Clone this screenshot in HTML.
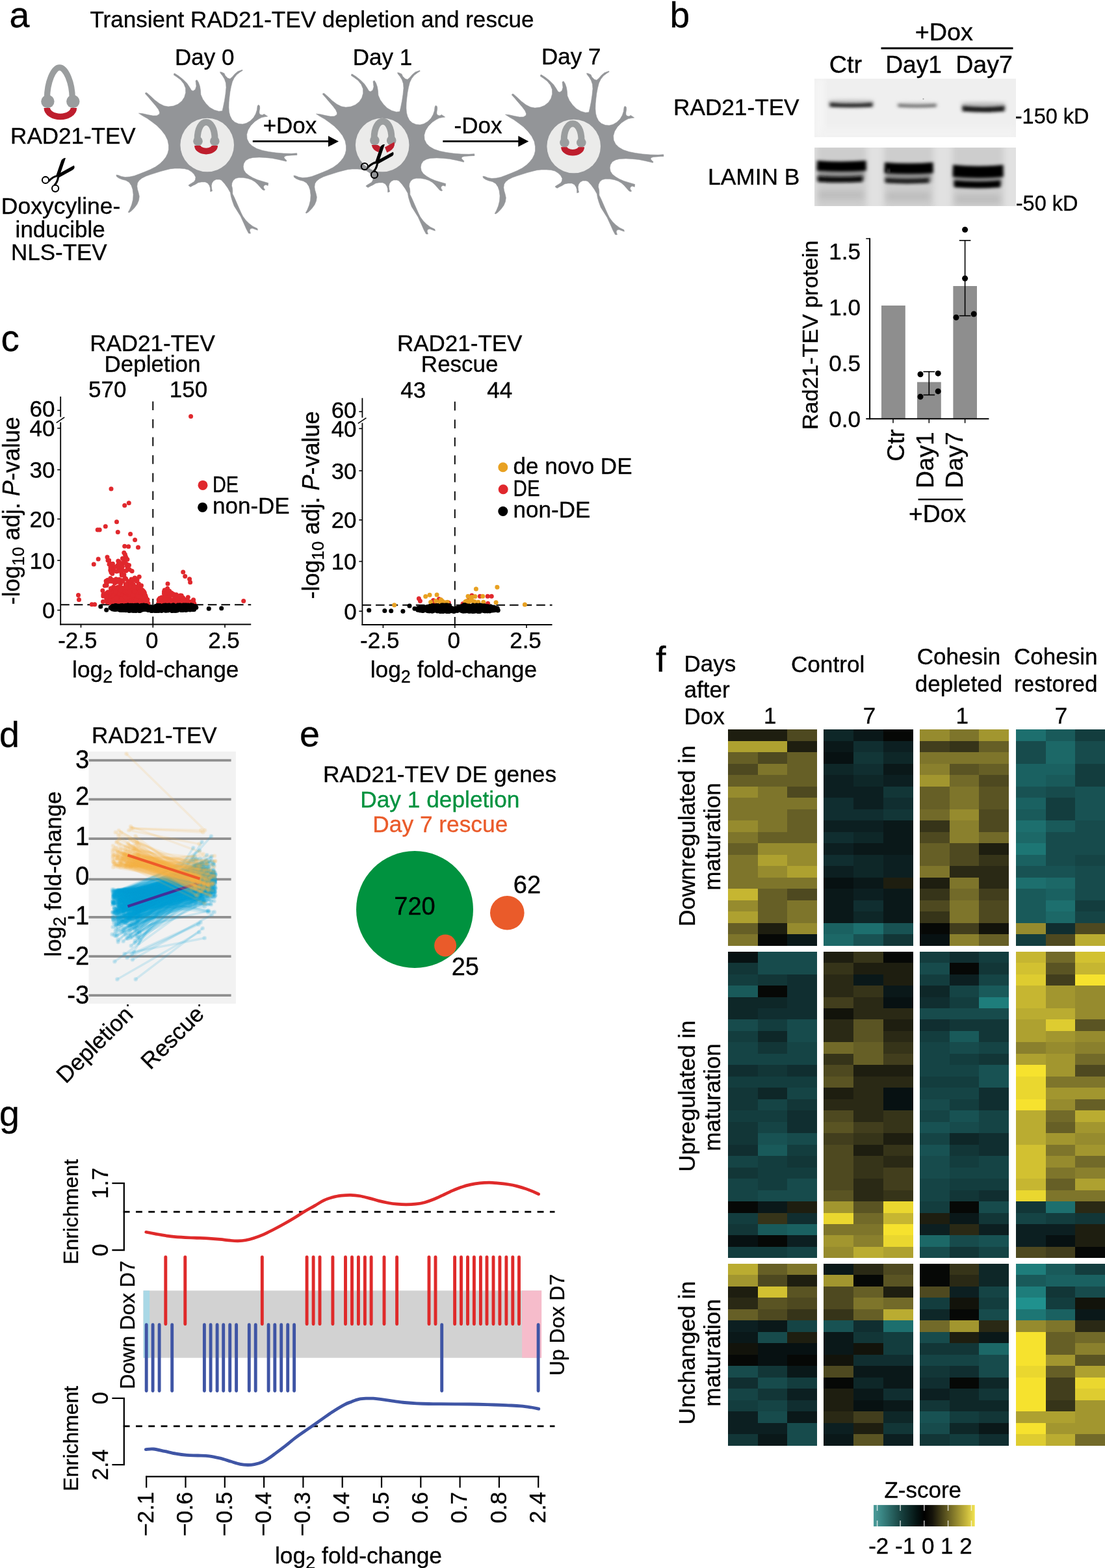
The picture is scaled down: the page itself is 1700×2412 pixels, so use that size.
<!DOCTYPE html>
<html lang="en"><head><meta charset="utf-8"><title>Transient RAD21-TEV depletion and rescue</title>
<style>
html,body{margin:0;padding:0;background:#fff}
body{width:1700px;height:2412px;overflow:hidden}
svg{display:block;font-family:"Liberation Sans", sans-serif}
text{stroke:#000;stroke-width:0.35px}
</style></head><body>
<svg width="1700" height="2412" viewBox="0 0 1700 2412">
<rect width="1700" height="2412" fill="#fff"/>
<g id="panel_a">
<text x="14.5" y="42.0" font-size="55.5">a</text>
<text x="138.4" y="42.0" font-size="35.1">Transient RAD21-TEV depletion and rescue</text>
<text x="314.7" y="99.5" font-size="35" text-anchor="middle">Day 0</text>
<text x="588.4" y="99.5" font-size="35" text-anchor="middle">Day 1</text>
<text x="878.7" y="98.8" font-size="35" text-anchor="middle">Day 7</text>
<g transform="translate(0,0)"><path d="M72.4,152 C72.4,127 82,103.9 91.6,103.9 C101.2,103.9 111.3,127 111.3,152" fill="none" stroke="#9a9d9e" stroke-width="9.3"/><circle cx="73.4" cy="156.1" r="10.2" fill="#9a9d9e"/><circle cx="112.3" cy="156.1" r="10.2" fill="#9a9d9e"/><path d="M72.3,166 A20.5,13.4 0 0 0 113.4,166" fill="none" stroke="#be1e2d" stroke-width="9.6"/></g>
<text x="112.4" y="220.6" font-size="35" text-anchor="middle">RAD21-TEV</text>
<g transform="translate(50.00,230.00) scale(0.04944)" fill="#000"><path d="M1032,262 C960,262 905,300 885,372 L738,800 L838,862 L872,735 Z"/><path d="M1288,498 C1330,560 1300,610 1240,642 L800,885 L760,800 L872,725 Z"/><path d="M780,820 C660,835 590,890 505,985" fill="none" stroke="#000" stroke-width="62"/><path d="M800,850 C790,960 740,1050 680,1115" fill="none" stroke="#000" stroke-width="62"/><circle cx="405" cy="950" r="103" fill="none" stroke="#000" stroke-width="42"/><circle cx="710" cy="1210" r="103" fill="none" stroke="#000" stroke-width="42"/></g>
<text x="93.6" y="329.0" font-size="35.5" text-anchor="middle">Doxycyline-</text>
<text x="92.7" y="365.2" font-size="35" text-anchor="middle">inducible</text>
<text x="90.8" y="399.6" font-size="35" text-anchor="middle">NLS-TEV</text>
<path d="M213.5,174.2 219.4,174.7 227.4,176.6 235.3,178.1 241.2,177.9 245.2,175.6 245.6,172.7 243.7,168.2 239.2,162.3 233.3,155.4 227.4,148.5 223.4,144.0 223.9,142.7 225.9,142.7 231.3,147.5 238.2,153.9 245.2,159.3 252.1,162.8 259.0,164.1 266.9,163.1 273.8,160.3 279.8,155.4 283.7,149.4 285.7,142.5 285.5,135.6 282.7,128.7 277.8,122.7 271.9,118.3 267.4,115.3 267.9,112.9 268.9,113.1 274.8,116.8 281.7,122.2 287.7,128.2 291.6,134.1 294.6,139.1 297.1,140.0 300.5,137.6 302.0,132.6 301.5,127.7 301.0,124.2 303.0,122.9 305.4,126.7 307.4,132.6 308.4,138.6 308.9,145.5 311.9,152.4 316.8,159.3 322.7,165.3 329.7,169.2 336.6,171.2 342.0,170.7 343.5,164.3 345.5,154.4 347.0,144.5 348.0,134.6 347.5,127.7 345.5,121.8 342.5,116.8 339.1,112.4 338.6,110.7 341.0,111.1 345.0,112.9 346.5,116.3 350.4,120.3 353.9,121.3 357.4,118.3 361.3,113.8 365.8,109.9 372.7,107.4 373.2,108.4 369.2,110.9 364.3,114.8 360.3,119.8 357.4,125.7 355.4,133.6 353.9,141.5 352.9,149.4 352.1,157.4 351.9,165.3 352.4,172.2 353.9,178.1 356.9,184.1 361.3,188.0 367.2,190.5 373.2,191.0 379.1,189.5 385.0,186.0 390.0,181.1 393.4,175.2 395.4,169.2 396.1,163.3 397.4,161.3 399.4,162.8 399.7,166.3 398.9,171.2 398.9,174.2 400.9,176.6 403.8,176.9 406.3,175.4 411.7,179.1 407.8,179.6 402.8,180.6 397.9,183.1 392.0,187.0 386.0,193.0 381.6,199.9 379.6,206.8 380.1,213.7 383.1,219.7 388.0,224.6 394.9,228.6 403.8,231.5 413.7,233.5 424.6,235.0 436.5,236.0 448.3,236.3 456.7,235.7 457.0,238.4 448.3,238.9 441.4,239.4 437.9,240.4 437.0,242.4 438.4,244.4 440.9,246.8 440.4,248.3 436.5,247.3 428.6,245.4 418.7,243.4 408.8,242.4 398.9,241.9 389.0,242.4 383.1,243.9 378.1,246.8 375.2,251.3 374.2,256.2 375.2,261.6 378.1,266.1 383.1,270.0 389.0,273.5 395.9,276.5 403.8,278.9 412.7,281.6 412.2,285.4 408.8,284.2 406.3,285.4 405.3,287.8 406.3,290.3 407.8,291.8 406.3,292.8 403.8,291.8 399.9,287.4 395.9,282.9 392.0,279.4 387.0,276.5 381.1,274.5 374.2,273.3 367.2,273.2 362.3,274.5 358.8,277.5 356.9,281.4 356.4,285.4 357.4,289.3 357.8,293.3 357.8,298.2 360.3,303.2 363.3,310.1 367.2,319.0 371.2,327.9 373.7,332.8 378.1,338.8 383.1,343.7 389.0,348.2 395.9,351.6 396.4,354.1 392.0,352.6 388.0,351.1 385.0,352.1 384.1,354.6 385.0,357.6 385.5,359.0 382.6,359.0 379.1,352.6 375.2,343.7 370.2,332.8 365.3,324.9 360.3,317.0 357.4,309.1 355.4,302.2 354.4,296.3 350.4,289.3 345.5,282.4 340.5,277.0 337.6,276.0 332.6,276.0 328.7,278.0 326.2,281.4 325.2,285.4 325.7,290.3 326.5,293.8 323.7,294.8 323.5,289.3 322.2,285.4 319.8,281.9 315.8,279.9 309.9,279.9 304.9,280.9 300.0,283.9 297.6,284.9 293.1,287.4 290.1,285.4 290.6,284.4 294.6,281.9 298.6,279.4 300.5,276.5 301.0,272.5 298.6,268.1 294.6,264.1 289.7,261.1 283.7,259.5 276.8,259.0 268.9,259.0 262.0,259.7 255.0,261.4 247.1,263.6 239.2,266.1 231.3,268.6 224.4,271.0 218.5,274.0 214.0,277.5 211.5,281.4 210.8,286.4 211.5,291.3 213.0,296.3 214.3,302.2 213.5,308.1 211.0,314.1 206.6,320.0 201.6,324.9 198.7,326.9 197.2,326.4 199.7,322.0 202.6,315.0 204.6,307.1 205.1,299.2 204.1,291.3 202.1,285.4 198.7,280.4 193.7,277.5 187.8,276.0 182.9,274.0 179.4,271.5 178.9,269.1 181.9,269.6 186.8,271.5 192.7,272.5 199.7,272.0 206.6,270.5 214.5,267.6 223.4,264.1 231.3,260.7 239.2,256.7 246.1,251.8 251.1,246.8 255.0,241.9 258.0,235.9 259.5,230.0 259.5,223.6 258.0,215.7 254.1,207.8 248.1,199.9 241.2,193.0 233.3,187.0 226.4,182.1 219.4,178.1Z" fill="#939598" stroke="#939598" stroke-width="0.6" stroke-linejoin="round"/>
<circle cx="318.7" cy="223.0" r="41.3" fill="#ebebea"/>
<path d="M486.5,175.2 492.4,175.7 500.4,177.6 508.3,179.1 514.2,178.9 518.2,176.6 518.6,173.7 516.7,169.2 512.2,163.3 506.3,156.4 500.4,149.5 496.4,145.0 496.9,143.7 498.9,143.7 504.3,148.5 511.2,154.9 518.2,160.3 525.1,163.8 532.0,165.1 539.9,164.1 546.8,161.3 552.8,156.4 556.7,150.4 558.7,143.5 558.5,136.6 555.7,129.7 550.8,123.7 544.9,119.3 540.4,116.3 540.9,113.9 541.9,114.1 547.8,117.8 554.7,123.2 560.7,129.2 564.6,135.1 567.6,140.1 570.1,141.0 573.5,138.6 575.0,133.6 574.5,128.7 574.0,125.2 576.0,123.9 578.4,127.7 580.4,133.6 581.4,139.6 581.9,146.5 584.9,153.4 589.8,160.3 595.7,166.3 602.7,170.2 609.6,172.2 615.0,171.7 616.5,165.3 618.5,155.4 620.0,145.5 621.0,135.6 620.5,128.7 618.5,122.8 615.5,117.8 612.1,113.4 611.6,111.7 614.0,112.1 618.0,113.9 619.5,117.3 623.4,121.3 626.9,122.3 630.4,119.3 634.3,114.8 638.8,110.9 645.7,108.4 646.2,109.4 642.2,111.9 637.3,115.8 633.3,120.8 630.4,126.7 628.4,134.6 626.9,142.5 625.9,150.4 625.1,158.4 624.9,166.3 625.4,173.2 626.9,179.1 629.9,185.1 634.3,189.0 640.2,191.5 646.2,192.0 652.1,190.5 658.0,187.0 663.0,182.1 666.4,176.2 668.4,170.2 669.1,164.3 670.4,162.3 672.4,163.8 672.7,167.3 671.9,172.2 671.9,175.2 673.9,177.6 676.8,177.9 679.3,176.4 684.7,180.1 680.8,180.6 675.8,181.6 670.9,184.1 665.0,188.0 659.0,194.0 654.6,200.9 652.6,207.8 653.1,214.7 656.1,220.7 661.0,225.6 667.9,229.6 676.8,232.5 686.7,234.5 697.6,236.0 709.5,237.0 721.3,237.3 729.7,236.7 730.0,239.4 721.3,239.9 714.4,240.4 710.9,241.4 710.0,243.4 711.4,245.4 713.9,247.8 713.4,249.3 709.5,248.3 701.6,246.4 691.7,244.4 681.8,243.4 671.9,242.9 662.0,243.4 656.1,244.9 651.1,247.8 648.2,252.3 647.2,257.2 648.2,262.6 651.1,267.1 656.1,271.0 662.0,274.5 668.9,277.5 676.8,279.9 685.7,282.6 685.2,286.4 681.8,285.2 679.3,286.4 678.3,288.8 679.3,291.3 680.8,292.8 679.3,293.8 676.8,292.8 672.9,288.4 668.9,283.9 665.0,280.4 660.0,277.5 654.1,275.5 647.2,274.3 640.2,274.2 635.3,275.5 631.8,278.5 629.9,282.4 629.4,286.4 630.4,290.3 630.8,294.3 630.8,299.2 633.3,304.2 636.3,311.1 640.2,320.0 644.2,328.9 646.7,333.8 651.1,339.8 656.1,344.7 662.0,349.2 668.9,352.6 669.4,355.1 665.0,353.6 661.0,352.1 658.0,353.1 657.1,355.6 658.0,358.6 658.5,360.0 655.6,360.0 652.1,353.6 648.2,344.7 643.2,333.8 638.3,325.9 633.3,318.0 630.4,310.1 628.4,303.2 627.4,297.3 623.4,290.3 618.5,283.4 613.5,278.0 610.6,277.0 605.6,277.0 601.7,279.0 599.2,282.4 598.2,286.4 598.7,291.3 599.5,294.8 596.7,295.8 596.5,290.3 595.2,286.4 592.8,282.9 588.8,280.9 582.9,280.9 577.9,281.9 573.0,284.9 570.6,285.9 566.1,288.4 563.1,286.4 563.6,285.4 567.6,282.9 571.6,280.4 573.5,277.5 574.0,273.5 571.6,269.1 567.6,265.1 562.7,262.1 556.7,260.5 549.8,260.0 541.9,260.0 535.0,260.7 528.0,262.4 520.1,264.6 512.2,267.1 504.3,269.6 497.4,272.0 491.5,275.0 487.0,278.5 484.5,282.4 483.8,287.4 484.5,292.3 486.0,297.3 487.3,303.2 486.5,309.1 484.0,315.1 479.6,321.0 474.6,325.9 471.7,327.9 470.2,327.4 472.7,323.0 475.6,316.0 477.6,308.1 478.1,300.2 477.1,292.3 475.1,286.4 471.7,281.4 466.7,278.5 460.8,277.0 455.9,275.0 452.4,272.5 451.9,270.1 454.9,270.6 459.8,272.5 465.7,273.5 472.7,273.0 479.6,271.5 487.5,268.6 496.4,265.1 504.3,261.7 512.2,257.7 519.1,252.8 524.1,247.8 528.0,242.9 531.0,236.9 532.5,231.0 532.5,224.6 531.0,216.7 527.1,208.8 521.1,200.9 514.2,194.0 506.3,188.0 499.4,183.1 492.4,179.1Z" fill="#939598" stroke="#939598" stroke-width="0.6" stroke-linejoin="round"/>
<circle cx="588.2" cy="223.0" r="41.3" fill="#ebebea"/>
<path d="M777.5,176.2 783.4,176.7 791.4,178.6 799.3,180.1 805.2,179.9 809.2,177.6 809.6,174.7 807.7,170.2 803.2,164.3 797.3,157.4 791.4,150.5 787.4,146.0 787.9,144.7 789.9,144.7 795.3,149.5 802.2,155.9 809.2,161.3 816.1,164.8 823.0,166.1 830.9,165.1 837.8,162.3 843.8,157.4 847.7,151.4 849.7,144.5 849.5,137.6 846.7,130.7 841.8,124.7 835.9,120.3 831.4,117.3 831.9,114.9 832.9,115.1 838.8,118.8 845.7,124.2 851.7,130.2 855.6,136.1 858.6,141.1 861.1,142.0 864.5,139.6 866.0,134.6 865.5,129.7 865.0,126.2 867.0,124.9 869.4,128.7 871.4,134.6 872.4,140.6 872.9,147.5 875.9,154.4 880.8,161.3 886.7,167.3 893.7,171.2 900.6,173.2 906.0,172.7 907.5,166.3 909.5,156.4 911.0,146.5 912.0,136.6 911.5,129.7 909.5,123.8 906.5,118.8 903.1,114.4 902.6,112.7 905.0,113.1 909.0,114.9 910.5,118.3 914.4,122.3 917.9,123.3 921.4,120.3 925.3,115.8 929.8,111.9 936.7,109.4 937.2,110.4 933.2,112.9 928.3,116.8 924.3,121.8 921.4,127.7 919.4,135.6 917.9,143.5 916.9,151.4 916.1,159.4 915.9,167.3 916.4,174.2 917.9,180.1 920.9,186.1 925.3,190.0 931.2,192.5 937.2,193.0 943.1,191.5 949.0,188.0 954.0,183.1 957.4,177.2 959.4,171.2 960.1,165.3 961.4,163.3 963.4,164.8 963.7,168.3 962.9,173.2 962.9,176.2 964.9,178.6 967.8,178.9 970.3,177.4 975.7,181.1 971.8,181.6 966.8,182.6 961.9,185.1 956.0,189.0 950.0,195.0 945.6,201.9 943.6,208.8 944.1,215.7 947.1,221.7 952.0,226.6 958.9,230.6 967.8,233.5 977.7,235.5 988.6,237.0 1000.5,238.0 1012.3,238.3 1020.7,237.7 1021.0,240.4 1012.3,240.9 1005.4,241.4 1001.9,242.4 1001.0,244.4 1002.4,246.4 1004.9,248.8 1004.4,250.3 1000.5,249.3 992.6,247.4 982.7,245.4 972.8,244.4 962.9,243.9 953.0,244.4 947.1,245.9 942.1,248.8 939.2,253.3 938.2,258.2 939.2,263.6 942.1,268.1 947.1,272.0 953.0,275.5 959.9,278.5 967.8,280.9 976.7,283.6 976.2,287.4 972.8,286.2 970.3,287.4 969.3,289.8 970.3,292.3 971.8,293.8 970.3,294.8 967.8,293.8 963.9,289.4 959.9,284.9 956.0,281.4 951.0,278.5 945.1,276.5 938.2,275.3 931.2,275.2 926.3,276.5 922.8,279.5 920.9,283.4 920.4,287.4 921.4,291.3 921.8,295.3 921.8,300.2 924.3,305.2 927.3,312.1 931.2,321.0 935.2,329.9 937.7,334.8 942.1,340.8 947.1,345.7 953.0,350.2 959.9,353.6 960.4,356.1 956.0,354.6 952.0,353.1 949.0,354.1 948.1,356.6 949.0,359.6 949.5,361.0 946.6,361.0 943.1,354.6 939.2,345.7 934.2,334.8 929.3,326.9 924.3,319.0 921.4,311.1 919.4,304.2 918.4,298.3 914.4,291.3 909.5,284.4 904.5,279.0 901.6,278.0 896.6,278.0 892.7,280.0 890.2,283.4 889.2,287.4 889.7,292.3 890.5,295.8 887.7,296.8 887.5,291.3 886.2,287.4 883.8,283.9 879.8,281.9 873.9,281.9 868.9,282.9 864.0,285.9 861.6,286.9 857.1,289.4 854.1,287.4 854.6,286.4 858.6,283.9 862.6,281.4 864.5,278.5 865.0,274.5 862.6,270.1 858.6,266.1 853.7,263.1 847.7,261.5 840.8,261.0 832.9,261.0 826.0,261.7 819.0,263.4 811.1,265.6 803.2,268.1 795.3,270.6 788.4,273.0 782.5,276.0 778.0,279.5 775.5,283.4 774.8,288.4 775.5,293.3 777.0,298.3 778.3,304.2 777.5,310.1 775.0,316.1 770.6,322.0 765.6,326.9 762.7,328.9 761.2,328.4 763.7,324.0 766.6,317.0 768.6,309.1 769.1,301.2 768.1,293.3 766.1,287.4 762.7,282.4 757.7,279.5 751.8,278.0 746.9,276.0 743.4,273.5 742.9,271.1 745.9,271.6 750.8,273.5 756.7,274.5 763.7,274.0 770.6,272.5 778.5,269.6 787.4,266.1 795.3,262.7 803.2,258.7 810.1,253.8 815.1,248.8 819.0,243.9 822.0,237.9 823.5,232.0 823.5,225.6 822.0,217.7 818.1,209.8 812.1,201.9 805.2,195.0 797.3,189.0 790.4,184.1 783.4,180.1Z" fill="#939598" stroke="#939598" stroke-width="0.6" stroke-linejoin="round"/>
<circle cx="882.7" cy="225.0" r="41.3" fill="#ebebea"/>
<g transform="translate(317.1,183.0)"><path d="M-13.4,31 C-13.4,14 -7,5 0,5 C7,5 13.4,14 13.4,31" fill="none" stroke="#9a9d9e" stroke-width="10"/><circle cx="-12.6" cy="34.2" r="7.3" fill="#9a9d9e"/><circle cx="13.2" cy="34.2" r="7.3" fill="#9a9d9e"/><path d="M-13.2,41 A13.2,8.6 0 0 0 13.2,41" fill="none" stroke="#be1e2d" stroke-width="9.6"/></g>
<g transform="translate(589.0,181.8)"><path d="M-13.4,31 C-13.4,14 -7,5 0,5 C7,5 13.4,14 13.4,31" fill="none" stroke="#9a9d9e" stroke-width="10"/><circle cx="-12.6" cy="34.2" r="7.3" fill="#9a9d9e"/><circle cx="13.2" cy="34.2" r="7.3" fill="#9a9d9e"/><path d="M-17.3,41.2 L-7.8,41.2 L-3.5,44.3 L-6.8,52.4 Q-15.6,49.5 -17.3,41.2Z" fill="#be1e2d"/><path d="M17.6,36.7 L3,44.6 L6.3,53 Q16.5,48.7 18,41.2Z" fill="#be1e2d"/></g>
<g transform="translate(881.1,185.2)"><path d="M-13.4,31 C-13.4,14 -7,5 0,5 C7,5 13.4,14 13.4,31" fill="none" stroke="#9a9d9e" stroke-width="10"/><circle cx="-12.6" cy="34.2" r="7.3" fill="#9a9d9e"/><circle cx="13.2" cy="34.2" r="7.3" fill="#9a9d9e"/><path d="M-13.2,41 A13.2,8.6 0 0 0 13.2,41" fill="none" stroke="#be1e2d" stroke-width="9.6"/></g>
<g transform="translate(540.90,209.10) scale(0.04944)" fill="#000"><path d="M1032,262 C960,262 905,300 885,372 L738,800 L838,862 L872,735 Z"/><path d="M1288,498 C1330,560 1300,610 1240,642 L800,885 L760,800 L872,725 Z"/><path d="M780,820 C660,835 590,890 505,985" fill="none" stroke="#000" stroke-width="62"/><path d="M800,850 C790,960 740,1050 680,1115" fill="none" stroke="#000" stroke-width="62"/><circle cx="405" cy="950" r="103" fill="none" stroke="#000" stroke-width="42"/><circle cx="710" cy="1210" r="103" fill="none" stroke="#000" stroke-width="42"/></g>
<line x1="388.8" y1="217.4" x2="507.0" y2="217.4" stroke="#000" stroke-width="2.6"/><path d="M521.0,217.4 L505.0,209.1 L505.0,225.7Z"/>
<line x1="681.3" y1="217.4" x2="799.3" y2="217.4" stroke="#000" stroke-width="2.6"/><path d="M813.3,217.4 L797.3,209.1 L797.3,225.7Z"/>
<text x="446.0" y="204.9" font-size="35" text-anchor="middle">+Dox</text>
<text x="735.5" y="204.9" font-size="35" text-anchor="middle">-Dox</text>
</g>
<g id="panel_b">
<defs><filter id="b1" x="-20%" y="-100%" width="140%" height="300%"><feGaussianBlur stdDeviation="2.4 1.9"/></filter><filter id="b2" x="-20%" y="-100%" width="140%" height="300%"><feGaussianBlur stdDeviation="3 2.6"/></filter><filter id="b3" x="-20%" y="-100%" width="140%" height="300%"><feGaussianBlur stdDeviation="5 5"/></filter><clipPath id="cb1"><rect x="1253" y="120.9" width="310" height="90"/></clipPath><clipPath id="cb2"><rect x="1253" y="227" width="310" height="90"/></clipPath></defs>
<text x="1030.5" y="41.5" font-size="55">b</text>
<text x="1452.3" y="62.4" font-size="37.8" text-anchor="middle">+Dox</text>
<line x1="1355.5" y1="74.2" x2="1558.5" y2="74.2" stroke="#000" stroke-width="3.0"/>
<text x="1300.9" y="112.4" font-size="37.8" text-anchor="middle">Ctr</text>
<text x="1405.6" y="112.4" font-size="37.2" text-anchor="middle">Day1</text>
<text x="1514.1" y="112.4" font-size="37.6" text-anchor="middle">Day7</text>
<text x="1229.6" y="176.9" font-size="35.2" text-anchor="end">RAD21-TEV</text>
<text x="1230.3" y="283.8" font-size="35.3" text-anchor="end">LAMIN B</text>
<text x="1561.8" y="190.4" font-size="32.5">-150 kD</text>
<text x="1562.8" y="324.2" font-size="32.5">-50 kD</text>
<g clip-path="url(#cb1)">
<rect x="1253.00" y="120.90" width="310.00" height="90.00" fill="#efefef"/>
<rect x="1253.00" y="120.90" width="16.00" height="90.00" fill="#f5f5f5" filter="url(#b3)"/>
<rect x="1262.00" y="196.00" width="300.00" height="20.00" fill="#f3f3f3" filter="url(#b3)"/>
<path d="M1276.0,153.5 Q1309.5,151.8 1343.0,153.5 L1343.0,162.2 Q1309.5,160.8 1276.0,162.2Z" fill="#c4c4c4" filter="url(#b2)" opacity="0.9"/>
<path d="M1381.0,157.4 Q1411.0,156.0 1441.0,157.4 L1441.0,163.2 Q1411.0,162.0 1381.0,163.2Z" fill="#d6d6d6" filter="url(#b2)" opacity="0.9"/>
<path d="M1480.0,157.5 Q1513.0,155.8 1546.0,157.5 L1546.0,168.2 Q1513.0,166.8 1480.0,168.2Z" fill="#bcbcbc" filter="url(#b2)" opacity="0.9"/>
<path d="M1276.5,157.7 Q1309.5,160.2 1342.5,157.7 L1342.5,164.4 Q1309.5,166.6 1276.5,164.4Z" fill="#2c2c2c" filter="url(#b1)" opacity="1"/>
<path d="M1381.5,159.7 Q1411.0,161.9 1440.5,159.7 L1440.5,164.6 Q1411.0,166.5 1381.5,164.6Z" fill="#6e6e6e" filter="url(#b1)" opacity="1"/>
<path d="M1480.5,162.8 Q1513.0,166.2 1545.5,162.8 L1545.5,171.3 Q1513.0,174.2 1480.5,171.3Z" fill="#1e1e1e" filter="url(#b1)" opacity="1"/>
<circle cx="1420.5" cy="152.3" r="1.0" fill="#999"/>
</g>
<g clip-path="url(#cb2)">
<rect x="1253.00" y="227.00" width="310.00" height="90.00" fill="#e1e1e1"/>
<rect x="1256.00" y="222.00" width="77.00" height="100.00" fill="#cdcdcd" filter="url(#b3)"/>
<rect x="1360.00" y="222.00" width="76.00" height="100.00" fill="#cdcdcd" filter="url(#b3)"/>
<rect x="1465.00" y="222.00" width="79.00" height="100.00" fill="#cdcdcd" filter="url(#b3)"/>
<rect x="1260.00" y="294.00" width="68.00" height="12.00" fill="#bcbcbc" filter="url(#b3)"/>
<rect x="1364.00" y="296.00" width="66.00" height="12.00" fill="#bcbcbc" filter="url(#b3)"/>
<rect x="1470.00" y="300.00" width="68.00" height="12.00" fill="#bcbcbc" filter="url(#b3)"/>
<path d="M1258.0,253.2 Q1294.0,256.0 1330.0,253.2 L1330.0,277.6 Q1294.0,280.0 1258.0,277.6Z" fill="#8a8a8a" filter="url(#b2)" opacity="0.9"/>
<path d="M1362.0,256.2 Q1397.5,259.0 1433.0,256.2 L1433.0,280.6 Q1397.5,283.0 1362.0,280.6Z" fill="#8a8a8a" filter="url(#b2)" opacity="0.9"/>
<path d="M1467.0,261.2 Q1504.0,264.0 1541.0,261.2 L1541.0,285.6 Q1504.0,288.0 1467.0,285.6Z" fill="#8a8a8a" filter="url(#b2)" opacity="0.9"/>
<path d="M1257.0,247.1 Q1294.8,249.9 1332.5,247.1 L1332.5,262.5 Q1294.8,264.9 1257.0,262.5Z" fill="#000" filter="url(#b1)" opacity="1"/>
<path d="M1361.0,249.7 Q1398.2,252.8 1435.5,249.7 L1435.5,266.2 Q1398.2,268.8 1361.0,266.2Z" fill="#000" filter="url(#b1)" opacity="1"/>
<path d="M1466.0,253.4 Q1504.8,257.6 1543.5,253.4 L1543.5,272.0 Q1504.8,275.6 1466.0,272.0Z" fill="#000" filter="url(#b1)" opacity="1"/>
<path d="M1258.0,270.8 Q1292.5,273.4 1327.0,270.8 L1327.0,279.7 Q1292.5,281.9 1258.0,279.7Z" fill="#0c0c0c" filter="url(#b1)" opacity="1"/>
<path d="M1362.0,273.8 Q1395.5,276.3 1429.0,273.8 L1429.0,281.1 Q1395.5,283.3 1362.0,281.1Z" fill="#1c1c1c" filter="url(#b1)" opacity="1"/>
<path d="M1468.0,277.6 Q1503.5,281.0 1539.0,277.6 L1539.0,288.1 Q1503.5,291.0 1468.0,288.1Z" fill="#050505" filter="url(#b1)" opacity="1"/>
<circle cx="1367.2" cy="262.5" r="1.6" fill="#ddd" filter="url(#b1)"/>
</g>
<rect x="1356.00" y="470.00" width="36.80" height="174.30" fill="#8e8e8e"/>
<rect x="1411.00" y="587.70" width="36.80" height="56.60" fill="#8e8e8e"/>
<rect x="1466.40" y="440.00" width="36.60" height="204.30" fill="#8e8e8e"/>
<line x1="1338.1" y1="366.3" x2="1338.1" y2="645.3" stroke="#000" stroke-width="2.0"/>
<line x1="1332.3" y1="644.3" x2="1521.4" y2="644.3" stroke="#000" stroke-width="2.0"/>
<line x1="1332.3" y1="367.1" x2="1338.1" y2="367.1" stroke="#000" stroke-width="1.5"/>
<line x1="1374.0" y1="644.3" x2="1374.0" y2="650.8" stroke="#000" stroke-width="1.5"/>
<line x1="1429.3" y1="644.3" x2="1429.3" y2="650.8" stroke="#000" stroke-width="1.5"/>
<line x1="1484.6" y1="644.3" x2="1484.6" y2="650.8" stroke="#000" stroke-width="1.5"/>
<text x="1324.0" y="398.8" font-size="35" text-anchor="end">1.5</text>
<text x="1324.0" y="484.7" font-size="35" text-anchor="end">1.0</text>
<text x="1324.0" y="570.5" font-size="35" text-anchor="end">0.5</text>
<text x="1324.0" y="656.8" font-size="35" text-anchor="end">0.0</text>
<line x1="1429.3" y1="571.7" x2="1429.3" y2="607.5" stroke="#000" stroke-width="1.6"/>
<line x1="1420.5" y1="571.7" x2="1438.1" y2="571.7" stroke="#000" stroke-width="1.6"/>
<line x1="1420.5" y1="607.5" x2="1438.1" y2="607.5" stroke="#000" stroke-width="1.6"/>
<line x1="1484.6" y1="369.9" x2="1484.6" y2="485.7" stroke="#000" stroke-width="1.6"/>
<line x1="1475.8" y1="369.9" x2="1493.4" y2="369.9" stroke="#000" stroke-width="1.6"/>
<line x1="1475.8" y1="485.7" x2="1493.4" y2="485.7" stroke="#000" stroke-width="1.6"/>
<circle cx="1416.0" cy="575.7" r="4.5" fill="#000"/>
<circle cx="1443.2" cy="574.4" r="4.5" fill="#000"/>
<circle cx="1443.2" cy="601.9" r="4.5" fill="#000"/>
<circle cx="1416.0" cy="610.3" r="4.5" fill="#000"/>
<circle cx="1484.6" cy="353.2" r="4.5" fill="#000"/>
<circle cx="1484.6" cy="428.3" r="4.5" fill="#000"/>
<circle cx="1471.0" cy="488.2" r="4.5" fill="#000"/>
<circle cx="1498.2" cy="483.0" r="4.5" fill="#000"/>
<text x="1258.5" y="515.4" font-size="34" text-anchor="middle" transform="rotate(-90 1258.5 515.4)">Rad21-TEV protein</text>
<text x="1391.0" y="660.5" font-size="37" text-anchor="end" transform="rotate(-90 1391.0 660.5)">Ctr</text>
<text x="1436.0" y="664.5" font-size="37" text-anchor="end" transform="rotate(-90 1436.0 664.5)">Day1</text>
<text x="1480.5" y="664.5" font-size="37" text-anchor="end" transform="rotate(-90 1480.5 664.5)">Day7</text>
<line x1="1412.6" y1="768.3" x2="1481.3" y2="768.3" stroke="#000" stroke-width="2.6"/>
<text x="1442.0" y="802.8" font-size="37.3" text-anchor="middle">+Dox</text>
</g>
<g id="panel_c">
<text x="1.5" y="539.5" font-size="56.5">c</text>
<text x="234.5" y="539.6" font-size="35" text-anchor="middle">RAD21-TEV</text>
<text x="234.5" y="571.5" font-size="35" text-anchor="middle">Depletion</text>
<text x="165.3" y="610.6" font-size="35" text-anchor="middle">570</text>
<text x="290.0" y="610.6" font-size="35" text-anchor="middle">150</text>
<line x1="93.2" y1="610.0" x2="93.2" y2="641.5" stroke="#000" stroke-width="1.8"/>
<line x1="93.2" y1="649.5" x2="93.2" y2="961.4" stroke="#000" stroke-width="1.8"/>
<line x1="86.7" y1="650.3" x2="99.2" y2="641.9" stroke="#000" stroke-width="1.6"/>
<line x1="92.3" y1="960.5" x2="386.2" y2="960.5" stroke="#000" stroke-width="1.8"/>
<line x1="88.2" y1="631.3" x2="93.2" y2="631.3" stroke="#000" stroke-width="1.6"/>
<text x="84.5" y="640.8" font-size="35" text-anchor="end">60</text>
<line x1="88.2" y1="658.7" x2="93.2" y2="658.7" stroke="#000" stroke-width="1.6"/>
<text x="84.5" y="671.2" font-size="35" text-anchor="end">40</text>
<line x1="88.2" y1="722.6" x2="93.2" y2="722.6" stroke="#000" stroke-width="1.6"/>
<text x="84.5" y="735.1" font-size="35" text-anchor="end">30</text>
<line x1="88.2" y1="798.4" x2="93.2" y2="798.4" stroke="#000" stroke-width="1.6"/>
<text x="84.5" y="810.9" font-size="35" text-anchor="end">20</text>
<line x1="88.2" y1="862.1" x2="93.2" y2="862.1" stroke="#000" stroke-width="1.6"/>
<text x="84.5" y="874.6" font-size="35" text-anchor="end">10</text>
<line x1="88.2" y1="938.6" x2="93.2" y2="938.6" stroke="#000" stroke-width="1.6"/>
<text x="84.5" y="951.1" font-size="35" text-anchor="end">0</text>
<line x1="124.5" y1="960.5" x2="124.5" y2="965.5" stroke="#000" stroke-width="1.6"/>
<text x="119.3" y="996.6" font-size="35" text-anchor="middle">-2.5</text>
<line x1="235.3" y1="960.5" x2="235.3" y2="965.5" stroke="#000" stroke-width="1.6"/>
<text x="233.8" y="996.6" font-size="35" text-anchor="middle">0</text>
<line x1="346.0" y1="960.5" x2="346.0" y2="965.5" stroke="#000" stroke-width="1.6"/>
<text x="344.5" y="996.6" font-size="35" text-anchor="middle">2.5</text>
<line x1="235.3" y1="617.4" x2="235.3" y2="960.5" stroke="#000" stroke-width="1.9" stroke-dasharray="13.6 14"/>
<line x1="93.2" y1="930.3" x2="386.2" y2="930.3" stroke="#000" stroke-width="1.9" stroke-dasharray="13.6 7"/>
<g fill="#e0282d"><circle cx="202.4" cy="904.5" r="3.5"/><circle cx="187.2" cy="882.6" r="3.5"/><circle cx="187.6" cy="876.6" r="3.5"/><circle cx="189.1" cy="894.0" r="3.5"/><circle cx="192.3" cy="910.1" r="3.5"/><circle cx="190.0" cy="914.5" r="3.5"/><circle cx="191.1" cy="920.2" r="3.5"/><circle cx="165.8" cy="894.7" r="3.5"/><circle cx="163.1" cy="893.8" r="3.5"/><circle cx="193.8" cy="925.5" r="3.5"/><circle cx="203.0" cy="922.2" r="3.5"/><circle cx="193.9" cy="924.4" r="3.5"/><circle cx="193.3" cy="898.8" r="3.5"/><circle cx="192.4" cy="853.0" r="3.5"/><circle cx="223.6" cy="915.7" r="3.5"/><circle cx="161.2" cy="901.0" r="3.5"/><circle cx="211.8" cy="916.2" r="3.5"/><circle cx="216.2" cy="917.4" r="3.5"/><circle cx="193.2" cy="855.9" r="3.5"/><circle cx="171.6" cy="907.9" r="3.5"/><circle cx="193.5" cy="903.5" r="3.5"/><circle cx="159.0" cy="914.3" r="3.5"/><circle cx="168.7" cy="866.6" r="3.5"/><circle cx="203.0" cy="900.3" r="3.5"/><circle cx="202.6" cy="897.5" r="3.5"/><circle cx="214.9" cy="907.8" r="3.5"/><circle cx="182.8" cy="868.2" r="3.5"/><circle cx="188.8" cy="914.7" r="3.5"/><circle cx="210.9" cy="924.9" r="3.5"/><circle cx="216.5" cy="908.7" r="3.5"/><circle cx="199.3" cy="876.2" r="3.5"/><circle cx="158.8" cy="916.9" r="3.5"/><circle cx="201.5" cy="894.5" r="3.5"/><circle cx="194.0" cy="857.9" r="3.5"/><circle cx="166.0" cy="910.7" r="3.5"/><circle cx="204.3" cy="927.0" r="3.5"/><circle cx="164.1" cy="900.5" r="3.5"/><circle cx="172.8" cy="882.5" r="3.5"/><circle cx="199.6" cy="912.6" r="3.5"/><circle cx="202.1" cy="891.1" r="3.5"/><circle cx="174.2" cy="916.9" r="3.5"/><circle cx="185.8" cy="907.8" r="3.5"/><circle cx="197.6" cy="901.0" r="3.5"/><circle cx="203.7" cy="893.6" r="3.5"/><circle cx="186.1" cy="909.9" r="3.5"/><circle cx="171.0" cy="880.6" r="3.5"/><circle cx="193.5" cy="878.0" r="3.5"/><circle cx="216.0" cy="914.9" r="3.5"/><circle cx="179.0" cy="905.0" r="3.5"/><circle cx="211.0" cy="891.9" r="3.5"/><circle cx="210.8" cy="892.9" r="3.5"/><circle cx="172.9" cy="920.4" r="3.5"/><circle cx="173.4" cy="925.6" r="3.5"/><circle cx="181.0" cy="869.4" r="3.5"/><circle cx="208.6" cy="907.7" r="3.5"/><circle cx="197.0" cy="894.2" r="3.5"/><circle cx="214.2" cy="887.3" r="3.5"/><circle cx="175.8" cy="877.9" r="3.5"/><circle cx="220.9" cy="927.5" r="3.5"/><circle cx="175.5" cy="910.0" r="3.5"/><circle cx="211.1" cy="902.9" r="3.5"/><circle cx="190.8" cy="862.3" r="3.5"/><circle cx="188.4" cy="871.4" r="3.5"/><circle cx="198.2" cy="904.4" r="3.5"/><circle cx="171.9" cy="879.5" r="3.5"/><circle cx="167.0" cy="926.6" r="3.5"/><circle cx="181.7" cy="917.5" r="3.5"/><circle cx="158.5" cy="925.4" r="3.5"/><circle cx="183.0" cy="864.0" r="3.5"/><circle cx="164.2" cy="912.4" r="3.5"/><circle cx="164.6" cy="926.0" r="3.5"/><circle cx="202.7" cy="906.0" r="3.5"/><circle cx="163.7" cy="921.0" r="3.5"/><circle cx="211.9" cy="912.5" r="3.5"/><circle cx="179.8" cy="895.2" r="3.5"/><circle cx="157.9" cy="908.4" r="3.5"/><circle cx="177.1" cy="872.1" r="3.5"/><circle cx="183.3" cy="903.3" r="3.5"/><circle cx="188.4" cy="867.6" r="3.5"/><circle cx="181.8" cy="873.0" r="3.5"/><circle cx="195.8" cy="911.6" r="3.5"/><circle cx="219.6" cy="921.5" r="3.5"/><circle cx="216.5" cy="915.2" r="3.5"/><circle cx="192.4" cy="865.7" r="3.5"/><circle cx="169.9" cy="889.6" r="3.5"/><circle cx="181.8" cy="862.9" r="3.5"/><circle cx="177.2" cy="911.7" r="3.5"/><circle cx="207.7" cy="889.3" r="3.5"/><circle cx="202.4" cy="900.6" r="3.5"/><circle cx="185.8" cy="897.5" r="3.5"/><circle cx="221.7" cy="921.9" r="3.5"/><circle cx="221.5" cy="926.7" r="3.5"/><circle cx="171.5" cy="907.9" r="3.5"/><circle cx="173.5" cy="892.3" r="3.5"/><circle cx="195.3" cy="869.0" r="3.5"/><circle cx="181.9" cy="902.9" r="3.5"/><circle cx="167.7" cy="862.0" r="3.5"/><circle cx="168.8" cy="894.0" r="3.5"/><circle cx="165.6" cy="892.2" r="3.5"/><circle cx="221.3" cy="909.9" r="3.5"/><circle cx="170.4" cy="904.9" r="3.5"/><circle cx="167.7" cy="916.4" r="3.5"/><circle cx="174.5" cy="902.9" r="3.5"/><circle cx="194.7" cy="916.0" r="3.5"/><circle cx="180.4" cy="913.7" r="3.5"/><circle cx="163.8" cy="898.3" r="3.5"/><circle cx="210.2" cy="894.3" r="3.5"/><circle cx="170.7" cy="878.2" r="3.5"/><circle cx="164.2" cy="912.4" r="3.5"/><circle cx="184.8" cy="926.0" r="3.5"/><circle cx="185.6" cy="866.1" r="3.5"/><circle cx="207.2" cy="889.1" r="3.5"/><circle cx="202.7" cy="892.1" r="3.5"/><circle cx="186.0" cy="870.1" r="3.5"/><circle cx="198.5" cy="869.5" r="3.5"/><circle cx="187.2" cy="910.6" r="3.5"/><circle cx="203.4" cy="892.8" r="3.5"/><circle cx="179.3" cy="879.0" r="3.5"/><circle cx="163.5" cy="895.5" r="3.5"/><circle cx="202.5" cy="908.9" r="3.5"/><circle cx="187.4" cy="892.7" r="3.5"/><circle cx="202.0" cy="896.3" r="3.5"/><circle cx="169.8" cy="876.9" r="3.5"/><circle cx="213.4" cy="898.0" r="3.5"/><circle cx="196.0" cy="872.0" r="3.5"/><circle cx="193.9" cy="878.1" r="3.5"/><circle cx="171.8" cy="874.6" r="3.5"/><circle cx="185.1" cy="868.4" r="3.5"/><circle cx="182.4" cy="924.2" r="3.5"/><circle cx="176.5" cy="897.1" r="3.5"/><circle cx="187.2" cy="873.5" r="3.5"/><circle cx="182.2" cy="907.7" r="3.5"/><circle cx="172.8" cy="870.1" r="3.5"/><circle cx="185.1" cy="911.9" r="3.5"/><circle cx="190.8" cy="884.3" r="3.5"/><circle cx="182.3" cy="878.2" r="3.5"/><circle cx="190.7" cy="905.4" r="3.5"/><circle cx="196.6" cy="918.8" r="3.5"/><circle cx="217.5" cy="900.7" r="3.5"/><circle cx="218.8" cy="907.6" r="3.5"/><circle cx="183.9" cy="908.7" r="3.5"/><circle cx="187.6" cy="914.0" r="3.5"/><circle cx="177.0" cy="909.3" r="3.5"/><circle cx="178.5" cy="890.8" r="3.5"/><circle cx="187.8" cy="878.3" r="3.5"/><circle cx="204.7" cy="900.0" r="3.5"/><circle cx="202.8" cy="927.5" r="3.5"/><circle cx="204.5" cy="908.9" r="3.5"/><circle cx="163.8" cy="917.4" r="3.5"/><circle cx="173.5" cy="867.3" r="3.5"/><circle cx="181.8" cy="916.6" r="3.5"/><circle cx="170.8" cy="873.9" r="3.5"/><circle cx="195.3" cy="870.0" r="3.5"/><circle cx="188.5" cy="858.9" r="3.5"/><circle cx="197.1" cy="907.8" r="3.5"/><circle cx="173.5" cy="917.7" r="3.5"/><circle cx="192.5" cy="924.1" r="3.5"/><circle cx="190.6" cy="917.3" r="3.5"/><circle cx="192.4" cy="889.3" r="3.5"/><circle cx="195.9" cy="860.5" r="3.5"/><circle cx="190.7" cy="884.2" r="3.5"/><circle cx="183.9" cy="895.6" r="3.5"/><circle cx="226.8" cy="922.8" r="3.5"/><circle cx="203.1" cy="878.4" r="3.5"/><circle cx="193.8" cy="890.4" r="3.5"/><circle cx="222.2" cy="926.0" r="3.5"/><circle cx="183.2" cy="891.2" r="3.5"/><circle cx="194.9" cy="867.8" r="3.5"/><circle cx="171.8" cy="894.3" r="3.5"/><circle cx="187.3" cy="884.9" r="3.5"/><circle cx="218.9" cy="919.3" r="3.5"/><circle cx="218.9" cy="915.8" r="3.5"/><circle cx="199.4" cy="920.0" r="3.5"/><circle cx="199.6" cy="897.5" r="3.5"/><circle cx="208.5" cy="903.3" r="3.5"/><circle cx="189.0" cy="918.6" r="3.5"/><circle cx="187.1" cy="909.9" r="3.5"/><circle cx="207.3" cy="903.6" r="3.5"/><circle cx="172.0" cy="919.1" r="3.5"/><circle cx="169.4" cy="922.6" r="3.5"/><circle cx="208.7" cy="903.4" r="3.5"/><circle cx="206.2" cy="908.6" r="3.5"/><circle cx="211.0" cy="909.6" r="3.5"/><circle cx="210.1" cy="921.9" r="3.5"/><circle cx="209.2" cy="914.0" r="3.5"/><circle cx="215.0" cy="925.5" r="3.5"/><circle cx="179.9" cy="927.5" r="3.5"/><circle cx="208.6" cy="916.9" r="3.5"/><circle cx="202.9" cy="920.5" r="3.5"/><circle cx="187.2" cy="915.2" r="3.5"/><circle cx="188.2" cy="914.9" r="3.5"/><circle cx="172.3" cy="910.5" r="3.5"/><circle cx="171.4" cy="924.9" r="3.5"/><circle cx="217.9" cy="910.3" r="3.5"/><circle cx="169.9" cy="916.3" r="3.5"/><circle cx="204.7" cy="898.7" r="3.5"/><circle cx="193.9" cy="925.4" r="3.5"/><circle cx="207.9" cy="921.9" r="3.5"/><circle cx="178.2" cy="928.2" r="3.5"/><circle cx="176.8" cy="928.1" r="3.5"/><circle cx="212.4" cy="921.0" r="3.5"/><circle cx="213.3" cy="922.7" r="3.5"/><circle cx="213.0" cy="926.0" r="3.5"/><circle cx="206.9" cy="906.0" r="3.5"/><circle cx="196.8" cy="898.8" r="3.5"/><circle cx="212.3" cy="928.4" r="3.5"/><circle cx="218.3" cy="926.2" r="3.5"/><circle cx="187.8" cy="905.3" r="3.5"/><circle cx="198.3" cy="926.8" r="3.5"/><circle cx="191.2" cy="910.3" r="3.5"/><circle cx="195.5" cy="907.0" r="3.5"/><circle cx="190.9" cy="908.1" r="3.5"/><circle cx="207.0" cy="915.3" r="3.5"/><circle cx="192.3" cy="903.5" r="3.5"/><circle cx="203.2" cy="919.3" r="3.5"/><circle cx="211.4" cy="902.2" r="3.5"/><circle cx="189.0" cy="909.3" r="3.5"/><circle cx="205.3" cy="918.8" r="3.5"/><circle cx="194.9" cy="900.3" r="3.5"/><circle cx="191.7" cy="906.8" r="3.5"/><circle cx="205.3" cy="900.0" r="3.5"/><circle cx="217.7" cy="919.6" r="3.5"/><circle cx="194.5" cy="909.9" r="3.5"/><circle cx="203.5" cy="919.9" r="3.5"/><circle cx="189.9" cy="926.0" r="3.5"/><circle cx="202.4" cy="903.2" r="3.5"/><circle cx="181.1" cy="904.7" r="3.5"/><circle cx="225.2" cy="921.2" r="3.5"/><circle cx="205.6" cy="907.0" r="3.5"/><circle cx="197.1" cy="922.1" r="3.5"/><circle cx="184.4" cy="904.7" r="3.5"/><circle cx="216.8" cy="914.0" r="3.5"/><circle cx="215.6" cy="921.3" r="3.5"/><circle cx="204.0" cy="900.0" r="3.5"/><circle cx="222.4" cy="912.0" r="3.5"/><circle cx="197.8" cy="909.8" r="3.5"/><circle cx="180.4" cy="922.6" r="3.5"/><circle cx="179.9" cy="906.3" r="3.5"/><circle cx="190.9" cy="910.6" r="3.5"/><circle cx="193.3" cy="912.1" r="3.5"/><circle cx="178.0" cy="927.3" r="3.5"/><circle cx="175.4" cy="908.4" r="3.5"/><circle cx="216.5" cy="923.7" r="3.5"/><circle cx="205.0" cy="917.7" r="3.5"/><circle cx="200.3" cy="928.1" r="3.5"/><circle cx="221.2" cy="913.1" r="3.5"/><circle cx="203.2" cy="920.3" r="3.5"/><circle cx="216.0" cy="915.1" r="3.5"/><circle cx="184.3" cy="927.5" r="3.5"/><circle cx="181.1" cy="922.9" r="3.5"/><circle cx="174.0" cy="927.1" r="3.5"/><circle cx="202.6" cy="900.8" r="3.5"/><circle cx="196.6" cy="898.4" r="3.5"/><circle cx="223.9" cy="926.7" r="3.5"/><circle cx="205.1" cy="916.0" r="3.5"/><circle cx="184.5" cy="910.6" r="3.5"/><circle cx="209.4" cy="916.1" r="3.5"/><circle cx="196.0" cy="923.6" r="3.5"/><circle cx="182.4" cy="927.5" r="3.5"/><circle cx="184.4" cy="917.4" r="3.5"/><circle cx="219.5" cy="927.2" r="3.5"/><circle cx="216.4" cy="906.0" r="3.5"/><circle cx="172.4" cy="924.1" r="3.5"/><circle cx="209.8" cy="919.1" r="3.5"/><circle cx="204.7" cy="904.4" r="3.5"/><circle cx="175.4" cy="918.3" r="3.5"/><circle cx="184.5" cy="924.7" r="3.5"/><circle cx="198.0" cy="923.3" r="3.5"/><circle cx="183.4" cy="924.1" r="3.5"/><circle cx="209.9" cy="928.3" r="3.5"/><circle cx="212.3" cy="922.5" r="3.5"/><circle cx="177.4" cy="914.4" r="3.5"/><circle cx="219.8" cy="908.6" r="3.5"/><circle cx="196.3" cy="917.8" r="3.5"/><circle cx="218.7" cy="913.4" r="3.5"/><circle cx="206.9" cy="924.1" r="3.5"/><circle cx="182.4" cy="926.9" r="3.5"/><circle cx="212.1" cy="911.0" r="3.5"/><circle cx="185.1" cy="915.5" r="3.5"/><circle cx="178.4" cy="920.0" r="3.5"/><circle cx="219.6" cy="918.0" r="3.5"/><circle cx="179.1" cy="913.0" r="3.5"/><circle cx="209.3" cy="922.0" r="3.5"/><circle cx="197.8" cy="919.5" r="3.5"/><circle cx="184.6" cy="922.3" r="3.5"/><circle cx="174.9" cy="919.4" r="3.5"/><circle cx="223.1" cy="926.9" r="3.5"/><circle cx="212.8" cy="919.3" r="3.5"/><circle cx="228.0" cy="928.2" r="3.5"/><circle cx="217.7" cy="917.8" r="3.5"/><circle cx="177.5" cy="928.7" r="3.5"/><circle cx="219.2" cy="911.8" r="3.5"/><circle cx="180.2" cy="914.8" r="3.5"/><circle cx="224.0" cy="921.7" r="3.5"/><circle cx="203.5" cy="924.3" r="3.5"/><circle cx="179.9" cy="904.0" r="3.5"/><circle cx="211.9" cy="922.4" r="3.5"/><circle cx="173.8" cy="925.9" r="3.5"/><circle cx="205.7" cy="912.8" r="3.5"/><circle cx="185.5" cy="922.1" r="3.5"/><circle cx="205.9" cy="906.0" r="3.5"/><circle cx="218.0" cy="910.0" r="3.5"/><circle cx="181.2" cy="926.6" r="3.5"/><circle cx="213.2" cy="915.6" r="3.5"/><circle cx="212.5" cy="926.9" r="3.5"/><circle cx="217.9" cy="918.0" r="3.5"/><circle cx="198.7" cy="928.2" r="3.5"/><circle cx="221.6" cy="920.2" r="3.5"/><circle cx="191.1" cy="923.5" r="3.5"/><circle cx="191.4" cy="909.7" r="3.5"/><circle cx="195.9" cy="912.2" r="3.5"/><circle cx="176.3" cy="905.8" r="3.5"/><circle cx="188.4" cy="905.9" r="3.5"/><circle cx="192.0" cy="904.6" r="3.5"/><circle cx="200.0" cy="911.7" r="3.5"/><circle cx="201.4" cy="928.1" r="3.5"/><circle cx="180.0" cy="925.4" r="3.5"/><circle cx="184.1" cy="902.5" r="3.5"/><circle cx="170.8" cy="925.6" r="3.5"/><circle cx="211.2" cy="922.5" r="3.5"/><circle cx="170.1" cy="909.5" r="3.5"/><circle cx="203.8" cy="912.0" r="3.5"/><circle cx="211.4" cy="925.4" r="3.5"/><circle cx="171.7" cy="924.8" r="3.5"/><circle cx="198.8" cy="912.7" r="3.5"/><circle cx="185.9" cy="924.8" r="3.5"/><circle cx="193.5" cy="924.3" r="3.5"/><circle cx="204.7" cy="901.1" r="3.5"/><circle cx="177.9" cy="910.4" r="3.5"/><circle cx="214.0" cy="923.5" r="3.5"/><circle cx="192.5" cy="915.2" r="3.5"/><circle cx="219.7" cy="911.9" r="3.5"/><circle cx="215.9" cy="917.9" r="3.5"/><circle cx="183.5" cy="918.0" r="3.5"/><circle cx="172.2" cy="912.1" r="3.5"/><circle cx="184.0" cy="915.2" r="3.5"/><circle cx="207.2" cy="917.0" r="3.5"/><circle cx="201.0" cy="926.5" r="3.5"/><circle cx="195.1" cy="912.5" r="3.5"/><circle cx="170.3" cy="924.3" r="3.5"/><circle cx="222.4" cy="927.6" r="3.5"/><circle cx="207.7" cy="920.2" r="3.5"/><circle cx="209.9" cy="920.0" r="3.5"/><circle cx="201.7" cy="899.1" r="3.5"/><circle cx="206.5" cy="920.7" r="3.5"/><circle cx="200.4" cy="914.8" r="3.5"/><circle cx="187.4" cy="908.0" r="3.5"/><circle cx="176.3" cy="909.7" r="3.5"/><circle cx="185.2" cy="913.8" r="3.5"/><circle cx="201.2" cy="924.0" r="3.5"/><circle cx="176.5" cy="924.5" r="3.5"/><circle cx="186.7" cy="915.7" r="3.5"/><circle cx="186.4" cy="920.9" r="3.5"/><circle cx="174.3" cy="911.2" r="3.5"/><circle cx="219.7" cy="909.2" r="3.5"/><circle cx="203.4" cy="907.9" r="3.5"/><circle cx="181.1" cy="906.0" r="3.5"/><circle cx="196.8" cy="911.2" r="3.5"/><circle cx="206.0" cy="913.7" r="3.5"/><circle cx="187.7" cy="921.0" r="3.5"/><circle cx="182.4" cy="912.3" r="3.5"/><circle cx="192.1" cy="910.0" r="3.5"/><circle cx="169.7" cy="917.4" r="3.5"/><circle cx="221.0" cy="921.1" r="3.5"/><circle cx="202.6" cy="913.0" r="3.5"/><circle cx="186.8" cy="904.0" r="3.5"/><circle cx="178.6" cy="926.6" r="3.5"/><circle cx="221.6" cy="914.6" r="3.5"/><circle cx="172.7" cy="916.3" r="3.5"/><circle cx="195.5" cy="905.2" r="3.5"/><circle cx="175.6" cy="921.5" r="3.5"/><circle cx="178.3" cy="917.9" r="3.5"/><circle cx="190.3" cy="907.1" r="3.5"/><circle cx="206.2" cy="901.5" r="3.5"/><circle cx="218.5" cy="912.1" r="3.5"/><circle cx="213.6" cy="904.9" r="3.5"/><circle cx="214.8" cy="913.5" r="3.5"/><circle cx="216.4" cy="906.0" r="3.5"/><circle cx="224.2" cy="924.6" r="3.5"/><circle cx="221.5" cy="928.6" r="3.5"/><circle cx="215.2" cy="909.9" r="3.5"/><circle cx="199.0" cy="897.9" r="3.5"/><circle cx="203.5" cy="915.3" r="3.5"/><circle cx="205.6" cy="916.6" r="3.5"/><circle cx="196.3" cy="914.0" r="3.5"/><circle cx="212.6" cy="919.3" r="3.5"/><circle cx="192.6" cy="910.9" r="3.5"/><circle cx="192.2" cy="918.4" r="3.5"/><circle cx="199.1" cy="914.5" r="3.5"/><circle cx="180.1" cy="919.0" r="3.5"/><circle cx="177.7" cy="910.3" r="3.5"/><circle cx="204.1" cy="925.9" r="3.5"/><circle cx="224.5" cy="918.3" r="3.5"/><circle cx="226.8" cy="922.2" r="3.5"/><circle cx="194.7" cy="899.5" r="3.5"/><circle cx="169.6" cy="927.2" r="3.5"/><circle cx="203.1" cy="912.8" r="3.5"/><circle cx="200.2" cy="912.1" r="3.5"/><circle cx="210.3" cy="916.2" r="3.5"/><circle cx="190.6" cy="909.7" r="3.5"/><circle cx="209.8" cy="911.9" r="3.5"/><circle cx="175.0" cy="916.7" r="3.5"/><circle cx="193.2" cy="910.7" r="3.5"/><circle cx="203.6" cy="900.5" r="3.5"/><circle cx="195.6" cy="908.7" r="3.5"/><circle cx="201.0" cy="902.6" r="3.5"/><circle cx="179.3" cy="918.5" r="3.5"/><circle cx="199.9" cy="925.2" r="3.5"/><circle cx="222.6" cy="915.2" r="3.5"/><circle cx="178.4" cy="919.4" r="3.5"/><circle cx="199.9" cy="912.5" r="3.5"/><circle cx="180.4" cy="922.9" r="3.5"/><circle cx="207.0" cy="909.4" r="3.5"/><circle cx="207.4" cy="927.4" r="3.5"/><circle cx="193.8" cy="903.5" r="3.5"/><circle cx="187.5" cy="906.6" r="3.5"/><circle cx="219.8" cy="909.9" r="3.5"/><circle cx="209.3" cy="922.4" r="3.5"/><circle cx="199.0" cy="911.0" r="3.5"/><circle cx="185.1" cy="908.0" r="3.5"/><circle cx="203.7" cy="915.5" r="3.5"/><circle cx="176.3" cy="923.7" r="3.5"/><circle cx="214.8" cy="925.3" r="3.5"/><circle cx="175.0" cy="923.3" r="3.5"/><circle cx="200.5" cy="902.3" r="3.5"/><circle cx="206.0" cy="902.9" r="3.5"/><circle cx="172.8" cy="928.3" r="3.5"/><circle cx="215.5" cy="918.4" r="3.5"/><circle cx="212.2" cy="917.4" r="3.5"/><circle cx="179.2" cy="920.2" r="3.5"/><circle cx="276.5" cy="919.7" r="3.5"/><circle cx="268.5" cy="918.5" r="3.5"/><circle cx="256.3" cy="928.0" r="3.5"/><circle cx="255.9" cy="918.4" r="3.5"/><circle cx="284.8" cy="923.5" r="3.5"/><circle cx="256.0" cy="924.8" r="3.5"/><circle cx="263.0" cy="924.4" r="3.5"/><circle cx="275.3" cy="926.3" r="3.5"/><circle cx="273.6" cy="918.5" r="3.5"/><circle cx="265.7" cy="927.5" r="3.5"/><circle cx="262.5" cy="922.8" r="3.5"/><circle cx="252.8" cy="921.7" r="3.5"/><circle cx="255.6" cy="928.1" r="3.5"/><circle cx="281.5" cy="919.9" r="3.5"/><circle cx="246.8" cy="922.1" r="3.5"/><circle cx="291.9" cy="926.0" r="3.5"/><circle cx="290.1" cy="925.2" r="3.5"/><circle cx="271.8" cy="923.3" r="3.5"/><circle cx="268.7" cy="925.9" r="3.5"/><circle cx="284.1" cy="922.3" r="3.5"/><circle cx="263.5" cy="922.8" r="3.5"/><circle cx="278.1" cy="923.7" r="3.5"/><circle cx="294.2" cy="926.1" r="3.5"/><circle cx="257.6" cy="905.2" r="3.5"/><circle cx="275.7" cy="920.8" r="3.5"/><circle cx="264.9" cy="927.0" r="3.5"/><circle cx="260.7" cy="909.2" r="3.5"/><circle cx="263.1" cy="914.8" r="3.5"/><circle cx="259.2" cy="927.5" r="3.5"/><circle cx="260.1" cy="923.3" r="3.5"/><circle cx="258.3" cy="917.9" r="3.5"/><circle cx="249.2" cy="921.9" r="3.5"/><circle cx="281.5" cy="919.6" r="3.5"/><circle cx="283.7" cy="922.7" r="3.5"/><circle cx="279.4" cy="924.6" r="3.5"/><circle cx="243.7" cy="928.0" r="3.5"/><circle cx="251.0" cy="924.1" r="3.5"/><circle cx="259.6" cy="918.7" r="3.5"/><circle cx="280.0" cy="924.6" r="3.5"/><circle cx="284.7" cy="922.5" r="3.5"/><circle cx="262.4" cy="928.7" r="3.5"/><circle cx="258.6" cy="928.0" r="3.5"/><circle cx="244.1" cy="922.8" r="3.5"/><circle cx="286.7" cy="927.0" r="3.5"/><circle cx="258.3" cy="926.9" r="3.5"/><circle cx="279.3" cy="916.3" r="3.5"/><circle cx="267.2" cy="914.4" r="3.5"/><circle cx="297.6" cy="926.0" r="3.5"/><circle cx="287.5" cy="928.0" r="3.5"/><circle cx="257.1" cy="913.2" r="3.5"/><circle cx="274.2" cy="922.7" r="3.5"/><circle cx="266.2" cy="924.0" r="3.5"/><circle cx="260.1" cy="925.8" r="3.5"/><circle cx="255.6" cy="922.9" r="3.5"/><circle cx="272.5" cy="916.6" r="3.5"/><circle cx="277.5" cy="916.1" r="3.5"/><circle cx="248.1" cy="921.5" r="3.5"/><circle cx="263.1" cy="923.9" r="3.5"/><circle cx="244.9" cy="921.7" r="3.5"/><circle cx="253.2" cy="907.8" r="3.5"/><circle cx="268.4" cy="926.4" r="3.5"/><circle cx="260.9" cy="915.8" r="3.5"/><circle cx="263.2" cy="924.9" r="3.5"/><circle cx="245.6" cy="928.6" r="3.5"/><circle cx="267.6" cy="924.4" r="3.5"/><circle cx="274.2" cy="928.6" r="3.5"/><circle cx="280.8" cy="922.6" r="3.5"/><circle cx="256.1" cy="925.7" r="3.5"/><circle cx="252.5" cy="910.0" r="3.5"/><circle cx="261.0" cy="924.5" r="3.5"/><circle cx="263.6" cy="913.0" r="3.5"/><circle cx="255.7" cy="928.0" r="3.5"/><circle cx="271.2" cy="914.8" r="3.5"/><circle cx="250.8" cy="921.2" r="3.5"/><circle cx="276.5" cy="927.2" r="3.5"/><circle cx="283.0" cy="925.1" r="3.5"/><circle cx="246.6" cy="928.0" r="3.5"/><circle cx="267.9" cy="924.3" r="3.5"/><circle cx="285.1" cy="928.7" r="3.5"/><circle cx="258.4" cy="909.2" r="3.5"/><circle cx="272.4" cy="917.4" r="3.5"/><circle cx="261.8" cy="916.8" r="3.5"/><circle cx="296.1" cy="925.0" r="3.5"/><circle cx="259.2" cy="916.7" r="3.5"/><circle cx="275.4" cy="919.7" r="3.5"/><circle cx="253.1" cy="927.1" r="3.5"/><circle cx="260.8" cy="916.1" r="3.5"/><circle cx="290.4" cy="927.6" r="3.5"/><circle cx="259.2" cy="912.4" r="3.5"/><circle cx="280.5" cy="921.2" r="3.5"/><circle cx="263.8" cy="912.0" r="3.5"/><circle cx="266.5" cy="913.8" r="3.5"/><circle cx="275.5" cy="918.2" r="3.5"/><circle cx="248.1" cy="924.6" r="3.5"/><circle cx="256.6" cy="926.8" r="3.5"/><circle cx="273.4" cy="922.6" r="3.5"/><circle cx="255.0" cy="912.3" r="3.5"/><circle cx="276.9" cy="927.2" r="3.5"/><circle cx="266.0" cy="927.3" r="3.5"/><circle cx="287.2" cy="926.3" r="3.5"/><circle cx="265.0" cy="924.9" r="3.5"/><circle cx="288.3" cy="925.8" r="3.5"/><circle cx="288.3" cy="927.7" r="3.5"/><circle cx="255.6" cy="918.9" r="3.5"/><circle cx="254.1" cy="921.2" r="3.5"/><circle cx="248.6" cy="918.9" r="3.5"/><circle cx="285.0" cy="928.0" r="3.5"/><circle cx="277.9" cy="926.7" r="3.5"/><circle cx="282.2" cy="922.5" r="3.5"/><circle cx="252.9" cy="916.5" r="3.5"/><circle cx="248.1" cy="928.4" r="3.5"/><circle cx="252.4" cy="912.9" r="3.5"/><circle cx="258.8" cy="908.3" r="3.5"/><circle cx="264.3" cy="925.6" r="3.5"/><circle cx="298.8" cy="928.5" r="3.5"/><circle cx="262.0" cy="925.4" r="3.5"/><circle cx="289.8" cy="928.1" r="3.5"/><circle cx="270.1" cy="925.2" r="3.5"/><circle cx="245.8" cy="920.3" r="3.5"/><circle cx="277.0" cy="928.0" r="3.5"/><circle cx="293.6" cy="640.5" r="3.5"/><circle cx="171.0" cy="751.9" r="3.5"/><circle cx="198.3" cy="773.7" r="3.5"/><circle cx="191.7" cy="777.6" r="3.5"/><circle cx="179.5" cy="802.7" r="3.5"/><circle cx="162.3" cy="809.7" r="3.5"/><circle cx="150.2" cy="815.0" r="3.5"/><circle cx="153.2" cy="815.0" r="3.5"/><circle cx="181.3" cy="818.6" r="3.5"/><circle cx="200.6" cy="821.5" r="3.5"/><circle cx="207.6" cy="830.4" r="3.5"/><circle cx="191.7" cy="840.3" r="3.5"/><circle cx="197.7" cy="840.7" r="3.5"/><circle cx="212.5" cy="841.9" r="3.5"/><circle cx="190.8" cy="850.2" r="3.5"/><circle cx="165.0" cy="857.1" r="3.5"/><circle cx="151.2" cy="860.1" r="3.5"/><circle cx="144.3" cy="868.0" r="3.5"/><circle cx="281.7" cy="879.9" r="3.5"/><circle cx="284.7" cy="886.4" r="3.5"/><circle cx="291.6" cy="890.7" r="3.5"/><circle cx="292.6" cy="895.7" r="3.5"/><circle cx="258.0" cy="898.1" r="3.5"/><circle cx="120.5" cy="915.5" r="3.5"/><circle cx="121.5" cy="922.4" r="3.5"/><circle cx="141.3" cy="929.7" r="3.5"/><circle cx="145.7" cy="929.7" r="3.5"/><circle cx="374.7" cy="924.4" r="3.5"/><circle cx="289.3" cy="918.8" r="3.5"/><circle cx="297.6" cy="922.8" r="3.5"/><circle cx="166.0" cy="862.1" r="3.5"/><circle cx="168.0" cy="868.0" r="3.5"/><circle cx="170.0" cy="872.9" r="3.5"/></g>
<g fill="#000"><circle cx="211.4" cy="938.3" r="3.5"/><circle cx="255.2" cy="939.0" r="3.5"/><circle cx="239.8" cy="936.4" r="3.5"/><circle cx="175.8" cy="935.2" r="3.5"/><circle cx="173.0" cy="935.8" r="3.5"/><circle cx="224.9" cy="932.4" r="3.5"/><circle cx="184.6" cy="937.7" r="3.5"/><circle cx="252.0" cy="931.3" r="3.5"/><circle cx="245.3" cy="936.1" r="3.5"/><circle cx="283.0" cy="937.1" r="3.5"/><circle cx="187.3" cy="938.6" r="3.5"/><circle cx="209.3" cy="932.5" r="3.5"/><circle cx="192.2" cy="934.5" r="3.5"/><circle cx="253.6" cy="936.4" r="3.5"/><circle cx="241.4" cy="939.1" r="3.5"/><circle cx="259.1" cy="935.9" r="3.5"/><circle cx="210.1" cy="934.5" r="3.5"/><circle cx="228.7" cy="937.0" r="3.5"/><circle cx="274.4" cy="933.5" r="3.5"/><circle cx="200.7" cy="934.6" r="3.5"/><circle cx="265.7" cy="937.1" r="3.5"/><circle cx="224.0" cy="933.0" r="3.5"/><circle cx="188.4" cy="935.3" r="3.5"/><circle cx="173.3" cy="933.8" r="3.5"/><circle cx="270.4" cy="934.6" r="3.5"/><circle cx="285.2" cy="936.9" r="3.5"/><circle cx="261.1" cy="934.4" r="3.5"/><circle cx="245.7" cy="935.6" r="3.5"/><circle cx="280.5" cy="931.4" r="3.5"/><circle cx="231.5" cy="933.8" r="3.5"/><circle cx="176.1" cy="933.5" r="3.5"/><circle cx="254.7" cy="931.0" r="3.5"/><circle cx="278.1" cy="937.1" r="3.5"/><circle cx="219.7" cy="933.8" r="3.5"/><circle cx="171.0" cy="935.6" r="3.5"/><circle cx="190.5" cy="938.6" r="3.5"/><circle cx="175.9" cy="932.9" r="3.5"/><circle cx="185.3" cy="937.4" r="3.5"/><circle cx="220.4" cy="932.0" r="3.5"/><circle cx="178.8" cy="935.7" r="3.5"/><circle cx="241.6" cy="931.9" r="3.5"/><circle cx="277.7" cy="932.1" r="3.5"/><circle cx="205.3" cy="936.0" r="3.5"/><circle cx="216.1" cy="931.9" r="3.5"/><circle cx="191.6" cy="937.6" r="3.5"/><circle cx="199.3" cy="935.4" r="3.5"/><circle cx="246.9" cy="937.3" r="3.5"/><circle cx="217.5" cy="934.7" r="3.5"/><circle cx="295.6" cy="933.6" r="3.5"/><circle cx="258.6" cy="939.1" r="3.5"/><circle cx="288.5" cy="932.8" r="3.5"/><circle cx="285.1" cy="932.7" r="3.5"/><circle cx="220.6" cy="936.1" r="3.5"/><circle cx="181.9" cy="934.1" r="3.5"/><circle cx="196.0" cy="938.2" r="3.5"/><circle cx="213.5" cy="939.1" r="3.5"/><circle cx="181.6" cy="936.4" r="3.5"/><circle cx="250.2" cy="938.3" r="3.5"/><circle cx="201.8" cy="936.6" r="3.5"/><circle cx="216.8" cy="938.5" r="3.5"/><circle cx="281.7" cy="931.0" r="3.5"/><circle cx="230.4" cy="935.4" r="3.5"/><circle cx="213.9" cy="937.3" r="3.5"/><circle cx="279.0" cy="938.2" r="3.5"/><circle cx="238.7" cy="938.3" r="3.5"/><circle cx="240.7" cy="939.4" r="3.5"/><circle cx="283.6" cy="933.5" r="3.5"/><circle cx="203.0" cy="936.4" r="3.5"/><circle cx="190.4" cy="932.9" r="3.5"/><circle cx="239.3" cy="932.8" r="3.5"/><circle cx="212.2" cy="937.7" r="3.5"/><circle cx="276.7" cy="931.0" r="3.5"/><circle cx="282.2" cy="932.6" r="3.5"/><circle cx="277.6" cy="933.2" r="3.5"/><circle cx="198.4" cy="935.1" r="3.5"/><circle cx="215.6" cy="939.3" r="3.5"/><circle cx="202.7" cy="933.6" r="3.5"/><circle cx="296.1" cy="935.7" r="3.5"/><circle cx="293.5" cy="931.0" r="3.5"/><circle cx="295.9" cy="936.4" r="3.5"/><circle cx="197.5" cy="937.6" r="3.5"/><circle cx="194.4" cy="937.8" r="3.5"/><circle cx="251.6" cy="931.8" r="3.5"/><circle cx="280.5" cy="935.4" r="3.5"/><circle cx="255.4" cy="932.6" r="3.5"/><circle cx="179.4" cy="933.8" r="3.5"/><circle cx="289.8" cy="932.8" r="3.5"/><circle cx="268.5" cy="935.4" r="3.5"/><circle cx="191.9" cy="932.7" r="3.5"/><circle cx="212.5" cy="932.6" r="3.5"/><circle cx="298.1" cy="936.2" r="3.5"/><circle cx="221.8" cy="931.4" r="3.5"/><circle cx="265.1" cy="938.1" r="3.5"/><circle cx="185.0" cy="938.3" r="3.5"/><circle cx="289.2" cy="932.6" r="3.5"/><circle cx="187.6" cy="932.4" r="3.5"/><circle cx="299.3" cy="933.9" r="3.5"/><circle cx="214.9" cy="934.8" r="3.5"/><circle cx="298.0" cy="933.9" r="3.5"/><circle cx="226.1" cy="932.0" r="3.5"/><circle cx="278.6" cy="937.8" r="3.5"/><circle cx="201.7" cy="937.0" r="3.5"/><circle cx="200.2" cy="934.5" r="3.5"/><circle cx="202.7" cy="936.0" r="3.5"/><circle cx="185.6" cy="931.7" r="3.5"/><circle cx="215.4" cy="935.6" r="3.5"/><circle cx="246.1" cy="931.7" r="3.5"/><circle cx="224.3" cy="931.6" r="3.5"/><circle cx="238.1" cy="939.4" r="3.5"/><circle cx="226.9" cy="938.0" r="3.5"/><circle cx="191.1" cy="935.5" r="3.5"/><circle cx="265.1" cy="934.8" r="3.5"/><circle cx="211.7" cy="935.1" r="3.5"/><circle cx="242.4" cy="932.8" r="3.5"/><circle cx="182.2" cy="934.7" r="3.5"/><circle cx="201.3" cy="937.2" r="3.5"/><circle cx="271.4" cy="935.2" r="3.5"/><circle cx="243.2" cy="933.0" r="3.5"/><circle cx="290.2" cy="935.7" r="3.5"/><circle cx="250.0" cy="935.2" r="3.5"/><circle cx="228.6" cy="935.0" r="3.5"/><circle cx="261.6" cy="932.0" r="3.5"/><circle cx="294.2" cy="937.3" r="3.5"/><circle cx="242.9" cy="931.4" r="3.5"/><circle cx="280.5" cy="938.4" r="3.5"/><circle cx="184.3" cy="935.7" r="3.5"/><circle cx="177.7" cy="937.5" r="3.5"/><circle cx="177.8" cy="933.8" r="3.5"/><circle cx="273.0" cy="931.8" r="3.5"/><circle cx="188.7" cy="933.4" r="3.5"/><circle cx="256.4" cy="938.4" r="3.5"/><circle cx="286.2" cy="931.2" r="3.5"/><circle cx="197.4" cy="931.3" r="3.5"/><circle cx="221.3" cy="935.4" r="3.5"/><circle cx="300.6" cy="932.4" r="3.5"/><circle cx="189.6" cy="935.8" r="3.5"/><circle cx="237.1" cy="936.6" r="3.5"/><circle cx="194.2" cy="936.8" r="3.5"/><circle cx="264.7" cy="939.4" r="3.5"/><circle cx="242.2" cy="935.8" r="3.5"/><circle cx="251.6" cy="935.1" r="3.5"/><circle cx="273.6" cy="931.1" r="3.5"/><circle cx="182.0" cy="937.3" r="3.5"/><circle cx="173.3" cy="932.8" r="3.5"/><circle cx="204.2" cy="938.5" r="3.5"/><circle cx="224.6" cy="931.7" r="3.5"/><circle cx="277.7" cy="937.3" r="3.5"/><circle cx="188.0" cy="931.6" r="3.5"/><circle cx="244.4" cy="933.5" r="3.5"/><circle cx="260.2" cy="935.9" r="3.5"/><circle cx="177.7" cy="931.4" r="3.5"/><circle cx="253.0" cy="932.6" r="3.5"/><circle cx="179.2" cy="932.1" r="3.5"/><circle cx="176.9" cy="932.1" r="3.5"/><circle cx="228.8" cy="936.6" r="3.5"/><circle cx="242.1" cy="931.5" r="3.5"/><circle cx="203.9" cy="938.5" r="3.5"/><circle cx="238.6" cy="937.5" r="3.5"/><circle cx="209.8" cy="936.9" r="3.5"/><circle cx="269.7" cy="937.1" r="3.5"/><circle cx="235.0" cy="938.0" r="3.5"/><circle cx="214.5" cy="939.4" r="3.5"/><circle cx="266.2" cy="934.8" r="3.5"/><circle cx="193.4" cy="935.5" r="3.5"/><circle cx="277.7" cy="935.8" r="3.5"/><circle cx="220.6" cy="935.2" r="3.5"/><circle cx="260.1" cy="931.0" r="3.5"/><circle cx="213.9" cy="932.4" r="3.5"/><circle cx="262.6" cy="934.1" r="3.5"/><circle cx="222.2" cy="936.6" r="3.5"/><circle cx="177.5" cy="933.1" r="3.5"/><circle cx="202.2" cy="938.2" r="3.5"/><circle cx="179.3" cy="932.3" r="3.5"/><circle cx="284.6" cy="933.8" r="3.5"/><circle cx="205.8" cy="937.5" r="3.5"/><circle cx="207.3" cy="935.6" r="3.5"/><circle cx="189.1" cy="935.7" r="3.5"/><circle cx="203.3" cy="931.2" r="3.5"/><circle cx="298.2" cy="934.8" r="3.5"/><circle cx="200.7" cy="931.2" r="3.5"/><circle cx="209.5" cy="936.5" r="3.5"/><circle cx="231.6" cy="935.2" r="3.5"/><circle cx="194.9" cy="935.2" r="3.5"/><circle cx="180.0" cy="936.1" r="3.5"/><circle cx="208.8" cy="937.6" r="3.5"/><circle cx="246.4" cy="935.0" r="3.5"/><circle cx="268.5" cy="933.9" r="3.5"/><circle cx="263.9" cy="931.9" r="3.5"/><circle cx="220.2" cy="936.8" r="3.5"/><circle cx="265.0" cy="934.0" r="3.5"/><circle cx="173.9" cy="932.3" r="3.5"/><circle cx="287.4" cy="934.1" r="3.5"/><circle cx="266.3" cy="932.5" r="3.5"/><circle cx="186.7" cy="935.0" r="3.5"/><circle cx="275.8" cy="932.4" r="3.5"/><circle cx="246.2" cy="931.8" r="3.5"/><circle cx="259.5" cy="933.6" r="3.5"/><circle cx="198.8" cy="939.3" r="3.5"/><circle cx="185.8" cy="936.5" r="3.5"/><circle cx="182.1" cy="932.3" r="3.5"/><circle cx="242.8" cy="934.1" r="3.5"/><circle cx="251.9" cy="933.7" r="3.5"/><circle cx="233.5" cy="939.6" r="3.5"/><circle cx="274.8" cy="933.1" r="3.5"/><circle cx="256.3" cy="939.0" r="3.5"/><circle cx="266.7" cy="937.4" r="3.5"/><circle cx="178.0" cy="937.3" r="3.5"/><circle cx="265.7" cy="937.8" r="3.5"/><circle cx="267.1" cy="931.1" r="3.5"/><circle cx="234.2" cy="936.3" r="3.5"/><circle cx="232.2" cy="933.6" r="3.5"/><circle cx="270.7" cy="934.2" r="3.5"/><circle cx="254.1" cy="938.9" r="3.5"/><circle cx="187.8" cy="937.4" r="3.5"/><circle cx="267.5" cy="936.9" r="3.5"/><circle cx="244.0" cy="939.5" r="3.5"/><circle cx="176.1" cy="937.3" r="3.5"/><circle cx="258.0" cy="933.6" r="3.5"/><circle cx="258.5" cy="937.1" r="3.5"/><circle cx="237.2" cy="935.6" r="3.5"/><circle cx="230.5" cy="938.6" r="3.5"/><circle cx="287.7" cy="937.9" r="3.5"/><circle cx="277.8" cy="931.2" r="3.5"/><circle cx="228.2" cy="937.3" r="3.5"/><circle cx="196.1" cy="931.4" r="3.5"/><circle cx="196.2" cy="934.5" r="3.5"/><circle cx="187.0" cy="935.0" r="3.5"/><circle cx="277.8" cy="935.2" r="3.5"/><circle cx="286.8" cy="933.5" r="3.5"/><circle cx="199.0" cy="931.8" r="3.5"/><circle cx="233.1" cy="939.4" r="3.5"/><circle cx="228.4" cy="937.0" r="3.5"/><circle cx="186.9" cy="936.6" r="3.5"/><circle cx="210.3" cy="932.3" r="3.5"/><circle cx="280.4" cy="938.6" r="3.5"/><circle cx="292.1" cy="933.4" r="3.5"/><circle cx="288.7" cy="937.1" r="3.5"/><circle cx="217.9" cy="936.2" r="3.5"/><circle cx="301.8" cy="934.5" r="3.5"/><circle cx="216.3" cy="935.9" r="3.5"/><circle cx="204.9" cy="939.2" r="3.5"/><circle cx="181.6" cy="932.3" r="3.5"/><circle cx="206.3" cy="931.5" r="3.5"/><circle cx="201.4" cy="937.3" r="3.5"/><circle cx="236.4" cy="937.9" r="3.5"/><circle cx="218.0" cy="931.3" r="3.5"/><circle cx="286.4" cy="932.5" r="3.5"/><circle cx="252.5" cy="931.6" r="3.5"/><circle cx="294.0" cy="934.8" r="3.5"/><circle cx="264.4" cy="939.2" r="3.5"/><circle cx="266.1" cy="935.7" r="3.5"/><circle cx="268.8" cy="934.0" r="3.5"/><circle cx="206.3" cy="939.2" r="3.5"/><circle cx="231.2" cy="936.6" r="3.5"/><circle cx="207.9" cy="933.2" r="3.5"/><circle cx="298.7" cy="937.3" r="3.5"/><circle cx="255.9" cy="937.0" r="3.5"/><circle cx="242.6" cy="936.2" r="3.5"/><circle cx="190.4" cy="938.2" r="3.5"/><circle cx="195.8" cy="931.7" r="3.5"/><circle cx="234.6" cy="937.7" r="3.5"/><circle cx="289.4" cy="930.9" r="3.5"/><circle cx="228.3" cy="938.4" r="3.5"/><circle cx="193.8" cy="938.8" r="3.5"/><circle cx="213.8" cy="938.8" r="3.5"/><circle cx="200.0" cy="937.3" r="3.5"/><circle cx="244.3" cy="931.9" r="3.5"/><circle cx="268.4" cy="936.0" r="3.5"/><circle cx="223.4" cy="935.0" r="3.5"/><circle cx="218.5" cy="936.7" r="3.5"/><circle cx="176.3" cy="937.2" r="3.5"/><circle cx="283.6" cy="937.7" r="3.5"/><circle cx="204.3" cy="937.4" r="3.5"/><circle cx="221.5" cy="935.7" r="3.5"/><circle cx="295.7" cy="932.2" r="3.5"/><circle cx="172.3" cy="933.4" r="3.5"/><circle cx="287.9" cy="935.5" r="3.5"/><circle cx="220.4" cy="931.5" r="3.5"/><circle cx="278.6" cy="932.2" r="3.5"/><circle cx="298.2" cy="937.4" r="3.5"/><circle cx="294.1" cy="933.3" r="3.5"/><circle cx="254.7" cy="932.9" r="3.5"/><circle cx="229.3" cy="934.8" r="3.5"/><circle cx="173.3" cy="932.8" r="3.5"/><circle cx="199.2" cy="931.6" r="3.5"/><circle cx="254.4" cy="937.0" r="3.5"/><circle cx="185.1" cy="937.4" r="3.5"/><circle cx="253.2" cy="933.5" r="3.5"/><circle cx="238.2" cy="934.5" r="3.5"/><circle cx="220.0" cy="937.7" r="3.5"/><circle cx="248.5" cy="939.5" r="3.5"/><circle cx="208.4" cy="935.6" r="3.5"/><circle cx="296.4" cy="934.0" r="3.5"/><circle cx="286.4" cy="935.5" r="3.5"/><circle cx="199.4" cy="937.4" r="3.5"/><circle cx="296.6" cy="933.5" r="3.5"/><circle cx="209.2" cy="939.4" r="3.5"/><circle cx="224.3" cy="937.4" r="3.5"/><circle cx="257.4" cy="931.5" r="3.5"/><circle cx="198.4" cy="939.3" r="3.5"/><circle cx="213.3" cy="935.9" r="3.5"/><circle cx="259.4" cy="937.9" r="3.5"/><circle cx="274.7" cy="933.2" r="3.5"/><circle cx="235.6" cy="937.8" r="3.5"/><circle cx="297.9" cy="936.9" r="3.5"/><circle cx="277.8" cy="937.6" r="3.5"/><circle cx="197.7" cy="933.0" r="3.5"/><circle cx="207.5" cy="931.3" r="3.5"/><circle cx="234.4" cy="938.0" r="3.5"/><circle cx="197.9" cy="936.0" r="3.5"/><circle cx="257.1" cy="931.3" r="3.5"/><circle cx="187.6" cy="936.2" r="3.5"/><circle cx="196.5" cy="931.1" r="3.5"/><circle cx="176.1" cy="936.2" r="3.5"/><circle cx="288.3" cy="931.9" r="3.5"/><circle cx="266.1" cy="930.9" r="3.5"/><circle cx="292.8" cy="936.7" r="3.5"/><circle cx="192.9" cy="931.5" r="3.5"/><circle cx="267.9" cy="939.3" r="3.5"/><circle cx="257.0" cy="936.3" r="3.5"/><circle cx="218.1" cy="936.7" r="3.5"/><circle cx="205.5" cy="936.5" r="3.5"/><circle cx="297.1" cy="937.8" r="3.5"/><circle cx="215.8" cy="932.4" r="3.5"/><circle cx="278.1" cy="935.8" r="3.5"/><circle cx="174.6" cy="935.5" r="3.5"/><circle cx="217.9" cy="931.6" r="3.5"/><circle cx="193.9" cy="936.4" r="3.5"/><circle cx="223.0" cy="932.5" r="3.5"/><circle cx="270.7" cy="939.2" r="3.5"/><circle cx="291.2" cy="937.4" r="3.5"/><circle cx="268.1" cy="931.8" r="3.5"/><circle cx="213.4" cy="937.2" r="3.5"/><circle cx="296.2" cy="934.2" r="3.5"/><circle cx="203.1" cy="933.4" r="3.5"/><circle cx="210.4" cy="937.2" r="3.5"/><circle cx="290.7" cy="934.1" r="3.5"/><circle cx="199.3" cy="935.5" r="3.5"/><circle cx="296.1" cy="931.3" r="3.5"/><circle cx="219.8" cy="937.4" r="3.5"/><circle cx="225.6" cy="935.3" r="3.5"/><circle cx="292.3" cy="938.0" r="3.5"/><circle cx="275.5" cy="933.2" r="3.5"/><circle cx="278.2" cy="932.9" r="3.5"/><circle cx="249.3" cy="936.7" r="3.5"/><circle cx="210.8" cy="936.4" r="3.5"/><circle cx="272.8" cy="938.9" r="3.5"/><circle cx="194.4" cy="933.0" r="3.5"/><circle cx="201.1" cy="939.0" r="3.5"/><circle cx="172.5" cy="934.8" r="3.5"/><circle cx="211.6" cy="931.1" r="3.5"/><circle cx="286.3" cy="931.0" r="3.5"/><circle cx="203.5" cy="938.9" r="3.5"/><circle cx="180.9" cy="935.3" r="3.5"/><circle cx="263.1" cy="935.7" r="3.5"/><circle cx="199.4" cy="936.0" r="3.5"/><circle cx="251.1" cy="933.7" r="3.5"/><circle cx="268.2" cy="932.2" r="3.5"/><circle cx="257.0" cy="938.5" r="3.5"/><circle cx="280.6" cy="937.0" r="3.5"/><circle cx="243.9" cy="936.4" r="3.5"/><circle cx="266.8" cy="937.9" r="3.5"/><circle cx="201.1" cy="937.5" r="3.5"/><circle cx="188.5" cy="931.9" r="3.5"/><circle cx="245.4" cy="936.8" r="3.5"/><circle cx="221.0" cy="931.0" r="3.5"/><circle cx="235.9" cy="937.6" r="3.5"/><circle cx="276.3" cy="933.9" r="3.5"/><circle cx="280.6" cy="931.6" r="3.5"/><circle cx="173.4" cy="937.0" r="3.5"/><circle cx="184.0" cy="937.9" r="3.5"/><circle cx="298.3" cy="934.5" r="3.5"/><circle cx="292.6" cy="936.4" r="3.5"/><circle cx="284.0" cy="935.7" r="3.5"/><circle cx="202.8" cy="932.8" r="3.5"/><circle cx="247.8" cy="934.2" r="3.5"/><circle cx="197.2" cy="936.4" r="3.5"/><circle cx="186.9" cy="937.8" r="3.5"/><circle cx="202.1" cy="934.4" r="3.5"/><circle cx="255.3" cy="937.8" r="3.5"/><circle cx="258.8" cy="938.0" r="3.5"/><circle cx="209.8" cy="937.8" r="3.5"/><circle cx="274.5" cy="934.8" r="3.5"/><circle cx="220.9" cy="934.8" r="3.5"/><circle cx="253.6" cy="938.8" r="3.5"/><circle cx="189.9" cy="933.5" r="3.5"/><circle cx="222.9" cy="937.1" r="3.5"/><circle cx="209.2" cy="931.3" r="3.5"/><circle cx="209.8" cy="934.7" r="3.5"/><circle cx="215.8" cy="936.0" r="3.5"/><circle cx="283.7" cy="930.9" r="3.5"/><circle cx="216.7" cy="937.9" r="3.5"/><circle cx="265.5" cy="937.8" r="3.5"/><circle cx="224.8" cy="932.5" r="3.5"/><circle cx="222.4" cy="931.9" r="3.5"/><circle cx="229.7" cy="938.2" r="3.5"/><circle cx="170.0" cy="934.8" r="3.5"/><circle cx="253.8" cy="931.7" r="3.5"/><circle cx="179.9" cy="934.2" r="3.5"/><circle cx="217.7" cy="935.2" r="3.5"/><circle cx="187.5" cy="937.1" r="3.5"/><circle cx="182.6" cy="935.3" r="3.5"/><circle cx="275.8" cy="931.2" r="3.5"/><circle cx="194.4" cy="938.5" r="3.5"/><circle cx="294.3" cy="931.1" r="3.5"/><circle cx="232.7" cy="939.1" r="3.5"/><circle cx="292.0" cy="936.2" r="3.5"/><circle cx="289.1" cy="934.2" r="3.5"/><circle cx="278.4" cy="938.2" r="3.5"/><circle cx="273.2" cy="937.7" r="3.5"/><circle cx="222.2" cy="932.2" r="3.5"/><circle cx="279.0" cy="938.0" r="3.5"/><circle cx="197.2" cy="936.1" r="3.5"/><circle cx="237.4" cy="936.3" r="3.5"/><circle cx="184.5" cy="937.4" r="3.5"/><circle cx="265.1" cy="931.8" r="3.5"/><circle cx="173.5" cy="934.7" r="3.5"/><circle cx="269.4" cy="939.3" r="3.5"/><circle cx="280.3" cy="938.6" r="3.5"/><circle cx="248.3" cy="934.8" r="3.5"/><circle cx="154.8" cy="932.9" r="3.5"/><circle cx="163.7" cy="938.2" r="3.5"/><circle cx="321.3" cy="936.2" r="3.5"/><circle cx="340.7" cy="935.8" r="3.5"/><circle cx="297.6" cy="934.3" r="3.5"/><circle cx="294.6" cy="937.2" r="3.5"/><circle cx="193.7" cy="938.6" r="3.5"/><circle cx="285.7" cy="938.6" r="3.5"/></g>
<circle cx="312.0" cy="746.4" r="7.5" fill="#e0282d"/>
<circle cx="311.6" cy="780.4" r="7.5" fill="#000"/>
<text x="327.0" y="756.6" font-size="35" textLength="40" lengthAdjust="spacingAndGlyphs">DE</text>
<text x="327.0" y="790.2" font-size="35">non-DE</text>
<text x="239.3" y="1041.8" font-size="35.3" text-anchor="middle">log<tspan font-size="27" dy="8">2</tspan><tspan dy="-8">​</tspan> fold-change</text>
<text x="30.4" y="785.8" font-size="36" text-anchor="middle" transform="rotate(-90 30.4 785.8)">-log<tspan font-size="26" dy="7">10</tspan><tspan dy="-7">​</tspan> adj. <tspan font-style="italic">P</tspan>-value</text>
<text x="707.2" y="539.6" font-size="35" text-anchor="middle">RAD21-TEV</text>
<text x="707.2" y="571.5" font-size="35" text-anchor="middle">Rescue</text>
<text x="635.8" y="612.2" font-size="35" text-anchor="middle">43</text>
<text x="768.8" y="612.2" font-size="35" text-anchor="middle">44</text>
<line x1="557.4" y1="612.3" x2="557.4" y2="642.5" stroke="#000" stroke-width="1.8"/>
<line x1="557.4" y1="650.5" x2="557.4" y2="961.9" stroke="#000" stroke-width="1.8"/>
<line x1="550.8" y1="651.3" x2="563.4" y2="642.9" stroke="#000" stroke-width="1.6"/>
<line x1="556.5" y1="961.0" x2="849.5" y2="961.0" stroke="#000" stroke-width="1.8"/>
<line x1="552.4" y1="633.2" x2="557.4" y2="633.2" stroke="#000" stroke-width="1.6"/>
<text x="548.6" y="642.7" font-size="35" text-anchor="end">60</text>
<line x1="552.4" y1="659.3" x2="557.4" y2="659.3" stroke="#000" stroke-width="1.6"/>
<text x="548.6" y="671.8" font-size="35" text-anchor="end">40</text>
<line x1="552.4" y1="724.2" x2="557.4" y2="724.2" stroke="#000" stroke-width="1.6"/>
<text x="548.6" y="736.7" font-size="35" text-anchor="end">30</text>
<line x1="552.4" y1="799.8" x2="557.4" y2="799.8" stroke="#000" stroke-width="1.6"/>
<text x="548.6" y="812.3" font-size="35" text-anchor="end">20</text>
<line x1="552.4" y1="863.6" x2="557.4" y2="863.6" stroke="#000" stroke-width="1.6"/>
<text x="548.6" y="876.1" font-size="35" text-anchor="end">10</text>
<line x1="552.4" y1="940.2" x2="557.4" y2="940.2" stroke="#000" stroke-width="1.6"/>
<text x="548.6" y="952.7" font-size="35" text-anchor="end">0</text>
<line x1="589.4" y1="961.0" x2="589.4" y2="966.0" stroke="#000" stroke-width="1.6"/>
<text x="584.2" y="996.6" font-size="35" text-anchor="middle">-2.5</text>
<line x1="699.8" y1="961.0" x2="699.8" y2="966.0" stroke="#000" stroke-width="1.6"/>
<text x="698.3" y="996.6" font-size="35" text-anchor="middle">0</text>
<line x1="810.0" y1="961.0" x2="810.0" y2="966.0" stroke="#000" stroke-width="1.6"/>
<text x="808.5" y="996.6" font-size="35" text-anchor="middle">2.5</text>
<line x1="699.8" y1="617.8" x2="699.8" y2="961.0" stroke="#000" stroke-width="1.9" stroke-dasharray="13.6 14"/>
<line x1="557.4" y1="930.7" x2="849.5" y2="930.7" stroke="#000" stroke-width="1.9" stroke-dasharray="13.6 7"/>
<g fill="#e0282d"><circle cx="644.4" cy="920.8" r="3.5"/><circle cx="646.4" cy="924.4" r="3.5"/><circle cx="666.6" cy="923.4" r="3.5"/><circle cx="675.5" cy="921.4" r="3.5"/><circle cx="690.3" cy="927.3" r="3.5"/><circle cx="725.9" cy="916.1" r="3.5"/><circle cx="738.4" cy="917.2" r="3.5"/><circle cx="750.2" cy="917.2" r="3.5"/><circle cx="756.2" cy="917.2" r="3.5"/><circle cx="750.6" cy="928.3" r="3.5"/><circle cx="722.0" cy="921.4" r="3.5"/><circle cx="712.1" cy="928.7" r="3.5"/><circle cx="668.6" cy="927.3" r="3.5"/><circle cx="681.4" cy="927.3" r="3.5"/></g>
<g fill="#e8a122"><circle cx="764.9" cy="903.2" r="3.5"/><circle cx="732.4" cy="906.0" r="3.5"/><circle cx="672.1" cy="914.9" r="3.5"/><circle cx="661.0" cy="915.3" r="3.5"/><circle cx="654.7" cy="917.6" r="3.5"/><circle cx="720.0" cy="917.2" r="3.5"/><circle cx="725.9" cy="918.4" r="3.5"/><circle cx="730.9" cy="917.6" r="3.5"/><circle cx="742.7" cy="917.2" r="3.5"/><circle cx="662.6" cy="926.3" r="3.5"/><circle cx="678.4" cy="922.4" r="3.5"/><circle cx="680.4" cy="924.4" r="3.5"/><circle cx="688.3" cy="926.3" r="3.5"/><circle cx="718.0" cy="924.4" r="3.5"/><circle cx="723.9" cy="922.4" r="3.5"/><circle cx="729.9" cy="925.4" r="3.5"/><circle cx="735.8" cy="926.3" r="3.5"/><circle cx="743.7" cy="926.3" r="3.5"/><circle cx="763.1" cy="926.7" r="3.5"/><circle cx="606.7" cy="930.7" r="3.5"/><circle cx="807.4" cy="929.9" r="3.5"/><circle cx="670.5" cy="924.4" r="3.5"/><circle cx="716.0" cy="925.4" r="3.5"/><circle cx="721.0" cy="926.3" r="3.5"/><circle cx="726.9" cy="924.4" r="3.5"/><circle cx="732.8" cy="927.3" r="3.5"/><circle cx="676.5" cy="926.3" r="3.5"/><circle cx="684.4" cy="926.7" r="3.5"/></g>
<g fill="#000"><circle cx="660.7" cy="937.1" r="3.5"/><circle cx="688.8" cy="937.2" r="3.5"/><circle cx="681.8" cy="940.6" r="3.5"/><circle cx="725.2" cy="938.0" r="3.5"/><circle cx="674.0" cy="935.7" r="3.5"/><circle cx="672.6" cy="935.0" r="3.5"/><circle cx="711.0" cy="933.0" r="3.5"/><circle cx="751.0" cy="933.0" r="3.5"/><circle cx="720.3" cy="934.4" r="3.5"/><circle cx="685.5" cy="937.9" r="3.5"/><circle cx="741.1" cy="932.0" r="3.5"/><circle cx="759.6" cy="933.9" r="3.5"/><circle cx="678.0" cy="933.1" r="3.5"/><circle cx="734.0" cy="935.6" r="3.5"/><circle cx="720.6" cy="937.2" r="3.5"/><circle cx="709.7" cy="936.7" r="3.5"/><circle cx="646.7" cy="937.4" r="3.5"/><circle cx="670.2" cy="938.4" r="3.5"/><circle cx="683.8" cy="939.4" r="3.5"/><circle cx="697.1" cy="936.3" r="3.5"/><circle cx="712.0" cy="937.7" r="3.5"/><circle cx="660.6" cy="940.1" r="3.5"/><circle cx="677.7" cy="937.7" r="3.5"/><circle cx="732.3" cy="935.2" r="3.5"/><circle cx="759.4" cy="937.3" r="3.5"/><circle cx="757.3" cy="934.9" r="3.5"/><circle cx="649.2" cy="939.0" r="3.5"/><circle cx="713.5" cy="930.8" r="3.5"/><circle cx="684.8" cy="933.0" r="3.5"/><circle cx="647.6" cy="935.9" r="3.5"/><circle cx="754.5" cy="938.0" r="3.5"/><circle cx="660.0" cy="938.1" r="3.5"/><circle cx="729.4" cy="938.6" r="3.5"/><circle cx="690.3" cy="938.8" r="3.5"/><circle cx="716.4" cy="932.1" r="3.5"/><circle cx="722.2" cy="938.8" r="3.5"/><circle cx="733.2" cy="931.1" r="3.5"/><circle cx="716.2" cy="940.0" r="3.5"/><circle cx="743.0" cy="932.0" r="3.5"/><circle cx="682.8" cy="939.4" r="3.5"/><circle cx="663.1" cy="935.4" r="3.5"/><circle cx="751.4" cy="934.3" r="3.5"/><circle cx="757.5" cy="938.6" r="3.5"/><circle cx="680.9" cy="933.2" r="3.5"/><circle cx="722.3" cy="936.7" r="3.5"/><circle cx="726.2" cy="937.4" r="3.5"/><circle cx="646.3" cy="936.6" r="3.5"/><circle cx="681.9" cy="935.8" r="3.5"/><circle cx="715.8" cy="938.2" r="3.5"/><circle cx="698.5" cy="940.6" r="3.5"/><circle cx="757.8" cy="935.1" r="3.5"/><circle cx="717.8" cy="933.5" r="3.5"/><circle cx="681.2" cy="939.8" r="3.5"/><circle cx="659.0" cy="939.3" r="3.5"/><circle cx="737.5" cy="939.9" r="3.5"/><circle cx="743.5" cy="936.5" r="3.5"/><circle cx="708.1" cy="934.8" r="3.5"/><circle cx="710.2" cy="934.2" r="3.5"/><circle cx="716.2" cy="937.4" r="3.5"/><circle cx="734.2" cy="938.2" r="3.5"/><circle cx="730.4" cy="933.1" r="3.5"/><circle cx="738.7" cy="937.7" r="3.5"/><circle cx="738.2" cy="930.9" r="3.5"/><circle cx="697.2" cy="938.0" r="3.5"/><circle cx="738.4" cy="937.1" r="3.5"/><circle cx="766.1" cy="938.5" r="3.5"/><circle cx="736.2" cy="939.9" r="3.5"/><circle cx="646.6" cy="935.7" r="3.5"/><circle cx="710.3" cy="938.9" r="3.5"/><circle cx="759.7" cy="937.1" r="3.5"/><circle cx="658.1" cy="939.0" r="3.5"/><circle cx="733.7" cy="931.5" r="3.5"/><circle cx="738.9" cy="938.3" r="3.5"/><circle cx="765.2" cy="935.8" r="3.5"/><circle cx="720.7" cy="937.3" r="3.5"/><circle cx="741.8" cy="936.1" r="3.5"/><circle cx="680.5" cy="931.7" r="3.5"/><circle cx="647.3" cy="934.3" r="3.5"/><circle cx="690.6" cy="932.1" r="3.5"/><circle cx="646.6" cy="935.1" r="3.5"/><circle cx="691.6" cy="931.5" r="3.5"/><circle cx="760.4" cy="934.5" r="3.5"/><circle cx="667.7" cy="938.2" r="3.5"/><circle cx="672.6" cy="936.4" r="3.5"/><circle cx="668.6" cy="938.7" r="3.5"/><circle cx="736.5" cy="934.3" r="3.5"/><circle cx="666.7" cy="935.0" r="3.5"/><circle cx="750.6" cy="938.1" r="3.5"/><circle cx="735.5" cy="932.5" r="3.5"/><circle cx="675.2" cy="937.4" r="3.5"/><circle cx="659.7" cy="933.9" r="3.5"/><circle cx="715.7" cy="936.2" r="3.5"/><circle cx="713.4" cy="931.9" r="3.5"/><circle cx="665.9" cy="931.9" r="3.5"/><circle cx="685.2" cy="932.9" r="3.5"/><circle cx="749.9" cy="938.9" r="3.5"/><circle cx="677.2" cy="940.5" r="3.5"/><circle cx="658.3" cy="933.4" r="3.5"/><circle cx="651.4" cy="939.1" r="3.5"/><circle cx="726.7" cy="939.9" r="3.5"/><circle cx="682.5" cy="931.5" r="3.5"/><circle cx="731.0" cy="931.9" r="3.5"/><circle cx="669.1" cy="932.8" r="3.5"/><circle cx="727.5" cy="940.4" r="3.5"/><circle cx="703.8" cy="938.4" r="3.5"/><circle cx="694.2" cy="939.7" r="3.5"/><circle cx="679.6" cy="931.9" r="3.5"/><circle cx="654.4" cy="935.9" r="3.5"/><circle cx="656.4" cy="936.5" r="3.5"/><circle cx="661.9" cy="933.9" r="3.5"/><circle cx="657.9" cy="933.3" r="3.5"/><circle cx="703.3" cy="939.6" r="3.5"/><circle cx="684.3" cy="935.8" r="3.5"/><circle cx="757.0" cy="937.3" r="3.5"/><circle cx="752.4" cy="933.4" r="3.5"/><circle cx="674.0" cy="939.0" r="3.5"/><circle cx="672.9" cy="940.1" r="3.5"/><circle cx="644.4" cy="935.7" r="3.5"/><circle cx="691.4" cy="935.2" r="3.5"/><circle cx="727.4" cy="934.2" r="3.5"/><circle cx="708.8" cy="935.2" r="3.5"/><circle cx="727.6" cy="930.9" r="3.5"/><circle cx="751.3" cy="933.5" r="3.5"/><circle cx="690.2" cy="937.6" r="3.5"/><circle cx="688.7" cy="936.9" r="3.5"/><circle cx="691.6" cy="939.3" r="3.5"/><circle cx="717.0" cy="931.4" r="3.5"/><circle cx="671.6" cy="934.6" r="3.5"/><circle cx="687.4" cy="938.4" r="3.5"/><circle cx="664.4" cy="939.6" r="3.5"/><circle cx="747.3" cy="932.9" r="3.5"/><circle cx="728.1" cy="937.5" r="3.5"/><circle cx="722.0" cy="935.2" r="3.5"/><circle cx="679.5" cy="931.0" r="3.5"/><circle cx="748.6" cy="935.6" r="3.5"/><circle cx="715.0" cy="930.7" r="3.5"/><circle cx="669.0" cy="934.4" r="3.5"/><circle cx="734.5" cy="937.0" r="3.5"/><circle cx="730.4" cy="936.8" r="3.5"/><circle cx="706.5" cy="934.6" r="3.5"/><circle cx="726.0" cy="937.5" r="3.5"/><circle cx="719.7" cy="935.3" r="3.5"/><circle cx="667.6" cy="934.6" r="3.5"/><circle cx="673.0" cy="931.6" r="3.5"/><circle cx="706.0" cy="936.0" r="3.5"/><circle cx="667.3" cy="939.3" r="3.5"/><circle cx="758.1" cy="935.4" r="3.5"/><circle cx="706.2" cy="935.5" r="3.5"/><circle cx="743.5" cy="938.4" r="3.5"/><circle cx="661.1" cy="932.5" r="3.5"/><circle cx="745.3" cy="931.8" r="3.5"/><circle cx="687.9" cy="932.4" r="3.5"/><circle cx="744.0" cy="939.5" r="3.5"/><circle cx="658.7" cy="938.2" r="3.5"/><circle cx="652.1" cy="937.2" r="3.5"/><circle cx="742.2" cy="935.5" r="3.5"/><circle cx="697.1" cy="939.9" r="3.5"/><circle cx="728.2" cy="936.3" r="3.5"/><circle cx="736.4" cy="939.3" r="3.5"/><circle cx="726.3" cy="937.1" r="3.5"/><circle cx="705.8" cy="938.4" r="3.5"/><circle cx="686.6" cy="937.4" r="3.5"/><circle cx="687.9" cy="940.6" r="3.5"/><circle cx="664.7" cy="935.0" r="3.5"/><circle cx="646.3" cy="939.0" r="3.5"/><circle cx="731.2" cy="938.0" r="3.5"/><circle cx="680.5" cy="938.3" r="3.5"/><circle cx="746.1" cy="939.9" r="3.5"/><circle cx="720.7" cy="932.1" r="3.5"/><circle cx="664.8" cy="936.5" r="3.5"/><circle cx="740.8" cy="934.6" r="3.5"/><circle cx="686.7" cy="940.3" r="3.5"/><circle cx="695.8" cy="937.1" r="3.5"/><circle cx="730.5" cy="937.8" r="3.5"/><circle cx="691.3" cy="934.2" r="3.5"/><circle cx="743.1" cy="937.2" r="3.5"/><circle cx="688.4" cy="934.9" r="3.5"/><circle cx="757.8" cy="938.9" r="3.5"/><circle cx="686.8" cy="934.1" r="3.5"/><circle cx="681.2" cy="940.1" r="3.5"/><circle cx="736.1" cy="937.0" r="3.5"/><circle cx="706.5" cy="935.8" r="3.5"/><circle cx="754.8" cy="933.1" r="3.5"/><circle cx="746.8" cy="936.6" r="3.5"/><circle cx="695.4" cy="935.8" r="3.5"/><circle cx="725.1" cy="933.3" r="3.5"/><circle cx="690.5" cy="940.4" r="3.5"/><circle cx="726.3" cy="935.2" r="3.5"/><circle cx="737.8" cy="933.0" r="3.5"/><circle cx="654.1" cy="938.6" r="3.5"/><circle cx="735.7" cy="935.1" r="3.5"/><circle cx="730.3" cy="935.9" r="3.5"/><circle cx="692.6" cy="934.9" r="3.5"/><circle cx="751.0" cy="939.3" r="3.5"/><circle cx="681.9" cy="935.6" r="3.5"/><circle cx="674.2" cy="938.1" r="3.5"/><circle cx="679.1" cy="938.2" r="3.5"/><circle cx="749.3" cy="935.2" r="3.5"/><circle cx="704.6" cy="936.5" r="3.5"/><circle cx="645.5" cy="937.7" r="3.5"/><circle cx="750.3" cy="932.7" r="3.5"/><circle cx="749.0" cy="938.2" r="3.5"/><circle cx="664.9" cy="940.3" r="3.5"/><circle cx="707.9" cy="937.0" r="3.5"/><circle cx="713.9" cy="937.1" r="3.5"/><circle cx="741.9" cy="938.8" r="3.5"/><circle cx="757.1" cy="935.2" r="3.5"/><circle cx="645.5" cy="937.6" r="3.5"/><circle cx="707.4" cy="936.7" r="3.5"/><circle cx="711.5" cy="937.5" r="3.5"/><circle cx="674.1" cy="932.8" r="3.5"/><circle cx="676.4" cy="933.6" r="3.5"/><circle cx="742.1" cy="934.8" r="3.5"/><circle cx="646.3" cy="936.4" r="3.5"/><circle cx="721.1" cy="940.3" r="3.5"/><circle cx="749.8" cy="940.1" r="3.5"/><circle cx="715.6" cy="939.0" r="3.5"/><circle cx="757.5" cy="935.1" r="3.5"/><circle cx="741.8" cy="935.8" r="3.5"/><circle cx="725.5" cy="934.0" r="3.5"/><circle cx="676.8" cy="938.7" r="3.5"/><circle cx="746.7" cy="939.3" r="3.5"/><circle cx="756.9" cy="938.7" r="3.5"/><circle cx="739.7" cy="931.2" r="3.5"/><circle cx="692.2" cy="934.1" r="3.5"/><circle cx="672.0" cy="931.6" r="3.5"/><circle cx="727.1" cy="939.2" r="3.5"/><circle cx="676.6" cy="938.4" r="3.5"/><circle cx="713.7" cy="937.6" r="3.5"/><circle cx="711.0" cy="939.2" r="3.5"/><circle cx="756.1" cy="937.5" r="3.5"/><circle cx="747.1" cy="939.3" r="3.5"/><circle cx="689.2" cy="940.5" r="3.5"/><circle cx="687.7" cy="934.3" r="3.5"/><circle cx="667.6" cy="935.3" r="3.5"/><circle cx="650.9" cy="936.1" r="3.5"/><circle cx="732.5" cy="936.4" r="3.5"/><circle cx="726.2" cy="939.6" r="3.5"/><circle cx="745.4" cy="939.6" r="3.5"/><circle cx="759.7" cy="935.5" r="3.5"/><circle cx="676.3" cy="937.3" r="3.5"/><circle cx="735.4" cy="935.8" r="3.5"/><circle cx="715.7" cy="935.3" r="3.5"/><circle cx="650.3" cy="939.4" r="3.5"/><circle cx="673.8" cy="931.8" r="3.5"/><circle cx="747.6" cy="938.5" r="3.5"/><circle cx="715.9" cy="931.0" r="3.5"/><circle cx="683.2" cy="931.3" r="3.5"/><circle cx="723.3" cy="940.3" r="3.5"/><circle cx="681.7" cy="936.2" r="3.5"/><circle cx="670.7" cy="933.3" r="3.5"/><circle cx="661.9" cy="932.8" r="3.5"/><circle cx="677.2" cy="940.1" r="3.5"/><circle cx="710.8" cy="939.8" r="3.5"/><circle cx="709.8" cy="932.8" r="3.5"/><circle cx="715.5" cy="936.1" r="3.5"/><circle cx="643.2" cy="935.6" r="3.5"/><circle cx="651.4" cy="934.3" r="3.5"/><circle cx="655.9" cy="935.0" r="3.5"/><circle cx="684.3" cy="937.0" r="3.5"/><circle cx="724.1" cy="939.1" r="3.5"/><circle cx="681.5" cy="932.3" r="3.5"/><circle cx="751.2" cy="935.9" r="3.5"/><circle cx="658.1" cy="939.8" r="3.5"/><circle cx="751.9" cy="939.6" r="3.5"/><circle cx="702.7" cy="935.4" r="3.5"/><circle cx="654.0" cy="936.1" r="3.5"/><circle cx="660.0" cy="935.4" r="3.5"/><circle cx="704.0" cy="937.1" r="3.5"/><circle cx="664.3" cy="936.7" r="3.5"/><circle cx="665.0" cy="939.5" r="3.5"/><circle cx="669.7" cy="932.0" r="3.5"/><circle cx="712.2" cy="933.8" r="3.5"/><circle cx="668.4" cy="933.2" r="3.5"/><circle cx="658.6" cy="938.1" r="3.5"/><circle cx="642.9" cy="936.8" r="3.5"/><circle cx="705.5" cy="937.8" r="3.5"/><circle cx="753.4" cy="939.9" r="3.5"/><circle cx="713.3" cy="938.4" r="3.5"/><circle cx="715.4" cy="932.9" r="3.5"/><circle cx="730.3" cy="940.2" r="3.5"/><circle cx="670.5" cy="934.7" r="3.5"/><circle cx="718.4" cy="933.8" r="3.5"/><circle cx="743.6" cy="937.3" r="3.5"/><circle cx="743.1" cy="936.1" r="3.5"/><circle cx="759.8" cy="936.6" r="3.5"/><circle cx="691.2" cy="939.9" r="3.5"/><circle cx="670.4" cy="933.4" r="3.5"/><circle cx="726.2" cy="939.3" r="3.5"/><circle cx="683.2" cy="939.4" r="3.5"/><circle cx="664.4" cy="938.6" r="3.5"/><circle cx="681.5" cy="930.9" r="3.5"/><circle cx="739.1" cy="931.6" r="3.5"/><circle cx="735.5" cy="934.4" r="3.5"/><circle cx="664.5" cy="934.5" r="3.5"/><circle cx="747.6" cy="932.8" r="3.5"/><circle cx="683.8" cy="939.1" r="3.5"/><circle cx="734.7" cy="939.4" r="3.5"/><circle cx="755.2" cy="933.3" r="3.5"/><circle cx="745.9" cy="932.7" r="3.5"/><circle cx="714.8" cy="936.4" r="3.5"/><circle cx="745.0" cy="932.9" r="3.5"/><circle cx="750.8" cy="937.8" r="3.5"/><circle cx="762.4" cy="935.4" r="3.5"/><circle cx="671.3" cy="932.3" r="3.5"/><circle cx="668.7" cy="938.8" r="3.5"/><circle cx="697.8" cy="938.4" r="3.5"/><circle cx="727.0" cy="933.6" r="3.5"/><circle cx="689.3" cy="932.9" r="3.5"/><circle cx="740.9" cy="933.9" r="3.5"/><circle cx="691.1" cy="939.9" r="3.5"/><circle cx="722.8" cy="932.3" r="3.5"/><circle cx="682.6" cy="934.8" r="3.5"/><circle cx="746.4" cy="932.8" r="3.5"/><circle cx="743.3" cy="936.6" r="3.5"/><circle cx="716.6" cy="936.2" r="3.5"/><circle cx="682.0" cy="938.6" r="3.5"/><circle cx="684.4" cy="932.3" r="3.5"/><circle cx="718.5" cy="937.8" r="3.5"/><circle cx="650.2" cy="938.0" r="3.5"/><circle cx="729.0" cy="936.3" r="3.5"/><circle cx="723.9" cy="932.6" r="3.5"/><circle cx="654.4" cy="933.9" r="3.5"/><circle cx="662.6" cy="938.0" r="3.5"/><circle cx="762.0" cy="937.1" r="3.5"/><circle cx="667.7" cy="931.8" r="3.5"/><circle cx="717.3" cy="931.8" r="3.5"/><circle cx="689.6" cy="935.7" r="3.5"/><circle cx="761.8" cy="935.7" r="3.5"/><circle cx="766.0" cy="938.9" r="3.5"/><circle cx="745.7" cy="939.1" r="3.5"/><circle cx="671.1" cy="937.2" r="3.5"/><circle cx="651.9" cy="935.2" r="3.5"/><circle cx="749.7" cy="935.6" r="3.5"/><circle cx="687.3" cy="931.4" r="3.5"/><circle cx="753.8" cy="934.1" r="3.5"/><circle cx="648.7" cy="934.5" r="3.5"/><circle cx="685.4" cy="934.1" r="3.5"/><circle cx="720.1" cy="937.0" r="3.5"/><circle cx="706.0" cy="934.0" r="3.5"/><circle cx="755.5" cy="935.8" r="3.5"/><circle cx="685.7" cy="930.9" r="3.5"/><circle cx="726.8" cy="935.2" r="3.5"/><circle cx="753.5" cy="933.4" r="3.5"/><circle cx="735.3" cy="940.4" r="3.5"/><circle cx="680.7" cy="939.4" r="3.5"/><circle cx="657.5" cy="934.9" r="3.5"/><circle cx="713.0" cy="940.3" r="3.5"/><circle cx="689.3" cy="933.2" r="3.5"/><circle cx="721.4" cy="938.0" r="3.5"/><circle cx="736.9" cy="937.8" r="3.5"/><circle cx="708.9" cy="936.5" r="3.5"/><circle cx="742.4" cy="934.0" r="3.5"/><circle cx="687.8" cy="931.1" r="3.5"/><circle cx="730.1" cy="933.8" r="3.5"/><circle cx="674.6" cy="939.2" r="3.5"/><circle cx="712.8" cy="932.5" r="3.5"/><circle cx="740.9" cy="937.3" r="3.5"/><circle cx="656.9" cy="935.6" r="3.5"/><circle cx="751.7" cy="939.1" r="3.5"/><circle cx="733.8" cy="939.1" r="3.5"/><circle cx="679.0" cy="940.2" r="3.5"/><circle cx="677.2" cy="936.9" r="3.5"/><circle cx="663.0" cy="937.7" r="3.5"/><circle cx="760.2" cy="938.8" r="3.5"/><circle cx="680.1" cy="936.4" r="3.5"/><circle cx="652.8" cy="938.2" r="3.5"/><circle cx="689.5" cy="936.9" r="3.5"/><circle cx="762.8" cy="938.1" r="3.5"/><circle cx="665.1" cy="931.6" r="3.5"/><circle cx="720.8" cy="932.9" r="3.5"/><circle cx="679.4" cy="939.2" r="3.5"/><circle cx="736.2" cy="936.0" r="3.5"/><circle cx="710.7" cy="934.0" r="3.5"/><circle cx="735.7" cy="938.0" r="3.5"/><circle cx="685.5" cy="931.5" r="3.5"/><circle cx="706.9" cy="937.9" r="3.5"/><circle cx="719.9" cy="938.2" r="3.5"/><circle cx="738.1" cy="940.4" r="3.5"/><circle cx="745.2" cy="935.1" r="3.5"/><circle cx="567.7" cy="938.8" r="3.5"/><circle cx="591.8" cy="939.4" r="3.5"/><circle cx="601.7" cy="939.8" r="3.5"/><circle cx="619.9" cy="940.2" r="3.5"/><circle cx="630.0" cy="931.9" r="3.5"/><circle cx="637.9" cy="936.2" r="3.5"/><circle cx="642.8" cy="938.2" r="3.5"/><circle cx="764.5" cy="937.2" r="3.5"/></g>
<circle cx="773.8" cy="718.7" r="7.5" fill="#e8a122"/>
<circle cx="774.2" cy="752.7" r="7.5" fill="#e0282d"/>
<circle cx="773.8" cy="786.5" r="7.5" fill="#000"/>
<text x="789.6" y="729.0" font-size="35">de novo DE</text>
<text x="789.6" y="762.6" font-size="35" textLength="41" lengthAdjust="spacingAndGlyphs">DE</text>
<text x="789.6" y="796.0" font-size="35">non-DE</text>
<text x="697.9" y="1042.0" font-size="35.3" text-anchor="middle">log<tspan font-size="27" dy="8">2</tspan><tspan dy="-8">​</tspan> fold-change</text>
<text x="490.8" y="777.0" font-size="36" text-anchor="middle" transform="rotate(-90 490.8 777.0)">-log<tspan font-size="26" dy="7">10</tspan><tspan dy="-7">​</tspan> adj. <tspan font-style="italic">P</tspan>-value</text>
</g>
<g id="panel_d">
<text x="-1.0" y="1148.5" font-size="55.5">d</text>
<text x="237.4" y="1143.0" font-size="35" text-anchor="middle">RAD21-TEV</text>
<rect x="136.50" y="1156.10" width="226.40" height="387.80" fill="#f2f2f2"/>
<line x1="136.5" y1="1169.6" x2="355.6" y2="1169.6" stroke="#8f8f8f" stroke-width="3.8"/>
<text font-size="38.3" text-anchor="end" transform="translate(137.4 1182.0) scale(1 1.04)">3</text>
<line x1="136.5" y1="1229.6" x2="355.6" y2="1229.6" stroke="#8f8f8f" stroke-width="3.8"/>
<text font-size="38.3" text-anchor="end" transform="translate(137.4 1237.8) scale(1 1.04)">2</text>
<line x1="136.5" y1="1290.2" x2="355.6" y2="1290.2" stroke="#8f8f8f" stroke-width="3.8"/>
<text font-size="38.3" text-anchor="end" transform="translate(137.4 1300.2) scale(1 1.04)">1</text>
<line x1="136.5" y1="1352.6" x2="355.6" y2="1352.6" stroke="#8f8f8f" stroke-width="3.8"/>
<text font-size="38.3" text-anchor="end" transform="translate(137.4 1360.6) scale(1 1.04)">0</text>
<line x1="136.5" y1="1410.9" x2="355.6" y2="1410.9" stroke="#8f8f8f" stroke-width="3.8"/>
<text font-size="38.3" text-anchor="end" transform="translate(137.4 1422.4) scale(1 1.04)">-1</text>
<line x1="136.5" y1="1471.1" x2="355.6" y2="1471.1" stroke="#8f8f8f" stroke-width="3.8"/>
<text font-size="38.3" text-anchor="end" transform="translate(137.4 1483.5) scale(1 1.04)">-2</text>
<line x1="136.5" y1="1531.1" x2="355.6" y2="1531.1" stroke="#8f8f8f" stroke-width="3.8"/>
<text font-size="38.3" text-anchor="end" transform="translate(137.4 1544.0) scale(1 1.04)">-3</text>
<g stroke="#00a3d9" stroke-width="3.4" stroke-opacity="0.15" fill="#00a3d9" fill-opacity="0.15" stroke-linecap="round"><path d="M212.2,1403.7L310.8,1352.6"/><path d="M180.4,1406.7L312.6,1360.2"/><path d="M176.5,1403.5L304.4,1379.8"/><path d="M202.3,1412.7L294.2,1343.8"/><path d="M200.6,1442.7L316.6,1368.1"/><path d="M195.2,1371.0L294.9,1352.4"/><path d="M173.8,1376.2L310.7,1344.2"/><path d="M194.8,1420.1L317.6,1349.3"/><path d="M192.2,1410.9L303.4,1359.6"/><path d="M202.9,1441.6L304.9,1364.1"/><path d="M175.5,1371.3L322.5,1341.5"/><path d="M189.1,1413.7L330.0,1341.5"/><path d="M181.5,1368.8L328.1,1355.0"/><path d="M189.6,1448.0L295.4,1355.5"/><path d="M184.1,1402.8L296.0,1379.2"/><path d="M205.1,1405.3L297.2,1322.5"/><path d="M175.1,1368.6L323.7,1347.0"/><path d="M191.7,1384.5L300.0,1337.7"/><path d="M200.2,1370.0L297.1,1363.3"/><path d="M184.1,1385.9L330.5,1351.2"/><path d="M210.5,1376.4L300.8,1368.5"/><path d="M200.1,1413.0L296.5,1340.1"/><path d="M183.6,1388.3L322.7,1357.6"/><path d="M175.7,1379.8L296.1,1343.9"/><path d="M198.4,1387.0L307.1,1362.8"/><path d="M193.3,1438.3L315.0,1351.0"/><path d="M179.1,1380.6L328.0,1363.7"/><path d="M180.7,1377.3L321.4,1366.8"/><path d="M213.4,1386.1L327.0,1360.6"/><path d="M177.0,1392.4L294.1,1367.7"/><path d="M202.8,1389.1L302.6,1359.8"/><path d="M185.1,1385.7L299.4,1376.2"/><path d="M182.3,1370.3L314.4,1360.8"/><path d="M184.5,1392.2L328.4,1375.3"/><path d="M184.1,1369.8L310.0,1351.8"/><path d="M188.4,1385.0L314.9,1352.7"/><path d="M210.8,1386.9L330.8,1345.4"/><path d="M197.6,1392.8L298.1,1378.2"/><path d="M211.6,1373.6L319.9,1354.4"/><path d="M199.9,1374.1L311.4,1356.0"/><path d="M215.5,1371.4L295.5,1369.0"/><path d="M211.2,1413.6L321.3,1367.5"/><path d="M211.8,1383.0L306.3,1383.9"/><path d="M210.0,1392.9L308.9,1389.6"/><path d="M197.1,1382.8L317.0,1387.7"/><path d="M198.7,1396.6L295.7,1343.4"/><path d="M210.3,1426.9L321.0,1401.1"/><path d="M197.5,1404.3L309.8,1341.7"/><path d="M204.8,1374.7L293.8,1361.0"/><path d="M182.4,1394.9L319.8,1368.8"/><path d="M212.1,1408.2L302.6,1358.9"/><path d="M201.7,1392.7L300.5,1356.4"/><path d="M200.9,1398.7L309.8,1327.2"/><path d="M201.1,1388.3L300.3,1366.0"/><path d="M211.8,1415.8L326.9,1347.8"/><path d="M186.1,1396.9L297.9,1343.6"/><path d="M209.0,1423.4L320.3,1360.4"/><path d="M179.8,1390.4L310.2,1361.2"/><path d="M190.3,1371.4L317.0,1343.7"/><path d="M208.6,1393.5L330.9,1357.0"/><path d="M173.9,1379.2L326.6,1353.9"/><path d="M197.0,1412.2L304.7,1353.2"/><path d="M178.3,1369.7L310.3,1357.7"/><path d="M182.7,1422.1L298.1,1356.2"/><path d="M191.7,1407.3L317.2,1352.5"/><path d="M213.7,1397.8L319.3,1382.5"/><path d="M180.2,1378.6L293.0,1338.2"/><path d="M180.2,1413.4L303.2,1355.4"/><path d="M194.9,1393.6L316.6,1336.8"/><path d="M206.6,1369.4L327.9,1370.9"/><path d="M203.6,1425.7L297.7,1341.7"/><path d="M211.6,1407.1L307.3,1352.6"/><path d="M206.8,1422.3L329.4,1375.0"/><path d="M181.3,1409.2L320.8,1354.1"/><path d="M203.4,1385.5L300.9,1377.8"/><path d="M214.5,1434.0L313.5,1389.2"/><path d="M211.6,1374.7L326.0,1369.1"/><path d="M191.5,1375.3L314.1,1349.8"/><path d="M173.7,1372.1L324.2,1373.6"/><path d="M179.9,1416.0L305.7,1348.8"/><path d="M178.9,1372.0L312.7,1363.6"/><path d="M202.1,1377.4L329.5,1386.3"/><path d="M176.2,1438.9L301.2,1361.1"/><path d="M203.8,1391.9L317.5,1359.6"/><path d="M196.6,1423.5L304.8,1365.6"/><path d="M211.2,1409.3L300.7,1338.1"/><path d="M195.0,1413.3L314.9,1394.4"/><path d="M194.1,1379.2L316.2,1336.6"/><path d="M194.7,1443.6L308.2,1356.1"/><path d="M193.6,1380.0L319.5,1375.8"/><path d="M190.3,1401.2L329.9,1350.3"/><path d="M192.8,1388.6L297.6,1362.9"/><path d="M211.2,1417.0L311.2,1348.2"/><path d="M199.1,1376.0L328.7,1345.7"/><path d="M173.5,1402.8L300.2,1338.1"/><path d="M186.3,1374.6L306.5,1330.7"/><path d="M203.9,1378.2L297.4,1360.9"/><path d="M181.0,1390.2L313.3,1357.9"/><path d="M190.3,1394.2L313.2,1351.5"/><path d="M199.6,1378.8L317.5,1346.5"/><path d="M198.8,1423.8L326.0,1367.0"/><path d="M207.4,1373.4L327.8,1328.5"/><path d="M212.2,1378.4L301.1,1342.7"/><path d="M178.3,1428.8L301.9,1362.1"/><path d="M176.7,1371.6L325.1,1367.4"/><path d="M177.9,1413.3L308.3,1346.3"/><path d="M181.1,1370.4L319.2,1357.6"/><path d="M177.5,1432.9L312.3,1384.8"/><path d="M202.0,1370.0L300.0,1373.9"/><path d="M174.1,1380.7L314.1,1352.7"/><path d="M178.8,1405.7L299.8,1360.9"/><path d="M215.1,1384.1L328.7,1326.5"/><path d="M213.4,1376.8L310.6,1352.2"/><path d="M192.6,1370.7L312.7,1369.2"/><path d="M173.1,1403.8L319.9,1349.4"/><path d="M192.0,1378.5L321.4,1364.3"/><path d="M179.6,1384.1L312.6,1350.4"/><path d="M207.0,1429.2L320.1,1358.5"/><path d="M189.9,1394.4L316.0,1375.2"/><path d="M207.1,1450.7L302.7,1365.6"/><path d="M206.0,1408.9L324.4,1373.6"/><path d="M210.3,1419.4L319.7,1341.2"/><path d="M189.9,1373.6L320.8,1382.7"/><path d="M192.7,1392.2L293.0,1351.0"/><path d="M199.3,1393.7L301.7,1339.2"/><path d="M187.0,1408.6L318.3,1367.5"/><path d="M189.3,1400.6L331.6,1366.9"/><path d="M205.3,1396.5L330.8,1377.6"/><path d="M204.3,1407.9L302.6,1356.0"/><path d="M180.9,1375.9L307.3,1352.4"/><path d="M211.4,1386.2L314.1,1349.5"/><path d="M196.9,1443.8L331.4,1365.6"/><path d="M175.8,1402.4L315.9,1381.2"/><path d="M212.5,1368.8L298.8,1359.5"/><path d="M193.8,1385.6L316.4,1354.8"/><path d="M190.6,1433.4L313.1,1348.2"/><path d="M184.8,1390.8L318.1,1366.1"/><path d="M203.3,1390.2L304.1,1362.1"/><path d="M174.3,1389.9L298.7,1356.0"/><path d="M211.1,1369.1L321.8,1370.8"/><path d="M213.1,1450.7L295.5,1349.3"/><path d="M193.0,1393.7L330.6,1367.2"/><path d="M212.8,1369.7L320.8,1334.8"/><path d="M207.6,1447.1L316.1,1355.0"/><path d="M192.1,1398.6L300.5,1343.1"/><path d="M177.8,1401.9L309.9,1352.1"/><path d="M183.8,1384.0L315.3,1372.0"/><path d="M195.3,1412.2L331.5,1346.1"/><path d="M182.8,1413.3L297.0,1367.7"/><path d="M199.4,1407.9L306.6,1377.0"/><path d="M196.8,1374.2L315.7,1330.7"/><path d="M180.7,1400.7L302.3,1378.6"/><path d="M210.3,1432.1L294.1,1366.7"/><path d="M190.8,1389.6L316.9,1352.2"/><path d="M175.6,1397.2L296.0,1345.7"/><path d="M199.6,1384.6L307.2,1374.9"/><path d="M187.3,1388.0L321.6,1355.3"/><path d="M177.7,1374.3L324.2,1360.6"/><path d="M181.7,1403.6L309.2,1378.3"/><path d="M188.4,1371.0L318.1,1325.2"/><path d="M196.1,1393.9L321.7,1358.5"/><path d="M188.4,1395.1L296.4,1365.9"/><path d="M176.1,1376.6L314.6,1360.1"/><path d="M185.4,1412.1L322.8,1357.4"/><path d="M201.0,1386.1L295.8,1351.4"/><path d="M202.3,1383.7L303.6,1331.7"/><path d="M203.7,1385.3L306.9,1344.5"/><path d="M197.0,1402.0L328.4,1341.3"/><path d="M191.3,1427.8L323.9,1374.9"/><path d="M189.7,1376.8L329.1,1342.1"/><path d="M188.1,1385.5L306.9,1364.1"/><path d="M189.2,1387.3L300.2,1344.4"/><path d="M195.7,1415.9L325.2,1371.5"/><path d="M205.1,1384.9L327.0,1360.4"/><path d="M194.7,1369.5L313.8,1351.2"/><path d="M200.5,1437.0L324.0,1380.2"/><path d="M206.4,1401.8L295.9,1350.5"/><path d="M211.2,1409.5L295.9,1346.4"/><path d="M204.6,1379.0L317.9,1362.5"/><path d="M205.4,1368.9L312.9,1343.1"/><path d="M187.0,1371.0L330.4,1371.0"/><path d="M195.6,1384.1L320.7,1373.2"/><path d="M190.2,1385.0L324.8,1391.4"/><path d="M207.2,1396.6L325.1,1385.5"/><path d="M200.0,1424.0L313.0,1387.5"/><path d="M190.6,1381.2L309.0,1384.4"/><path d="M215.1,1397.2L307.2,1336.7"/><path d="M190.8,1378.0L304.0,1346.1"/><path d="M185.8,1378.2L297.1,1356.7"/><path d="M180.2,1398.2L295.0,1380.6"/><path d="M211.6,1405.3L294.0,1353.4"/><path d="M181.8,1382.6L301.8,1349.6"/><path d="M182.1,1376.2L299.8,1376.9"/><path d="M205.1,1371.7L304.8,1345.1"/><path d="M193.1,1419.2L302.8,1369.5"/><path d="M187.2,1417.0L313.9,1383.8"/><path d="M182.0,1400.3L294.5,1363.3"/><path d="M189.1,1417.5L313.2,1369.9"/><path d="M215.1,1391.4L318.2,1358.5"/><path d="M192.8,1368.6L307.1,1352.1"/><path d="M198.6,1381.5L298.7,1380.7"/><path d="M183.7,1382.4L326.5,1344.2"/><path d="M215.2,1409.3L303.0,1361.7"/><path d="M205.6,1384.4L292.7,1358.4"/><path d="M207.8,1392.6L295.8,1385.8"/><path d="M176.7,1374.0L311.3,1329.5"/><path d="M197.7,1439.1L326.0,1355.0"/><path d="M190.4,1385.2L328.4,1329.4"/><path d="M181.5,1413.8L313.8,1343.5"/><path d="M208.3,1385.0L304.7,1358.0"/><path d="M185.6,1372.6L310.8,1349.0"/><path d="M202.0,1374.2L296.7,1370.2"/><path d="M214.1,1393.6L325.0,1346.3"/><path d="M188.7,1370.9L320.3,1356.9"/><path d="M192.2,1371.2L293.0,1333.9"/><path d="M181.4,1420.1L316.6,1362.2"/><path d="M195.7,1375.3L304.2,1340.0"/><path d="M201.2,1383.4L302.6,1342.4"/><path d="M186.7,1382.8L329.5,1331.1"/><path d="M186.8,1411.1L324.8,1369.7"/><path d="M176.6,1381.6L319.0,1351.2"/><path d="M189.8,1373.0L325.2,1365.0"/><path d="M182.2,1378.8L298.7,1359.6"/><path d="M175.6,1389.3L328.5,1345.3"/><path d="M200.3,1399.3L322.5,1349.6"/><path d="M186.8,1380.6L308.7,1370.5"/><path d="M202.6,1397.4L330.9,1356.4"/><path d="M198.7,1378.8L293.3,1378.9"/><path d="M200.5,1381.2L296.7,1343.0"/><path d="M206.4,1393.1L324.8,1343.9"/><path d="M205.5,1381.3L327.8,1362.2"/><path d="M194.0,1394.0L298.1,1362.1"/><path d="M194.7,1387.7L320.5,1403.4"/><path d="M213.1,1378.1L317.1,1364.9"/><path d="M183.0,1372.2L315.1,1348.5"/><path d="M212.4,1376.7L306.7,1369.2"/><path d="M214.4,1382.8L297.9,1354.3"/><path d="M196.6,1398.1L314.5,1369.6"/><path d="M215.2,1374.0L324.5,1319.6"/><path d="M208.0,1380.2L303.9,1360.9"/><path d="M197.2,1385.4L325.0,1363.8"/><path d="M175.8,1382.6L293.8,1337.3"/><path d="M212.9,1404.6L318.3,1315.4"/><path d="M204.2,1383.6L307.5,1333.6"/><path d="M173.2,1412.0L300.4,1375.8"/><path d="M189.1,1384.0L314.8,1354.6"/><path d="M183.8,1384.5L314.8,1338.9"/><path d="M174.1,1388.7L318.8,1336.6"/><path d="M198.3,1413.3L310.9,1327.4"/><path d="M202.1,1402.6L322.2,1346.6"/><path d="M215.3,1368.6L325.3,1373.3"/><path d="M191.2,1386.5L314.7,1369.9"/><path d="M195.1,1397.6L309.5,1369.2"/><path d="M174.9,1389.3L320.9,1365.1"/><path d="M198.2,1406.3L321.9,1374.6"/><path d="M175.5,1381.4L297.5,1335.5"/><path d="M189.6,1400.6L294.6,1352.1"/><path d="M182.8,1380.3L304.5,1374.6"/><path d="M175.4,1385.1L328.1,1349.2"/><path d="M209.8,1410.2L309.0,1364.5"/><path d="M204.6,1375.3L314.7,1366.2"/><path d="M206.6,1379.1L297.4,1360.0"/><path d="M172.5,1437.4L302.1,1372.1"/><path d="M175.2,1376.1L327.5,1341.7"/><path d="M187.8,1379.9L315.4,1370.9"/><path d="M211.1,1375.3L304.6,1354.2"/><path d="M214.5,1435.7L311.0,1362.2"/><path d="M212.2,1374.8L327.6,1342.1"/><path d="M187.7,1386.8L311.0,1327.4"/><path d="M215.3,1396.4L300.5,1328.3"/><path d="M210.3,1381.0L294.6,1363.9"/><path d="M186.0,1404.9L327.7,1342.7"/><path d="M178.3,1399.5L319.7,1377.0"/><path d="M175.9,1397.3L301.3,1364.7"/><path d="M180.9,1384.3L299.7,1332.4"/><path d="M206.5,1372.2L307.1,1331.0"/><path d="M197.9,1399.9L301.5,1387.1"/><path d="M201.2,1389.1L303.4,1321.6"/><path d="M214.8,1376.3L309.8,1360.9"/><path d="M174.4,1403.3L316.0,1362.2"/><path d="M207.0,1373.0L296.0,1343.0"/><path d="M183.1,1378.9L303.5,1329.1"/><path d="M211.1,1386.0L331.1,1359.7"/><path d="M204.8,1399.8L307.6,1354.5"/><path d="M180.2,1399.0L314.3,1366.4"/><path d="M200.8,1385.0L323.1,1368.6"/><path d="M208.9,1402.4L319.3,1360.6"/><path d="M180.0,1438.9L323.0,1368.1"/><path d="M182.6,1388.4L309.8,1337.7"/><path d="M206.5,1375.6L301.8,1383.7"/><path d="M197.4,1388.7L312.1,1356.1"/><path d="M203.2,1406.3L314.9,1354.2"/><path d="M179.0,1381.0L293.3,1363.4"/><path d="M191.5,1399.2L302.9,1357.8"/><path d="M211.5,1371.6L314.8,1360.9"/><path d="M182.7,1417.7L298.3,1368.1"/><path d="M186.0,1371.5L316.8,1350.4"/><path d="M197.8,1390.7L296.1,1359.2"/><path d="M183.5,1375.9L298.8,1364.4"/><path d="M206.3,1388.2L295.0,1385.5"/><path d="M181.8,1391.6L330.5,1349.0"/><path d="M205.2,1400.7L331.1,1353.4"/><path d="M204.5,1387.9L294.1,1342.7"/><path d="M178.6,1371.9L307.9,1320.8"/><path d="M175.8,1377.3L293.9,1339.2"/><path d="M204.1,1417.4L301.6,1361.0"/><path d="M182.9,1369.0L310.6,1333.9"/><path d="M187.0,1393.4L330.9,1363.9"/><path d="M189.8,1374.6L317.9,1358.2"/><path d="M202.4,1393.0L326.3,1352.1"/><path d="M192.4,1419.1L307.9,1378.9"/><path d="M206.1,1383.9L301.0,1369.7"/><path d="M196.1,1378.9L299.0,1347.3"/><path d="M192.6,1374.1L304.6,1344.3"/><path d="M201.7,1454.9L326.2,1348.1"/><path d="M175.6,1376.3L319.6,1340.1"/><path d="M173.3,1383.4L299.7,1346.4"/><path d="M212.2,1370.5L320.5,1338.5"/><path d="M179.1,1371.5L329.1,1339.6"/><path d="M203.6,1399.6L328.0,1336.8"/><path d="M189.0,1393.6L295.8,1355.7"/><path d="M205.6,1387.3L312.9,1366.5"/><path d="M182.7,1395.5L294.2,1352.2"/><path d="M173.9,1391.0L304.8,1339.4"/><path d="M178.3,1400.5L320.2,1349.0"/><path d="M201.1,1371.3L298.3,1328.7"/><path d="M203.1,1374.9L308.4,1342.6"/><path d="M182.2,1412.2L304.0,1338.4"/><path d="M174.2,1379.6L293.6,1346.5"/><path d="M207.3,1393.8L330.6,1372.9"/><path d="M212.0,1381.1L301.0,1332.9"/><path d="M213.6,1384.3L326.5,1378.8"/><path d="M176.4,1372.2L309.3,1332.0"/><path d="M189.0,1376.2L305.4,1351.8"/><path d="M179.3,1391.7L308.3,1357.1"/><path d="M201.1,1385.5L302.0,1355.0"/><path d="M190.7,1390.4L298.5,1348.9"/><path d="M196.3,1407.3L319.9,1371.7"/><path d="M188.2,1396.8L295.1,1355.6"/><path d="M193.8,1376.3L315.4,1352.4"/><path d="M183.4,1393.5L293.5,1354.7"/><path d="M196.8,1403.2L302.8,1330.5"/><path d="M192.7,1377.4L316.6,1364.7"/><path d="M197.3,1394.6L329.4,1362.0"/><path d="M199.2,1373.7L308.6,1377.8"/><path d="M208.2,1388.4L326.9,1350.3"/><path d="M174.1,1415.0L297.9,1336.0"/><path d="M188.0,1393.1L330.7,1358.1"/><path d="M182.3,1379.4L319.1,1347.2"/><path d="M195.9,1368.4L308.0,1353.8"/><path d="M200.5,1370.5L314.0,1335.8"/><path d="M208.2,1394.6L330.4,1372.4"/><path d="M210.6,1381.7L304.8,1343.1"/><path d="M202.0,1377.8L330.2,1380.1"/><path d="M199.2,1376.0L311.7,1364.0"/><path d="M184.8,1393.9L321.8,1363.7"/><path d="M183.2,1389.1L305.3,1359.5"/><path d="M177.9,1383.5L295.1,1338.7"/><path d="M202.8,1380.5L297.0,1352.8"/><path d="M193.2,1415.8L298.9,1351.8"/><path d="M174.8,1407.3L302.5,1383.6"/><path d="M189.4,1419.9L320.5,1362.0"/><path d="M186.6,1368.8L305.6,1328.7"/><path d="M208.1,1371.5L314.7,1386.1"/><path d="M199.3,1408.1L325.0,1347.1"/><path d="M188.7,1373.0L318.7,1363.0"/><path d="M173.1,1370.5L315.4,1344.4"/><path d="M178.3,1439.9L319.4,1378.7"/><path d="M189.6,1404.0L329.0,1347.6"/><path d="M203.2,1377.4L297.2,1355.9"/><path d="M203.9,1391.2L331.4,1353.7"/><path d="M173.6,1387.1L313.8,1346.8"/><path d="M185.8,1396.1L323.8,1356.1"/><path d="M189.3,1380.8L316.7,1367.3"/><path d="M189.2,1376.1L319.7,1401.0"/><path d="M178.8,1418.1L299.4,1368.8"/><path d="M183.3,1421.0L311.6,1337.2"/><path d="M173.3,1386.9L314.7,1346.8"/><path d="M184.3,1393.4L301.5,1339.6"/><path d="M183.7,1395.7L294.6,1356.0"/><path d="M185.8,1424.5L295.7,1347.7"/><path d="M215.4,1382.0L300.5,1339.1"/><path d="M190.3,1390.7L324.1,1371.0"/><path d="M196.2,1376.2L318.2,1352.0"/><path d="M212.9,1385.0L326.3,1365.6"/><path d="M208.3,1399.6L320.9,1358.9"/><path d="M179.8,1371.3L297.2,1351.5"/><path d="M204.9,1392.6L304.7,1350.5"/><path d="M181.5,1372.5L330.0,1355.2"/><path d="M207.3,1403.6L323.5,1357.3"/><path d="M207.0,1371.0L324.9,1371.2"/><path d="M176.8,1377.7L329.7,1402.9"/><path d="M183.3,1405.3L328.1,1344.3"/><path d="M182.3,1405.8L307.7,1355.8"/><path d="M207.4,1397.1L306.8,1340.5"/><path d="M184.5,1385.8L327.9,1368.2"/><path d="M186.9,1373.9L321.5,1348.6"/><path d="M196.0,1379.8L319.1,1329.8"/><path d="M178.6,1374.3L306.3,1348.3"/><path d="M194.1,1371.9L308.3,1354.0"/><path d="M213.4,1383.9L300.6,1338.2"/><path d="M204.9,1386.9L296.8,1366.5"/><path d="M213.9,1398.9L301.2,1359.5"/><path d="M180.1,1406.2L303.3,1345.1"/><path d="M186.4,1399.3L299.8,1393.7"/><path d="M178.9,1422.8L317.4,1322.6"/><path d="M181.6,1398.3L316.6,1341.9"/><path d="M199.5,1411.7L312.3,1380.5"/><path d="M208.5,1381.3L319.5,1359.3"/><path d="M190.5,1409.3L307.6,1352.4"/><path d="M197.1,1373.2L312.7,1333.2"/><path d="M191.7,1408.1L315.7,1354.7"/><path d="M179.0,1423.8L310.9,1382.3"/><path d="M186.0,1415.6L321.3,1361.4"/><path d="M209.8,1397.6L297.5,1359.1"/><path d="M182.6,1401.9L325.4,1359.7"/><path d="M208.2,1408.6L323.7,1390.2"/><path d="M209.9,1376.2L320.4,1359.2"/><path d="M192.0,1368.5L313.5,1325.0"/><path d="M184.5,1381.0L317.7,1364.0"/><path d="M206.3,1401.2L311.7,1349.2"/><path d="M209.3,1371.0L322.7,1325.6"/><path d="M206.8,1428.2L298.5,1372.5"/><path d="M174.1,1377.1L306.1,1350.0"/><path d="M177.5,1404.5L299.7,1382.0"/><path d="M199.0,1411.3L327.8,1339.3"/><path d="M181.4,1445.6L317.1,1342.7"/><path d="M181.0,1401.6L318.7,1376.9"/><path d="M187.1,1372.9L304.9,1353.8"/><path d="M198.4,1384.3L319.7,1366.0"/><path d="M202.3,1374.7L310.8,1347.5"/><path d="M213.0,1378.2L316.4,1349.8"/><path d="M215.3,1380.2L319.6,1347.5"/><path d="M185.8,1370.6L308.5,1370.1"/><path d="M190.8,1393.1L324.6,1339.2"/><path d="M194.3,1395.2L329.3,1348.0"/><path d="M182.6,1394.0L315.2,1336.7"/><path d="M184.8,1381.1L325.9,1323.8"/><path d="M212.6,1382.5L307.7,1372.2"/><path d="M191.8,1369.9L295.1,1376.7"/><path d="M191.5,1388.8L329.8,1350.5"/><path d="M201.4,1380.2L302.1,1331.7"/><path d="M211.0,1381.4L302.4,1351.5"/><path d="M207.8,1391.5L325.8,1350.2"/><path d="M176.8,1398.9L327.6,1369.2"/><path d="M188.6,1391.7L320.8,1349.1"/><path d="M211.1,1381.2L329.6,1369.1"/><path d="M192.7,1408.8L306.7,1356.0"/><path d="M201.3,1392.9L316.2,1354.3"/><path d="M215.2,1446.2L308.0,1372.1"/><path d="M202.6,1388.2L331.5,1377.6"/><path d="M189.8,1397.7L318.2,1350.7"/><path d="M181.5,1385.7L307.0,1308.3"/><path d="M204.4,1386.3L295.9,1343.9"/><path d="M199.3,1389.2L321.5,1336.6"/><path d="M203.9,1369.4L322.9,1324.9"/><path d="M173.2,1392.0L326.1,1344.8"/><path d="M173.5,1426.1L306.3,1373.2"/><path d="M177.3,1403.1L323.4,1363.2"/><path d="M177.9,1379.2L314.7,1337.4"/><path d="M194.5,1376.8L304.1,1350.4"/><path d="M190.3,1372.0L294.7,1367.0"/><path d="M196.5,1374.7L310.5,1337.8"/><path d="M209.1,1376.3L298.6,1361.6"/><path d="M190.0,1403.0L316.5,1362.3"/><path d="M190.3,1417.2L293.0,1392.0"/><path d="M204.1,1398.7L320.4,1333.4"/><path d="M173.7,1388.0L296.9,1340.2"/><path d="M200.2,1391.9L325.7,1317.1"/><path d="M175.9,1397.1L302.8,1353.1"/><path d="M186.6,1417.8L311.7,1336.9"/><path d="M213.2,1402.5L314.7,1386.6"/><path d="M189.5,1430.9L304.3,1362.2"/><path d="M188.3,1369.8L309.3,1367.2"/><path d="M191.0,1395.3L310.2,1355.5"/><path d="M175.2,1420.6L313.2,1351.3"/><path d="M182.1,1396.2L296.5,1362.7"/><path d="M193.3,1385.7L301.6,1346.4"/><path d="M172.9,1368.4L308.5,1373.3"/><path d="M198.0,1371.7L330.1,1355.3"/><path d="M188.4,1394.2L304.3,1341.2"/><path d="M186.1,1398.2L312.0,1371.8"/><path d="M174.8,1416.5L296.2,1363.0"/><path d="M206.7,1368.6L309.2,1341.6"/><path d="M184.8,1387.0L319.1,1369.5"/><path d="M208.3,1439.9L305.4,1339.1"/><path d="M206.4,1390.3L317.6,1329.7"/><path d="M174.6,1414.3L317.0,1350.4"/><path d="M200.0,1431.0L293.5,1374.0"/><path d="M197.4,1412.6L292.8,1370.7"/><path d="M201.7,1370.8L331.0,1371.7"/><path d="M206.1,1378.2L309.8,1358.9"/><path d="M191.8,1368.6L309.6,1370.4"/><path d="M204.1,1387.0L295.4,1347.1"/><path d="M201.1,1409.2L314.0,1338.9"/><path d="M185.8,1379.3L329.8,1350.5"/><path d="M181.6,1429.1L308.8,1375.4"/><path d="M177.8,1422.2L326.7,1368.0"/><path d="M191.1,1375.5L307.3,1354.6"/><path d="M193.7,1398.7L319.5,1391.4"/><path d="M177.0,1406.6L321.6,1340.8"/><path d="M181.2,1387.5L306.1,1338.1"/><path d="M197.9,1382.1L312.9,1343.2"/><path d="M208.7,1397.2L306.6,1344.2"/><path d="M214.7,1396.9L305.4,1367.3"/><path d="M183.7,1375.1L321.1,1366.5"/><path d="M175.3,1388.2L324.8,1362.6"/><path d="M191.1,1401.3L316.7,1340.5"/><path d="M211.6,1441.8L310.4,1379.5"/><path d="M204.9,1389.2L296.6,1356.0"/><path d="M174.0,1387.8L319.8,1327.2"/><path d="M186.8,1401.6L298.5,1367.0"/><path d="M207.1,1415.2L296.4,1368.5"/><path d="M181.1,1372.6L313.5,1366.2"/><path d="M205.4,1379.6L315.3,1361.1"/><path d="M202.1,1421.3L306.8,1382.7"/><path d="M185.0,1412.2L326.0,1367.6"/><path d="M183.2,1371.6L293.4,1367.5"/><path d="M185.1,1389.8L302.5,1359.9"/><path d="M184.2,1390.9L303.7,1343.4"/><path d="M210.1,1374.2L298.8,1336.1"/><path d="M198.7,1404.4L313.8,1383.5"/><path d="M200.9,1371.9L328.5,1374.9"/><path d="M174.8,1371.8L329.1,1367.4"/><path d="M182.5,1401.4L310.3,1336.7"/><path d="M213.1,1400.4L312.3,1339.2"/><path d="M182.5,1392.8L329.6,1363.5"/><path d="M200.8,1421.2L295.4,1336.1"/><path d="M196.8,1379.2L297.3,1360.2"/><path d="M210.0,1393.1L295.0,1358.4"/><path d="M173.8,1373.7L314.9,1360.4"/><path d="M209.3,1412.0L323.2,1362.4"/><path d="M195.2,1379.8L299.8,1356.7"/><path d="M194.0,1395.0L300.3,1360.2"/><path d="M193.4,1376.7L295.7,1371.7"/><path d="M214.3,1405.1L314.5,1357.2"/><path d="M186.9,1384.5L320.0,1346.1"/><path d="M213.3,1441.6L328.7,1379.9"/><path d="M173.4,1411.0L311.7,1389.1"/><path d="M198.8,1405.4L316.5,1372.3"/><path d="M194.8,1379.5L330.0,1358.6"/><path d="M209.9,1382.1L329.9,1354.6"/><path d="M208.2,1375.6L319.5,1354.7"/><path d="M205.1,1406.1L324.1,1361.7"/><path d="M206.6,1379.1L330.6,1355.8"/><path d="M186.9,1383.1L306.1,1370.7"/><path d="M183.8,1417.7L315.4,1357.8"/><path d="M201.5,1394.1L310.3,1360.0"/><path d="M180.1,1374.1L298.4,1321.7"/><path d="M206.2,1369.0L305.6,1336.0"/><path d="M183.7,1371.4L313.0,1331.2"/><path d="M180.4,1370.1L301.7,1321.4"/><path d="M203.7,1376.5L318.9,1341.7"/><path d="M175.9,1377.3L322.4,1375.2"/><path d="M190.3,1369.0L331.2,1343.2"/><path d="M211.7,1387.0L331.2,1345.6"/><path d="M206.5,1380.1L323.1,1350.2"/><path d="M188.8,1395.2L303.8,1333.2"/><path d="M193.0,1407.9L324.5,1374.1"/><path d="M188.9,1402.2L295.1,1356.9"/><path d="M181.3,1382.1L326.8,1360.8"/><path d="M187.2,1433.2L328.9,1371.5"/><path d="M213.2,1397.1L300.1,1337.9"/><path d="M210.4,1397.0L320.9,1339.5"/><path d="M188.5,1398.5L297.3,1363.7"/><path d="M175.6,1378.1L299.8,1317.6"/><path d="M185.7,1373.6L299.7,1350.9"/><path d="M195.7,1393.7L314.7,1343.6"/><path d="M213.2,1371.0L295.8,1374.7"/><path d="M185.8,1370.2L322.3,1348.3"/><path d="M208.7,1506.4L311.7,1428.0"/><path d="M180.4,1506.4L306.5,1434.0"/><path d="M195.5,1473.2L305.4,1421.9"/><path d="M203.8,1476.2L325.8,1406.9"/><path d="M191.5,1467.2L314.7,1443.0"/><path d="M205.8,1464.2L310.6,1295.3"/><path d="M181.6,1449.1L324.9,1286.3"/><path d="M210.7,1437.0L297.3,1304.4"/><path d="M202.7,1467.2L308.6,1418.9"/><path d="M176.4,1479.2L301.5,1388.8"/></g><g fill="#00a3d9" fill-opacity="0.15"><circle cx="212.2" cy="1403.7" r="3.3"/><circle cx="310.8" cy="1352.6" r="3.3"/><circle cx="180.4" cy="1406.7" r="3.3"/><circle cx="312.6" cy="1360.2" r="3.3"/><circle cx="176.5" cy="1403.5" r="3.3"/><circle cx="304.4" cy="1379.8" r="3.3"/><circle cx="202.3" cy="1412.7" r="3.3"/><circle cx="294.2" cy="1343.8" r="3.3"/><circle cx="200.6" cy="1442.7" r="3.3"/><circle cx="316.6" cy="1368.1" r="3.3"/><circle cx="195.2" cy="1371.0" r="3.3"/><circle cx="294.9" cy="1352.4" r="3.3"/><circle cx="173.8" cy="1376.2" r="3.3"/><circle cx="310.7" cy="1344.2" r="3.3"/><circle cx="194.8" cy="1420.1" r="3.3"/><circle cx="317.6" cy="1349.3" r="3.3"/><circle cx="192.2" cy="1410.9" r="3.3"/><circle cx="303.4" cy="1359.6" r="3.3"/><circle cx="202.9" cy="1441.6" r="3.3"/><circle cx="304.9" cy="1364.1" r="3.3"/><circle cx="175.5" cy="1371.3" r="3.3"/><circle cx="322.5" cy="1341.5" r="3.3"/><circle cx="189.1" cy="1413.7" r="3.3"/><circle cx="330.0" cy="1341.5" r="3.3"/><circle cx="181.5" cy="1368.8" r="3.3"/><circle cx="328.1" cy="1355.0" r="3.3"/><circle cx="189.6" cy="1448.0" r="3.3"/><circle cx="295.4" cy="1355.5" r="3.3"/><circle cx="184.1" cy="1402.8" r="3.3"/><circle cx="296.0" cy="1379.2" r="3.3"/><circle cx="205.1" cy="1405.3" r="3.3"/><circle cx="297.2" cy="1322.5" r="3.3"/><circle cx="175.1" cy="1368.6" r="3.3"/><circle cx="323.7" cy="1347.0" r="3.3"/><circle cx="191.7" cy="1384.5" r="3.3"/><circle cx="300.0" cy="1337.7" r="3.3"/><circle cx="200.2" cy="1370.0" r="3.3"/><circle cx="297.1" cy="1363.3" r="3.3"/><circle cx="184.1" cy="1385.9" r="3.3"/><circle cx="330.5" cy="1351.2" r="3.3"/><circle cx="210.5" cy="1376.4" r="3.3"/><circle cx="300.8" cy="1368.5" r="3.3"/><circle cx="200.1" cy="1413.0" r="3.3"/><circle cx="296.5" cy="1340.1" r="3.3"/><circle cx="183.6" cy="1388.3" r="3.3"/><circle cx="322.7" cy="1357.6" r="3.3"/><circle cx="175.7" cy="1379.8" r="3.3"/><circle cx="296.1" cy="1343.9" r="3.3"/><circle cx="198.4" cy="1387.0" r="3.3"/><circle cx="307.1" cy="1362.8" r="3.3"/><circle cx="193.3" cy="1438.3" r="3.3"/><circle cx="315.0" cy="1351.0" r="3.3"/><circle cx="179.1" cy="1380.6" r="3.3"/><circle cx="328.0" cy="1363.7" r="3.3"/><circle cx="180.7" cy="1377.3" r="3.3"/><circle cx="321.4" cy="1366.8" r="3.3"/><circle cx="213.4" cy="1386.1" r="3.3"/><circle cx="327.0" cy="1360.6" r="3.3"/><circle cx="177.0" cy="1392.4" r="3.3"/><circle cx="294.1" cy="1367.7" r="3.3"/><circle cx="202.8" cy="1389.1" r="3.3"/><circle cx="302.6" cy="1359.8" r="3.3"/><circle cx="185.1" cy="1385.7" r="3.3"/><circle cx="299.4" cy="1376.2" r="3.3"/><circle cx="182.3" cy="1370.3" r="3.3"/><circle cx="314.4" cy="1360.8" r="3.3"/><circle cx="184.5" cy="1392.2" r="3.3"/><circle cx="328.4" cy="1375.3" r="3.3"/><circle cx="184.1" cy="1369.8" r="3.3"/><circle cx="310.0" cy="1351.8" r="3.3"/><circle cx="188.4" cy="1385.0" r="3.3"/><circle cx="314.9" cy="1352.7" r="3.3"/><circle cx="210.8" cy="1386.9" r="3.3"/><circle cx="330.8" cy="1345.4" r="3.3"/><circle cx="197.6" cy="1392.8" r="3.3"/><circle cx="298.1" cy="1378.2" r="3.3"/><circle cx="211.6" cy="1373.6" r="3.3"/><circle cx="319.9" cy="1354.4" r="3.3"/><circle cx="199.9" cy="1374.1" r="3.3"/><circle cx="311.4" cy="1356.0" r="3.3"/><circle cx="215.5" cy="1371.4" r="3.3"/><circle cx="295.5" cy="1369.0" r="3.3"/><circle cx="211.2" cy="1413.6" r="3.3"/><circle cx="321.3" cy="1367.5" r="3.3"/><circle cx="211.8" cy="1383.0" r="3.3"/><circle cx="306.3" cy="1383.9" r="3.3"/><circle cx="210.0" cy="1392.9" r="3.3"/><circle cx="308.9" cy="1389.6" r="3.3"/><circle cx="197.1" cy="1382.8" r="3.3"/><circle cx="317.0" cy="1387.7" r="3.3"/><circle cx="198.7" cy="1396.6" r="3.3"/><circle cx="295.7" cy="1343.4" r="3.3"/><circle cx="210.3" cy="1426.9" r="3.3"/><circle cx="321.0" cy="1401.1" r="3.3"/><circle cx="197.5" cy="1404.3" r="3.3"/><circle cx="309.8" cy="1341.7" r="3.3"/><circle cx="204.8" cy="1374.7" r="3.3"/><circle cx="293.8" cy="1361.0" r="3.3"/><circle cx="182.4" cy="1394.9" r="3.3"/><circle cx="319.8" cy="1368.8" r="3.3"/><circle cx="212.1" cy="1408.2" r="3.3"/><circle cx="302.6" cy="1358.9" r="3.3"/><circle cx="201.7" cy="1392.7" r="3.3"/><circle cx="300.5" cy="1356.4" r="3.3"/><circle cx="200.9" cy="1398.7" r="3.3"/><circle cx="309.8" cy="1327.2" r="3.3"/><circle cx="201.1" cy="1388.3" r="3.3"/><circle cx="300.3" cy="1366.0" r="3.3"/><circle cx="211.8" cy="1415.8" r="3.3"/><circle cx="326.9" cy="1347.8" r="3.3"/><circle cx="186.1" cy="1396.9" r="3.3"/><circle cx="297.9" cy="1343.6" r="3.3"/><circle cx="209.0" cy="1423.4" r="3.3"/><circle cx="320.3" cy="1360.4" r="3.3"/><circle cx="179.8" cy="1390.4" r="3.3"/><circle cx="310.2" cy="1361.2" r="3.3"/><circle cx="190.3" cy="1371.4" r="3.3"/><circle cx="317.0" cy="1343.7" r="3.3"/><circle cx="208.6" cy="1393.5" r="3.3"/><circle cx="330.9" cy="1357.0" r="3.3"/><circle cx="173.9" cy="1379.2" r="3.3"/><circle cx="326.6" cy="1353.9" r="3.3"/><circle cx="197.0" cy="1412.2" r="3.3"/><circle cx="304.7" cy="1353.2" r="3.3"/><circle cx="178.3" cy="1369.7" r="3.3"/><circle cx="310.3" cy="1357.7" r="3.3"/><circle cx="182.7" cy="1422.1" r="3.3"/><circle cx="298.1" cy="1356.2" r="3.3"/><circle cx="191.7" cy="1407.3" r="3.3"/><circle cx="317.2" cy="1352.5" r="3.3"/><circle cx="213.7" cy="1397.8" r="3.3"/><circle cx="319.3" cy="1382.5" r="3.3"/><circle cx="180.2" cy="1378.6" r="3.3"/><circle cx="293.0" cy="1338.2" r="3.3"/><circle cx="180.2" cy="1413.4" r="3.3"/><circle cx="303.2" cy="1355.4" r="3.3"/><circle cx="194.9" cy="1393.6" r="3.3"/><circle cx="316.6" cy="1336.8" r="3.3"/><circle cx="206.6" cy="1369.4" r="3.3"/><circle cx="327.9" cy="1370.9" r="3.3"/><circle cx="203.6" cy="1425.7" r="3.3"/><circle cx="297.7" cy="1341.7" r="3.3"/><circle cx="211.6" cy="1407.1" r="3.3"/><circle cx="307.3" cy="1352.6" r="3.3"/><circle cx="206.8" cy="1422.3" r="3.3"/><circle cx="329.4" cy="1375.0" r="3.3"/><circle cx="181.3" cy="1409.2" r="3.3"/><circle cx="320.8" cy="1354.1" r="3.3"/><circle cx="203.4" cy="1385.5" r="3.3"/><circle cx="300.9" cy="1377.8" r="3.3"/><circle cx="214.5" cy="1434.0" r="3.3"/><circle cx="313.5" cy="1389.2" r="3.3"/><circle cx="211.6" cy="1374.7" r="3.3"/><circle cx="326.0" cy="1369.1" r="3.3"/><circle cx="191.5" cy="1375.3" r="3.3"/><circle cx="314.1" cy="1349.8" r="3.3"/><circle cx="173.7" cy="1372.1" r="3.3"/><circle cx="324.2" cy="1373.6" r="3.3"/><circle cx="179.9" cy="1416.0" r="3.3"/><circle cx="305.7" cy="1348.8" r="3.3"/><circle cx="178.9" cy="1372.0" r="3.3"/><circle cx="312.7" cy="1363.6" r="3.3"/><circle cx="202.1" cy="1377.4" r="3.3"/><circle cx="329.5" cy="1386.3" r="3.3"/><circle cx="176.2" cy="1438.9" r="3.3"/><circle cx="301.2" cy="1361.1" r="3.3"/><circle cx="203.8" cy="1391.9" r="3.3"/><circle cx="317.5" cy="1359.6" r="3.3"/><circle cx="196.6" cy="1423.5" r="3.3"/><circle cx="304.8" cy="1365.6" r="3.3"/><circle cx="211.2" cy="1409.3" r="3.3"/><circle cx="300.7" cy="1338.1" r="3.3"/><circle cx="195.0" cy="1413.3" r="3.3"/><circle cx="314.9" cy="1394.4" r="3.3"/><circle cx="194.1" cy="1379.2" r="3.3"/><circle cx="316.2" cy="1336.6" r="3.3"/><circle cx="194.7" cy="1443.6" r="3.3"/><circle cx="308.2" cy="1356.1" r="3.3"/><circle cx="193.6" cy="1380.0" r="3.3"/><circle cx="319.5" cy="1375.8" r="3.3"/><circle cx="190.3" cy="1401.2" r="3.3"/><circle cx="329.9" cy="1350.3" r="3.3"/><circle cx="192.8" cy="1388.6" r="3.3"/><circle cx="297.6" cy="1362.9" r="3.3"/><circle cx="211.2" cy="1417.0" r="3.3"/><circle cx="311.2" cy="1348.2" r="3.3"/><circle cx="199.1" cy="1376.0" r="3.3"/><circle cx="328.7" cy="1345.7" r="3.3"/><circle cx="173.5" cy="1402.8" r="3.3"/><circle cx="300.2" cy="1338.1" r="3.3"/><circle cx="186.3" cy="1374.6" r="3.3"/><circle cx="306.5" cy="1330.7" r="3.3"/><circle cx="203.9" cy="1378.2" r="3.3"/><circle cx="297.4" cy="1360.9" r="3.3"/><circle cx="181.0" cy="1390.2" r="3.3"/><circle cx="313.3" cy="1357.9" r="3.3"/><circle cx="190.3" cy="1394.2" r="3.3"/><circle cx="313.2" cy="1351.5" r="3.3"/><circle cx="199.6" cy="1378.8" r="3.3"/><circle cx="317.5" cy="1346.5" r="3.3"/><circle cx="198.8" cy="1423.8" r="3.3"/><circle cx="326.0" cy="1367.0" r="3.3"/><circle cx="207.4" cy="1373.4" r="3.3"/><circle cx="327.8" cy="1328.5" r="3.3"/><circle cx="212.2" cy="1378.4" r="3.3"/><circle cx="301.1" cy="1342.7" r="3.3"/><circle cx="178.3" cy="1428.8" r="3.3"/><circle cx="301.9" cy="1362.1" r="3.3"/><circle cx="176.7" cy="1371.6" r="3.3"/><circle cx="325.1" cy="1367.4" r="3.3"/><circle cx="177.9" cy="1413.3" r="3.3"/><circle cx="308.3" cy="1346.3" r="3.3"/><circle cx="181.1" cy="1370.4" r="3.3"/><circle cx="319.2" cy="1357.6" r="3.3"/><circle cx="177.5" cy="1432.9" r="3.3"/><circle cx="312.3" cy="1384.8" r="3.3"/><circle cx="202.0" cy="1370.0" r="3.3"/><circle cx="300.0" cy="1373.9" r="3.3"/><circle cx="174.1" cy="1380.7" r="3.3"/><circle cx="314.1" cy="1352.7" r="3.3"/><circle cx="178.8" cy="1405.7" r="3.3"/><circle cx="299.8" cy="1360.9" r="3.3"/><circle cx="215.1" cy="1384.1" r="3.3"/><circle cx="328.7" cy="1326.5" r="3.3"/><circle cx="213.4" cy="1376.8" r="3.3"/><circle cx="310.6" cy="1352.2" r="3.3"/><circle cx="192.6" cy="1370.7" r="3.3"/><circle cx="312.7" cy="1369.2" r="3.3"/><circle cx="173.1" cy="1403.8" r="3.3"/><circle cx="319.9" cy="1349.4" r="3.3"/><circle cx="192.0" cy="1378.5" r="3.3"/><circle cx="321.4" cy="1364.3" r="3.3"/><circle cx="179.6" cy="1384.1" r="3.3"/><circle cx="312.6" cy="1350.4" r="3.3"/><circle cx="207.0" cy="1429.2" r="3.3"/><circle cx="320.1" cy="1358.5" r="3.3"/><circle cx="189.9" cy="1394.4" r="3.3"/><circle cx="316.0" cy="1375.2" r="3.3"/><circle cx="207.1" cy="1450.7" r="3.3"/><circle cx="302.7" cy="1365.6" r="3.3"/><circle cx="206.0" cy="1408.9" r="3.3"/><circle cx="324.4" cy="1373.6" r="3.3"/><circle cx="210.3" cy="1419.4" r="3.3"/><circle cx="319.7" cy="1341.2" r="3.3"/><circle cx="189.9" cy="1373.6" r="3.3"/><circle cx="320.8" cy="1382.7" r="3.3"/><circle cx="192.7" cy="1392.2" r="3.3"/><circle cx="293.0" cy="1351.0" r="3.3"/><circle cx="199.3" cy="1393.7" r="3.3"/><circle cx="301.7" cy="1339.2" r="3.3"/><circle cx="187.0" cy="1408.6" r="3.3"/><circle cx="318.3" cy="1367.5" r="3.3"/><circle cx="189.3" cy="1400.6" r="3.3"/><circle cx="331.6" cy="1366.9" r="3.3"/><circle cx="205.3" cy="1396.5" r="3.3"/><circle cx="330.8" cy="1377.6" r="3.3"/><circle cx="204.3" cy="1407.9" r="3.3"/><circle cx="302.6" cy="1356.0" r="3.3"/><circle cx="180.9" cy="1375.9" r="3.3"/><circle cx="307.3" cy="1352.4" r="3.3"/><circle cx="211.4" cy="1386.2" r="3.3"/><circle cx="314.1" cy="1349.5" r="3.3"/><circle cx="196.9" cy="1443.8" r="3.3"/><circle cx="331.4" cy="1365.6" r="3.3"/><circle cx="175.8" cy="1402.4" r="3.3"/><circle cx="315.9" cy="1381.2" r="3.3"/><circle cx="212.5" cy="1368.8" r="3.3"/><circle cx="298.8" cy="1359.5" r="3.3"/><circle cx="193.8" cy="1385.6" r="3.3"/><circle cx="316.4" cy="1354.8" r="3.3"/><circle cx="190.6" cy="1433.4" r="3.3"/><circle cx="313.1" cy="1348.2" r="3.3"/><circle cx="184.8" cy="1390.8" r="3.3"/><circle cx="318.1" cy="1366.1" r="3.3"/><circle cx="203.3" cy="1390.2" r="3.3"/><circle cx="304.1" cy="1362.1" r="3.3"/><circle cx="174.3" cy="1389.9" r="3.3"/><circle cx="298.7" cy="1356.0" r="3.3"/><circle cx="211.1" cy="1369.1" r="3.3"/><circle cx="321.8" cy="1370.8" r="3.3"/><circle cx="213.1" cy="1450.7" r="3.3"/><circle cx="295.5" cy="1349.3" r="3.3"/><circle cx="193.0" cy="1393.7" r="3.3"/><circle cx="330.6" cy="1367.2" r="3.3"/><circle cx="212.8" cy="1369.7" r="3.3"/><circle cx="320.8" cy="1334.8" r="3.3"/><circle cx="207.6" cy="1447.1" r="3.3"/><circle cx="316.1" cy="1355.0" r="3.3"/><circle cx="192.1" cy="1398.6" r="3.3"/><circle cx="300.5" cy="1343.1" r="3.3"/><circle cx="177.8" cy="1401.9" r="3.3"/><circle cx="309.9" cy="1352.1" r="3.3"/><circle cx="183.8" cy="1384.0" r="3.3"/><circle cx="315.3" cy="1372.0" r="3.3"/><circle cx="195.3" cy="1412.2" r="3.3"/><circle cx="331.5" cy="1346.1" r="3.3"/><circle cx="182.8" cy="1413.3" r="3.3"/><circle cx="297.0" cy="1367.7" r="3.3"/><circle cx="199.4" cy="1407.9" r="3.3"/><circle cx="306.6" cy="1377.0" r="3.3"/><circle cx="196.8" cy="1374.2" r="3.3"/><circle cx="315.7" cy="1330.7" r="3.3"/><circle cx="180.7" cy="1400.7" r="3.3"/><circle cx="302.3" cy="1378.6" r="3.3"/><circle cx="210.3" cy="1432.1" r="3.3"/><circle cx="294.1" cy="1366.7" r="3.3"/><circle cx="190.8" cy="1389.6" r="3.3"/><circle cx="316.9" cy="1352.2" r="3.3"/><circle cx="175.6" cy="1397.2" r="3.3"/><circle cx="296.0" cy="1345.7" r="3.3"/><circle cx="199.6" cy="1384.6" r="3.3"/><circle cx="307.2" cy="1374.9" r="3.3"/><circle cx="187.3" cy="1388.0" r="3.3"/><circle cx="321.6" cy="1355.3" r="3.3"/><circle cx="177.7" cy="1374.3" r="3.3"/><circle cx="324.2" cy="1360.6" r="3.3"/><circle cx="181.7" cy="1403.6" r="3.3"/><circle cx="309.2" cy="1378.3" r="3.3"/><circle cx="188.4" cy="1371.0" r="3.3"/><circle cx="318.1" cy="1325.2" r="3.3"/><circle cx="196.1" cy="1393.9" r="3.3"/><circle cx="321.7" cy="1358.5" r="3.3"/><circle cx="188.4" cy="1395.1" r="3.3"/><circle cx="296.4" cy="1365.9" r="3.3"/><circle cx="176.1" cy="1376.6" r="3.3"/><circle cx="314.6" cy="1360.1" r="3.3"/><circle cx="185.4" cy="1412.1" r="3.3"/><circle cx="322.8" cy="1357.4" r="3.3"/><circle cx="201.0" cy="1386.1" r="3.3"/><circle cx="295.8" cy="1351.4" r="3.3"/><circle cx="202.3" cy="1383.7" r="3.3"/><circle cx="303.6" cy="1331.7" r="3.3"/><circle cx="203.7" cy="1385.3" r="3.3"/><circle cx="306.9" cy="1344.5" r="3.3"/><circle cx="197.0" cy="1402.0" r="3.3"/><circle cx="328.4" cy="1341.3" r="3.3"/><circle cx="191.3" cy="1427.8" r="3.3"/><circle cx="323.9" cy="1374.9" r="3.3"/><circle cx="189.7" cy="1376.8" r="3.3"/><circle cx="329.1" cy="1342.1" r="3.3"/><circle cx="188.1" cy="1385.5" r="3.3"/><circle cx="306.9" cy="1364.1" r="3.3"/><circle cx="189.2" cy="1387.3" r="3.3"/><circle cx="300.2" cy="1344.4" r="3.3"/><circle cx="195.7" cy="1415.9" r="3.3"/><circle cx="325.2" cy="1371.5" r="3.3"/><circle cx="205.1" cy="1384.9" r="3.3"/><circle cx="327.0" cy="1360.4" r="3.3"/><circle cx="194.7" cy="1369.5" r="3.3"/><circle cx="313.8" cy="1351.2" r="3.3"/><circle cx="200.5" cy="1437.0" r="3.3"/><circle cx="324.0" cy="1380.2" r="3.3"/><circle cx="206.4" cy="1401.8" r="3.3"/><circle cx="295.9" cy="1350.5" r="3.3"/><circle cx="211.2" cy="1409.5" r="3.3"/><circle cx="295.9" cy="1346.4" r="3.3"/><circle cx="204.6" cy="1379.0" r="3.3"/><circle cx="317.9" cy="1362.5" r="3.3"/><circle cx="205.4" cy="1368.9" r="3.3"/><circle cx="312.9" cy="1343.1" r="3.3"/><circle cx="187.0" cy="1371.0" r="3.3"/><circle cx="330.4" cy="1371.0" r="3.3"/><circle cx="195.6" cy="1384.1" r="3.3"/><circle cx="320.7" cy="1373.2" r="3.3"/><circle cx="190.2" cy="1385.0" r="3.3"/><circle cx="324.8" cy="1391.4" r="3.3"/><circle cx="207.2" cy="1396.6" r="3.3"/><circle cx="325.1" cy="1385.5" r="3.3"/><circle cx="200.0" cy="1424.0" r="3.3"/><circle cx="313.0" cy="1387.5" r="3.3"/><circle cx="190.6" cy="1381.2" r="3.3"/><circle cx="309.0" cy="1384.4" r="3.3"/><circle cx="215.1" cy="1397.2" r="3.3"/><circle cx="307.2" cy="1336.7" r="3.3"/><circle cx="190.8" cy="1378.0" r="3.3"/><circle cx="304.0" cy="1346.1" r="3.3"/><circle cx="185.8" cy="1378.2" r="3.3"/><circle cx="297.1" cy="1356.7" r="3.3"/><circle cx="180.2" cy="1398.2" r="3.3"/><circle cx="295.0" cy="1380.6" r="3.3"/><circle cx="211.6" cy="1405.3" r="3.3"/><circle cx="294.0" cy="1353.4" r="3.3"/><circle cx="181.8" cy="1382.6" r="3.3"/><circle cx="301.8" cy="1349.6" r="3.3"/><circle cx="182.1" cy="1376.2" r="3.3"/><circle cx="299.8" cy="1376.9" r="3.3"/><circle cx="205.1" cy="1371.7" r="3.3"/><circle cx="304.8" cy="1345.1" r="3.3"/><circle cx="193.1" cy="1419.2" r="3.3"/><circle cx="302.8" cy="1369.5" r="3.3"/><circle cx="187.2" cy="1417.0" r="3.3"/><circle cx="313.9" cy="1383.8" r="3.3"/><circle cx="182.0" cy="1400.3" r="3.3"/><circle cx="294.5" cy="1363.3" r="3.3"/><circle cx="189.1" cy="1417.5" r="3.3"/><circle cx="313.2" cy="1369.9" r="3.3"/><circle cx="215.1" cy="1391.4" r="3.3"/><circle cx="318.2" cy="1358.5" r="3.3"/><circle cx="192.8" cy="1368.6" r="3.3"/><circle cx="307.1" cy="1352.1" r="3.3"/><circle cx="198.6" cy="1381.5" r="3.3"/><circle cx="298.7" cy="1380.7" r="3.3"/><circle cx="183.7" cy="1382.4" r="3.3"/><circle cx="326.5" cy="1344.2" r="3.3"/><circle cx="215.2" cy="1409.3" r="3.3"/><circle cx="303.0" cy="1361.7" r="3.3"/><circle cx="205.6" cy="1384.4" r="3.3"/><circle cx="292.7" cy="1358.4" r="3.3"/><circle cx="207.8" cy="1392.6" r="3.3"/><circle cx="295.8" cy="1385.8" r="3.3"/><circle cx="176.7" cy="1374.0" r="3.3"/><circle cx="311.3" cy="1329.5" r="3.3"/><circle cx="197.7" cy="1439.1" r="3.3"/><circle cx="326.0" cy="1355.0" r="3.3"/><circle cx="190.4" cy="1385.2" r="3.3"/><circle cx="328.4" cy="1329.4" r="3.3"/><circle cx="181.5" cy="1413.8" r="3.3"/><circle cx="313.8" cy="1343.5" r="3.3"/><circle cx="208.3" cy="1385.0" r="3.3"/><circle cx="304.7" cy="1358.0" r="3.3"/><circle cx="185.6" cy="1372.6" r="3.3"/><circle cx="310.8" cy="1349.0" r="3.3"/><circle cx="202.0" cy="1374.2" r="3.3"/><circle cx="296.7" cy="1370.2" r="3.3"/><circle cx="214.1" cy="1393.6" r="3.3"/><circle cx="325.0" cy="1346.3" r="3.3"/><circle cx="188.7" cy="1370.9" r="3.3"/><circle cx="320.3" cy="1356.9" r="3.3"/><circle cx="192.2" cy="1371.2" r="3.3"/><circle cx="293.0" cy="1333.9" r="3.3"/><circle cx="181.4" cy="1420.1" r="3.3"/><circle cx="316.6" cy="1362.2" r="3.3"/><circle cx="195.7" cy="1375.3" r="3.3"/><circle cx="304.2" cy="1340.0" r="3.3"/><circle cx="201.2" cy="1383.4" r="3.3"/><circle cx="302.6" cy="1342.4" r="3.3"/><circle cx="186.7" cy="1382.8" r="3.3"/><circle cx="329.5" cy="1331.1" r="3.3"/><circle cx="186.8" cy="1411.1" r="3.3"/><circle cx="324.8" cy="1369.7" r="3.3"/><circle cx="176.6" cy="1381.6" r="3.3"/><circle cx="319.0" cy="1351.2" r="3.3"/><circle cx="189.8" cy="1373.0" r="3.3"/><circle cx="325.2" cy="1365.0" r="3.3"/><circle cx="182.2" cy="1378.8" r="3.3"/><circle cx="298.7" cy="1359.6" r="3.3"/><circle cx="175.6" cy="1389.3" r="3.3"/><circle cx="328.5" cy="1345.3" r="3.3"/><circle cx="200.3" cy="1399.3" r="3.3"/><circle cx="322.5" cy="1349.6" r="3.3"/><circle cx="186.8" cy="1380.6" r="3.3"/><circle cx="308.7" cy="1370.5" r="3.3"/><circle cx="202.6" cy="1397.4" r="3.3"/><circle cx="330.9" cy="1356.4" r="3.3"/><circle cx="198.7" cy="1378.8" r="3.3"/><circle cx="293.3" cy="1378.9" r="3.3"/><circle cx="200.5" cy="1381.2" r="3.3"/><circle cx="296.7" cy="1343.0" r="3.3"/><circle cx="206.4" cy="1393.1" r="3.3"/><circle cx="324.8" cy="1343.9" r="3.3"/><circle cx="205.5" cy="1381.3" r="3.3"/><circle cx="327.8" cy="1362.2" r="3.3"/><circle cx="194.0" cy="1394.0" r="3.3"/><circle cx="298.1" cy="1362.1" r="3.3"/><circle cx="194.7" cy="1387.7" r="3.3"/><circle cx="320.5" cy="1403.4" r="3.3"/><circle cx="213.1" cy="1378.1" r="3.3"/><circle cx="317.1" cy="1364.9" r="3.3"/><circle cx="183.0" cy="1372.2" r="3.3"/><circle cx="315.1" cy="1348.5" r="3.3"/><circle cx="212.4" cy="1376.7" r="3.3"/><circle cx="306.7" cy="1369.2" r="3.3"/><circle cx="214.4" cy="1382.8" r="3.3"/><circle cx="297.9" cy="1354.3" r="3.3"/><circle cx="196.6" cy="1398.1" r="3.3"/><circle cx="314.5" cy="1369.6" r="3.3"/><circle cx="215.2" cy="1374.0" r="3.3"/><circle cx="324.5" cy="1319.6" r="3.3"/><circle cx="208.0" cy="1380.2" r="3.3"/><circle cx="303.9" cy="1360.9" r="3.3"/><circle cx="197.2" cy="1385.4" r="3.3"/><circle cx="325.0" cy="1363.8" r="3.3"/><circle cx="175.8" cy="1382.6" r="3.3"/><circle cx="293.8" cy="1337.3" r="3.3"/><circle cx="212.9" cy="1404.6" r="3.3"/><circle cx="318.3" cy="1315.4" r="3.3"/><circle cx="204.2" cy="1383.6" r="3.3"/><circle cx="307.5" cy="1333.6" r="3.3"/><circle cx="173.2" cy="1412.0" r="3.3"/><circle cx="300.4" cy="1375.8" r="3.3"/><circle cx="189.1" cy="1384.0" r="3.3"/><circle cx="314.8" cy="1354.6" r="3.3"/><circle cx="183.8" cy="1384.5" r="3.3"/><circle cx="314.8" cy="1338.9" r="3.3"/><circle cx="174.1" cy="1388.7" r="3.3"/><circle cx="318.8" cy="1336.6" r="3.3"/><circle cx="198.3" cy="1413.3" r="3.3"/><circle cx="310.9" cy="1327.4" r="3.3"/><circle cx="202.1" cy="1402.6" r="3.3"/><circle cx="322.2" cy="1346.6" r="3.3"/><circle cx="215.3" cy="1368.6" r="3.3"/><circle cx="325.3" cy="1373.3" r="3.3"/><circle cx="191.2" cy="1386.5" r="3.3"/><circle cx="314.7" cy="1369.9" r="3.3"/><circle cx="195.1" cy="1397.6" r="3.3"/><circle cx="309.5" cy="1369.2" r="3.3"/><circle cx="174.9" cy="1389.3" r="3.3"/><circle cx="320.9" cy="1365.1" r="3.3"/><circle cx="198.2" cy="1406.3" r="3.3"/><circle cx="321.9" cy="1374.6" r="3.3"/><circle cx="175.5" cy="1381.4" r="3.3"/><circle cx="297.5" cy="1335.5" r="3.3"/><circle cx="189.6" cy="1400.6" r="3.3"/><circle cx="294.6" cy="1352.1" r="3.3"/><circle cx="182.8" cy="1380.3" r="3.3"/><circle cx="304.5" cy="1374.6" r="3.3"/><circle cx="175.4" cy="1385.1" r="3.3"/><circle cx="328.1" cy="1349.2" r="3.3"/><circle cx="209.8" cy="1410.2" r="3.3"/><circle cx="309.0" cy="1364.5" r="3.3"/><circle cx="204.6" cy="1375.3" r="3.3"/><circle cx="314.7" cy="1366.2" r="3.3"/><circle cx="206.6" cy="1379.1" r="3.3"/><circle cx="297.4" cy="1360.0" r="3.3"/><circle cx="172.5" cy="1437.4" r="3.3"/><circle cx="302.1" cy="1372.1" r="3.3"/><circle cx="175.2" cy="1376.1" r="3.3"/><circle cx="327.5" cy="1341.7" r="3.3"/><circle cx="187.8" cy="1379.9" r="3.3"/><circle cx="315.4" cy="1370.9" r="3.3"/><circle cx="211.1" cy="1375.3" r="3.3"/><circle cx="304.6" cy="1354.2" r="3.3"/><circle cx="214.5" cy="1435.7" r="3.3"/><circle cx="311.0" cy="1362.2" r="3.3"/><circle cx="212.2" cy="1374.8" r="3.3"/><circle cx="327.6" cy="1342.1" r="3.3"/><circle cx="187.7" cy="1386.8" r="3.3"/><circle cx="311.0" cy="1327.4" r="3.3"/><circle cx="215.3" cy="1396.4" r="3.3"/><circle cx="300.5" cy="1328.3" r="3.3"/><circle cx="210.3" cy="1381.0" r="3.3"/><circle cx="294.6" cy="1363.9" r="3.3"/><circle cx="186.0" cy="1404.9" r="3.3"/><circle cx="327.7" cy="1342.7" r="3.3"/><circle cx="178.3" cy="1399.5" r="3.3"/><circle cx="319.7" cy="1377.0" r="3.3"/><circle cx="175.9" cy="1397.3" r="3.3"/><circle cx="301.3" cy="1364.7" r="3.3"/><circle cx="180.9" cy="1384.3" r="3.3"/><circle cx="299.7" cy="1332.4" r="3.3"/><circle cx="206.5" cy="1372.2" r="3.3"/><circle cx="307.1" cy="1331.0" r="3.3"/><circle cx="197.9" cy="1399.9" r="3.3"/><circle cx="301.5" cy="1387.1" r="3.3"/><circle cx="201.2" cy="1389.1" r="3.3"/><circle cx="303.4" cy="1321.6" r="3.3"/><circle cx="214.8" cy="1376.3" r="3.3"/><circle cx="309.8" cy="1360.9" r="3.3"/><circle cx="174.4" cy="1403.3" r="3.3"/><circle cx="316.0" cy="1362.2" r="3.3"/><circle cx="207.0" cy="1373.0" r="3.3"/><circle cx="296.0" cy="1343.0" r="3.3"/><circle cx="183.1" cy="1378.9" r="3.3"/><circle cx="303.5" cy="1329.1" r="3.3"/><circle cx="211.1" cy="1386.0" r="3.3"/><circle cx="331.1" cy="1359.7" r="3.3"/><circle cx="204.8" cy="1399.8" r="3.3"/><circle cx="307.6" cy="1354.5" r="3.3"/><circle cx="180.2" cy="1399.0" r="3.3"/><circle cx="314.3" cy="1366.4" r="3.3"/><circle cx="200.8" cy="1385.0" r="3.3"/><circle cx="323.1" cy="1368.6" r="3.3"/><circle cx="208.9" cy="1402.4" r="3.3"/><circle cx="319.3" cy="1360.6" r="3.3"/><circle cx="180.0" cy="1438.9" r="3.3"/><circle cx="323.0" cy="1368.1" r="3.3"/><circle cx="182.6" cy="1388.4" r="3.3"/><circle cx="309.8" cy="1337.7" r="3.3"/><circle cx="206.5" cy="1375.6" r="3.3"/><circle cx="301.8" cy="1383.7" r="3.3"/><circle cx="197.4" cy="1388.7" r="3.3"/><circle cx="312.1" cy="1356.1" r="3.3"/><circle cx="203.2" cy="1406.3" r="3.3"/><circle cx="314.9" cy="1354.2" r="3.3"/><circle cx="179.0" cy="1381.0" r="3.3"/><circle cx="293.3" cy="1363.4" r="3.3"/><circle cx="191.5" cy="1399.2" r="3.3"/><circle cx="302.9" cy="1357.8" r="3.3"/><circle cx="211.5" cy="1371.6" r="3.3"/><circle cx="314.8" cy="1360.9" r="3.3"/><circle cx="182.7" cy="1417.7" r="3.3"/><circle cx="298.3" cy="1368.1" r="3.3"/><circle cx="186.0" cy="1371.5" r="3.3"/><circle cx="316.8" cy="1350.4" r="3.3"/><circle cx="197.8" cy="1390.7" r="3.3"/><circle cx="296.1" cy="1359.2" r="3.3"/><circle cx="183.5" cy="1375.9" r="3.3"/><circle cx="298.8" cy="1364.4" r="3.3"/><circle cx="206.3" cy="1388.2" r="3.3"/><circle cx="295.0" cy="1385.5" r="3.3"/><circle cx="181.8" cy="1391.6" r="3.3"/><circle cx="330.5" cy="1349.0" r="3.3"/><circle cx="205.2" cy="1400.7" r="3.3"/><circle cx="331.1" cy="1353.4" r="3.3"/><circle cx="204.5" cy="1387.9" r="3.3"/><circle cx="294.1" cy="1342.7" r="3.3"/><circle cx="178.6" cy="1371.9" r="3.3"/><circle cx="307.9" cy="1320.8" r="3.3"/><circle cx="175.8" cy="1377.3" r="3.3"/><circle cx="293.9" cy="1339.2" r="3.3"/><circle cx="204.1" cy="1417.4" r="3.3"/><circle cx="301.6" cy="1361.0" r="3.3"/><circle cx="182.9" cy="1369.0" r="3.3"/><circle cx="310.6" cy="1333.9" r="3.3"/><circle cx="187.0" cy="1393.4" r="3.3"/><circle cx="330.9" cy="1363.9" r="3.3"/><circle cx="189.8" cy="1374.6" r="3.3"/><circle cx="317.9" cy="1358.2" r="3.3"/><circle cx="202.4" cy="1393.0" r="3.3"/><circle cx="326.3" cy="1352.1" r="3.3"/><circle cx="192.4" cy="1419.1" r="3.3"/><circle cx="307.9" cy="1378.9" r="3.3"/><circle cx="206.1" cy="1383.9" r="3.3"/><circle cx="301.0" cy="1369.7" r="3.3"/><circle cx="196.1" cy="1378.9" r="3.3"/><circle cx="299.0" cy="1347.3" r="3.3"/><circle cx="192.6" cy="1374.1" r="3.3"/><circle cx="304.6" cy="1344.3" r="3.3"/><circle cx="201.7" cy="1454.9" r="3.3"/><circle cx="326.2" cy="1348.1" r="3.3"/><circle cx="175.6" cy="1376.3" r="3.3"/><circle cx="319.6" cy="1340.1" r="3.3"/><circle cx="173.3" cy="1383.4" r="3.3"/><circle cx="299.7" cy="1346.4" r="3.3"/><circle cx="212.2" cy="1370.5" r="3.3"/><circle cx="320.5" cy="1338.5" r="3.3"/><circle cx="179.1" cy="1371.5" r="3.3"/><circle cx="329.1" cy="1339.6" r="3.3"/><circle cx="203.6" cy="1399.6" r="3.3"/><circle cx="328.0" cy="1336.8" r="3.3"/><circle cx="189.0" cy="1393.6" r="3.3"/><circle cx="295.8" cy="1355.7" r="3.3"/><circle cx="205.6" cy="1387.3" r="3.3"/><circle cx="312.9" cy="1366.5" r="3.3"/><circle cx="182.7" cy="1395.5" r="3.3"/><circle cx="294.2" cy="1352.2" r="3.3"/><circle cx="173.9" cy="1391.0" r="3.3"/><circle cx="304.8" cy="1339.4" r="3.3"/><circle cx="178.3" cy="1400.5" r="3.3"/><circle cx="320.2" cy="1349.0" r="3.3"/><circle cx="201.1" cy="1371.3" r="3.3"/><circle cx="298.3" cy="1328.7" r="3.3"/><circle cx="203.1" cy="1374.9" r="3.3"/><circle cx="308.4" cy="1342.6" r="3.3"/><circle cx="182.2" cy="1412.2" r="3.3"/><circle cx="304.0" cy="1338.4" r="3.3"/><circle cx="174.2" cy="1379.6" r="3.3"/><circle cx="293.6" cy="1346.5" r="3.3"/><circle cx="207.3" cy="1393.8" r="3.3"/><circle cx="330.6" cy="1372.9" r="3.3"/><circle cx="212.0" cy="1381.1" r="3.3"/><circle cx="301.0" cy="1332.9" r="3.3"/><circle cx="213.6" cy="1384.3" r="3.3"/><circle cx="326.5" cy="1378.8" r="3.3"/><circle cx="176.4" cy="1372.2" r="3.3"/><circle cx="309.3" cy="1332.0" r="3.3"/><circle cx="189.0" cy="1376.2" r="3.3"/><circle cx="305.4" cy="1351.8" r="3.3"/><circle cx="179.3" cy="1391.7" r="3.3"/><circle cx="308.3" cy="1357.1" r="3.3"/><circle cx="201.1" cy="1385.5" r="3.3"/><circle cx="302.0" cy="1355.0" r="3.3"/><circle cx="190.7" cy="1390.4" r="3.3"/><circle cx="298.5" cy="1348.9" r="3.3"/><circle cx="196.3" cy="1407.3" r="3.3"/><circle cx="319.9" cy="1371.7" r="3.3"/><circle cx="188.2" cy="1396.8" r="3.3"/><circle cx="295.1" cy="1355.6" r="3.3"/><circle cx="193.8" cy="1376.3" r="3.3"/><circle cx="315.4" cy="1352.4" r="3.3"/><circle cx="183.4" cy="1393.5" r="3.3"/><circle cx="293.5" cy="1354.7" r="3.3"/><circle cx="196.8" cy="1403.2" r="3.3"/><circle cx="302.8" cy="1330.5" r="3.3"/><circle cx="192.7" cy="1377.4" r="3.3"/><circle cx="316.6" cy="1364.7" r="3.3"/><circle cx="197.3" cy="1394.6" r="3.3"/><circle cx="329.4" cy="1362.0" r="3.3"/><circle cx="199.2" cy="1373.7" r="3.3"/><circle cx="308.6" cy="1377.8" r="3.3"/><circle cx="208.2" cy="1388.4" r="3.3"/><circle cx="326.9" cy="1350.3" r="3.3"/><circle cx="174.1" cy="1415.0" r="3.3"/><circle cx="297.9" cy="1336.0" r="3.3"/><circle cx="188.0" cy="1393.1" r="3.3"/><circle cx="330.7" cy="1358.1" r="3.3"/><circle cx="182.3" cy="1379.4" r="3.3"/><circle cx="319.1" cy="1347.2" r="3.3"/><circle cx="195.9" cy="1368.4" r="3.3"/><circle cx="308.0" cy="1353.8" r="3.3"/><circle cx="200.5" cy="1370.5" r="3.3"/><circle cx="314.0" cy="1335.8" r="3.3"/><circle cx="208.2" cy="1394.6" r="3.3"/><circle cx="330.4" cy="1372.4" r="3.3"/><circle cx="210.6" cy="1381.7" r="3.3"/><circle cx="304.8" cy="1343.1" r="3.3"/><circle cx="202.0" cy="1377.8" r="3.3"/><circle cx="330.2" cy="1380.1" r="3.3"/><circle cx="199.2" cy="1376.0" r="3.3"/><circle cx="311.7" cy="1364.0" r="3.3"/><circle cx="184.8" cy="1393.9" r="3.3"/><circle cx="321.8" cy="1363.7" r="3.3"/><circle cx="183.2" cy="1389.1" r="3.3"/><circle cx="305.3" cy="1359.5" r="3.3"/><circle cx="177.9" cy="1383.5" r="3.3"/><circle cx="295.1" cy="1338.7" r="3.3"/><circle cx="202.8" cy="1380.5" r="3.3"/><circle cx="297.0" cy="1352.8" r="3.3"/><circle cx="193.2" cy="1415.8" r="3.3"/><circle cx="298.9" cy="1351.8" r="3.3"/><circle cx="174.8" cy="1407.3" r="3.3"/><circle cx="302.5" cy="1383.6" r="3.3"/><circle cx="189.4" cy="1419.9" r="3.3"/><circle cx="320.5" cy="1362.0" r="3.3"/><circle cx="186.6" cy="1368.8" r="3.3"/><circle cx="305.6" cy="1328.7" r="3.3"/><circle cx="208.1" cy="1371.5" r="3.3"/><circle cx="314.7" cy="1386.1" r="3.3"/><circle cx="199.3" cy="1408.1" r="3.3"/><circle cx="325.0" cy="1347.1" r="3.3"/><circle cx="188.7" cy="1373.0" r="3.3"/><circle cx="318.7" cy="1363.0" r="3.3"/><circle cx="173.1" cy="1370.5" r="3.3"/><circle cx="315.4" cy="1344.4" r="3.3"/><circle cx="178.3" cy="1439.9" r="3.3"/><circle cx="319.4" cy="1378.7" r="3.3"/><circle cx="189.6" cy="1404.0" r="3.3"/><circle cx="329.0" cy="1347.6" r="3.3"/><circle cx="203.2" cy="1377.4" r="3.3"/><circle cx="297.2" cy="1355.9" r="3.3"/><circle cx="203.9" cy="1391.2" r="3.3"/><circle cx="331.4" cy="1353.7" r="3.3"/><circle cx="173.6" cy="1387.1" r="3.3"/><circle cx="313.8" cy="1346.8" r="3.3"/><circle cx="185.8" cy="1396.1" r="3.3"/><circle cx="323.8" cy="1356.1" r="3.3"/><circle cx="189.3" cy="1380.8" r="3.3"/><circle cx="316.7" cy="1367.3" r="3.3"/><circle cx="189.2" cy="1376.1" r="3.3"/><circle cx="319.7" cy="1401.0" r="3.3"/><circle cx="178.8" cy="1418.1" r="3.3"/><circle cx="299.4" cy="1368.8" r="3.3"/><circle cx="183.3" cy="1421.0" r="3.3"/><circle cx="311.6" cy="1337.2" r="3.3"/><circle cx="173.3" cy="1386.9" r="3.3"/><circle cx="314.7" cy="1346.8" r="3.3"/><circle cx="184.3" cy="1393.4" r="3.3"/><circle cx="301.5" cy="1339.6" r="3.3"/><circle cx="183.7" cy="1395.7" r="3.3"/><circle cx="294.6" cy="1356.0" r="3.3"/><circle cx="185.8" cy="1424.5" r="3.3"/><circle cx="295.7" cy="1347.7" r="3.3"/><circle cx="215.4" cy="1382.0" r="3.3"/><circle cx="300.5" cy="1339.1" r="3.3"/><circle cx="190.3" cy="1390.7" r="3.3"/><circle cx="324.1" cy="1371.0" r="3.3"/><circle cx="196.2" cy="1376.2" r="3.3"/><circle cx="318.2" cy="1352.0" r="3.3"/><circle cx="212.9" cy="1385.0" r="3.3"/><circle cx="326.3" cy="1365.6" r="3.3"/><circle cx="208.3" cy="1399.6" r="3.3"/><circle cx="320.9" cy="1358.9" r="3.3"/><circle cx="179.8" cy="1371.3" r="3.3"/><circle cx="297.2" cy="1351.5" r="3.3"/><circle cx="204.9" cy="1392.6" r="3.3"/><circle cx="304.7" cy="1350.5" r="3.3"/><circle cx="181.5" cy="1372.5" r="3.3"/><circle cx="330.0" cy="1355.2" r="3.3"/><circle cx="207.3" cy="1403.6" r="3.3"/><circle cx="323.5" cy="1357.3" r="3.3"/><circle cx="207.0" cy="1371.0" r="3.3"/><circle cx="324.9" cy="1371.2" r="3.3"/><circle cx="176.8" cy="1377.7" r="3.3"/><circle cx="329.7" cy="1402.9" r="3.3"/><circle cx="183.3" cy="1405.3" r="3.3"/><circle cx="328.1" cy="1344.3" r="3.3"/><circle cx="182.3" cy="1405.8" r="3.3"/><circle cx="307.7" cy="1355.8" r="3.3"/><circle cx="207.4" cy="1397.1" r="3.3"/><circle cx="306.8" cy="1340.5" r="3.3"/><circle cx="184.5" cy="1385.8" r="3.3"/><circle cx="327.9" cy="1368.2" r="3.3"/><circle cx="186.9" cy="1373.9" r="3.3"/><circle cx="321.5" cy="1348.6" r="3.3"/><circle cx="196.0" cy="1379.8" r="3.3"/><circle cx="319.1" cy="1329.8" r="3.3"/><circle cx="178.6" cy="1374.3" r="3.3"/><circle cx="306.3" cy="1348.3" r="3.3"/><circle cx="194.1" cy="1371.9" r="3.3"/><circle cx="308.3" cy="1354.0" r="3.3"/><circle cx="213.4" cy="1383.9" r="3.3"/><circle cx="300.6" cy="1338.2" r="3.3"/><circle cx="204.9" cy="1386.9" r="3.3"/><circle cx="296.8" cy="1366.5" r="3.3"/><circle cx="213.9" cy="1398.9" r="3.3"/><circle cx="301.2" cy="1359.5" r="3.3"/><circle cx="180.1" cy="1406.2" r="3.3"/><circle cx="303.3" cy="1345.1" r="3.3"/><circle cx="186.4" cy="1399.3" r="3.3"/><circle cx="299.8" cy="1393.7" r="3.3"/><circle cx="178.9" cy="1422.8" r="3.3"/><circle cx="317.4" cy="1322.6" r="3.3"/><circle cx="181.6" cy="1398.3" r="3.3"/><circle cx="316.6" cy="1341.9" r="3.3"/><circle cx="199.5" cy="1411.7" r="3.3"/><circle cx="312.3" cy="1380.5" r="3.3"/><circle cx="208.5" cy="1381.3" r="3.3"/><circle cx="319.5" cy="1359.3" r="3.3"/><circle cx="190.5" cy="1409.3" r="3.3"/><circle cx="307.6" cy="1352.4" r="3.3"/><circle cx="197.1" cy="1373.2" r="3.3"/><circle cx="312.7" cy="1333.2" r="3.3"/><circle cx="191.7" cy="1408.1" r="3.3"/><circle cx="315.7" cy="1354.7" r="3.3"/><circle cx="179.0" cy="1423.8" r="3.3"/><circle cx="310.9" cy="1382.3" r="3.3"/><circle cx="186.0" cy="1415.6" r="3.3"/><circle cx="321.3" cy="1361.4" r="3.3"/><circle cx="209.8" cy="1397.6" r="3.3"/><circle cx="297.5" cy="1359.1" r="3.3"/><circle cx="182.6" cy="1401.9" r="3.3"/><circle cx="325.4" cy="1359.7" r="3.3"/><circle cx="208.2" cy="1408.6" r="3.3"/><circle cx="323.7" cy="1390.2" r="3.3"/><circle cx="209.9" cy="1376.2" r="3.3"/><circle cx="320.4" cy="1359.2" r="3.3"/><circle cx="192.0" cy="1368.5" r="3.3"/><circle cx="313.5" cy="1325.0" r="3.3"/><circle cx="184.5" cy="1381.0" r="3.3"/><circle cx="317.7" cy="1364.0" r="3.3"/><circle cx="206.3" cy="1401.2" r="3.3"/><circle cx="311.7" cy="1349.2" r="3.3"/><circle cx="209.3" cy="1371.0" r="3.3"/><circle cx="322.7" cy="1325.6" r="3.3"/><circle cx="206.8" cy="1428.2" r="3.3"/><circle cx="298.5" cy="1372.5" r="3.3"/><circle cx="174.1" cy="1377.1" r="3.3"/><circle cx="306.1" cy="1350.0" r="3.3"/><circle cx="177.5" cy="1404.5" r="3.3"/><circle cx="299.7" cy="1382.0" r="3.3"/><circle cx="199.0" cy="1411.3" r="3.3"/><circle cx="327.8" cy="1339.3" r="3.3"/><circle cx="181.4" cy="1445.6" r="3.3"/><circle cx="317.1" cy="1342.7" r="3.3"/><circle cx="181.0" cy="1401.6" r="3.3"/><circle cx="318.7" cy="1376.9" r="3.3"/><circle cx="187.1" cy="1372.9" r="3.3"/><circle cx="304.9" cy="1353.8" r="3.3"/><circle cx="198.4" cy="1384.3" r="3.3"/><circle cx="319.7" cy="1366.0" r="3.3"/><circle cx="202.3" cy="1374.7" r="3.3"/><circle cx="310.8" cy="1347.5" r="3.3"/><circle cx="213.0" cy="1378.2" r="3.3"/><circle cx="316.4" cy="1349.8" r="3.3"/><circle cx="215.3" cy="1380.2" r="3.3"/><circle cx="319.6" cy="1347.5" r="3.3"/><circle cx="185.8" cy="1370.6" r="3.3"/><circle cx="308.5" cy="1370.1" r="3.3"/><circle cx="190.8" cy="1393.1" r="3.3"/><circle cx="324.6" cy="1339.2" r="3.3"/><circle cx="194.3" cy="1395.2" r="3.3"/><circle cx="329.3" cy="1348.0" r="3.3"/><circle cx="182.6" cy="1394.0" r="3.3"/><circle cx="315.2" cy="1336.7" r="3.3"/><circle cx="184.8" cy="1381.1" r="3.3"/><circle cx="325.9" cy="1323.8" r="3.3"/><circle cx="212.6" cy="1382.5" r="3.3"/><circle cx="307.7" cy="1372.2" r="3.3"/><circle cx="191.8" cy="1369.9" r="3.3"/><circle cx="295.1" cy="1376.7" r="3.3"/><circle cx="191.5" cy="1388.8" r="3.3"/><circle cx="329.8" cy="1350.5" r="3.3"/><circle cx="201.4" cy="1380.2" r="3.3"/><circle cx="302.1" cy="1331.7" r="3.3"/><circle cx="211.0" cy="1381.4" r="3.3"/><circle cx="302.4" cy="1351.5" r="3.3"/><circle cx="207.8" cy="1391.5" r="3.3"/><circle cx="325.8" cy="1350.2" r="3.3"/><circle cx="176.8" cy="1398.9" r="3.3"/><circle cx="327.6" cy="1369.2" r="3.3"/><circle cx="188.6" cy="1391.7" r="3.3"/><circle cx="320.8" cy="1349.1" r="3.3"/><circle cx="211.1" cy="1381.2" r="3.3"/><circle cx="329.6" cy="1369.1" r="3.3"/><circle cx="192.7" cy="1408.8" r="3.3"/><circle cx="306.7" cy="1356.0" r="3.3"/><circle cx="201.3" cy="1392.9" r="3.3"/><circle cx="316.2" cy="1354.3" r="3.3"/><circle cx="215.2" cy="1446.2" r="3.3"/><circle cx="308.0" cy="1372.1" r="3.3"/><circle cx="202.6" cy="1388.2" r="3.3"/><circle cx="331.5" cy="1377.6" r="3.3"/><circle cx="189.8" cy="1397.7" r="3.3"/><circle cx="318.2" cy="1350.7" r="3.3"/><circle cx="181.5" cy="1385.7" r="3.3"/><circle cx="307.0" cy="1308.3" r="3.3"/><circle cx="204.4" cy="1386.3" r="3.3"/><circle cx="295.9" cy="1343.9" r="3.3"/><circle cx="199.3" cy="1389.2" r="3.3"/><circle cx="321.5" cy="1336.6" r="3.3"/><circle cx="203.9" cy="1369.4" r="3.3"/><circle cx="322.9" cy="1324.9" r="3.3"/><circle cx="173.2" cy="1392.0" r="3.3"/><circle cx="326.1" cy="1344.8" r="3.3"/><circle cx="173.5" cy="1426.1" r="3.3"/><circle cx="306.3" cy="1373.2" r="3.3"/><circle cx="177.3" cy="1403.1" r="3.3"/><circle cx="323.4" cy="1363.2" r="3.3"/><circle cx="177.9" cy="1379.2" r="3.3"/><circle cx="314.7" cy="1337.4" r="3.3"/><circle cx="194.5" cy="1376.8" r="3.3"/><circle cx="304.1" cy="1350.4" r="3.3"/><circle cx="190.3" cy="1372.0" r="3.3"/><circle cx="294.7" cy="1367.0" r="3.3"/><circle cx="196.5" cy="1374.7" r="3.3"/><circle cx="310.5" cy="1337.8" r="3.3"/><circle cx="209.1" cy="1376.3" r="3.3"/><circle cx="298.6" cy="1361.6" r="3.3"/><circle cx="190.0" cy="1403.0" r="3.3"/><circle cx="316.5" cy="1362.3" r="3.3"/><circle cx="190.3" cy="1417.2" r="3.3"/><circle cx="293.0" cy="1392.0" r="3.3"/><circle cx="204.1" cy="1398.7" r="3.3"/><circle cx="320.4" cy="1333.4" r="3.3"/><circle cx="173.7" cy="1388.0" r="3.3"/><circle cx="296.9" cy="1340.2" r="3.3"/><circle cx="200.2" cy="1391.9" r="3.3"/><circle cx="325.7" cy="1317.1" r="3.3"/><circle cx="175.9" cy="1397.1" r="3.3"/><circle cx="302.8" cy="1353.1" r="3.3"/><circle cx="186.6" cy="1417.8" r="3.3"/><circle cx="311.7" cy="1336.9" r="3.3"/><circle cx="213.2" cy="1402.5" r="3.3"/><circle cx="314.7" cy="1386.6" r="3.3"/><circle cx="189.5" cy="1430.9" r="3.3"/><circle cx="304.3" cy="1362.2" r="3.3"/><circle cx="188.3" cy="1369.8" r="3.3"/><circle cx="309.3" cy="1367.2" r="3.3"/><circle cx="191.0" cy="1395.3" r="3.3"/><circle cx="310.2" cy="1355.5" r="3.3"/><circle cx="175.2" cy="1420.6" r="3.3"/><circle cx="313.2" cy="1351.3" r="3.3"/><circle cx="182.1" cy="1396.2" r="3.3"/><circle cx="296.5" cy="1362.7" r="3.3"/><circle cx="193.3" cy="1385.7" r="3.3"/><circle cx="301.6" cy="1346.4" r="3.3"/><circle cx="172.9" cy="1368.4" r="3.3"/><circle cx="308.5" cy="1373.3" r="3.3"/><circle cx="198.0" cy="1371.7" r="3.3"/><circle cx="330.1" cy="1355.3" r="3.3"/><circle cx="188.4" cy="1394.2" r="3.3"/><circle cx="304.3" cy="1341.2" r="3.3"/><circle cx="186.1" cy="1398.2" r="3.3"/><circle cx="312.0" cy="1371.8" r="3.3"/><circle cx="174.8" cy="1416.5" r="3.3"/><circle cx="296.2" cy="1363.0" r="3.3"/><circle cx="206.7" cy="1368.6" r="3.3"/><circle cx="309.2" cy="1341.6" r="3.3"/><circle cx="184.8" cy="1387.0" r="3.3"/><circle cx="319.1" cy="1369.5" r="3.3"/><circle cx="208.3" cy="1439.9" r="3.3"/><circle cx="305.4" cy="1339.1" r="3.3"/><circle cx="206.4" cy="1390.3" r="3.3"/><circle cx="317.6" cy="1329.7" r="3.3"/><circle cx="174.6" cy="1414.3" r="3.3"/><circle cx="317.0" cy="1350.4" r="3.3"/><circle cx="200.0" cy="1431.0" r="3.3"/><circle cx="293.5" cy="1374.0" r="3.3"/><circle cx="197.4" cy="1412.6" r="3.3"/><circle cx="292.8" cy="1370.7" r="3.3"/><circle cx="201.7" cy="1370.8" r="3.3"/><circle cx="331.0" cy="1371.7" r="3.3"/><circle cx="206.1" cy="1378.2" r="3.3"/><circle cx="309.8" cy="1358.9" r="3.3"/><circle cx="191.8" cy="1368.6" r="3.3"/><circle cx="309.6" cy="1370.4" r="3.3"/><circle cx="204.1" cy="1387.0" r="3.3"/><circle cx="295.4" cy="1347.1" r="3.3"/><circle cx="201.1" cy="1409.2" r="3.3"/><circle cx="314.0" cy="1338.9" r="3.3"/><circle cx="185.8" cy="1379.3" r="3.3"/><circle cx="329.8" cy="1350.5" r="3.3"/><circle cx="181.6" cy="1429.1" r="3.3"/><circle cx="308.8" cy="1375.4" r="3.3"/><circle cx="177.8" cy="1422.2" r="3.3"/><circle cx="326.7" cy="1368.0" r="3.3"/><circle cx="191.1" cy="1375.5" r="3.3"/><circle cx="307.3" cy="1354.6" r="3.3"/><circle cx="193.7" cy="1398.7" r="3.3"/><circle cx="319.5" cy="1391.4" r="3.3"/><circle cx="177.0" cy="1406.6" r="3.3"/><circle cx="321.6" cy="1340.8" r="3.3"/><circle cx="181.2" cy="1387.5" r="3.3"/><circle cx="306.1" cy="1338.1" r="3.3"/><circle cx="197.9" cy="1382.1" r="3.3"/><circle cx="312.9" cy="1343.2" r="3.3"/><circle cx="208.7" cy="1397.2" r="3.3"/><circle cx="306.6" cy="1344.2" r="3.3"/><circle cx="214.7" cy="1396.9" r="3.3"/><circle cx="305.4" cy="1367.3" r="3.3"/><circle cx="183.7" cy="1375.1" r="3.3"/><circle cx="321.1" cy="1366.5" r="3.3"/><circle cx="175.3" cy="1388.2" r="3.3"/><circle cx="324.8" cy="1362.6" r="3.3"/><circle cx="191.1" cy="1401.3" r="3.3"/><circle cx="316.7" cy="1340.5" r="3.3"/><circle cx="211.6" cy="1441.8" r="3.3"/><circle cx="310.4" cy="1379.5" r="3.3"/><circle cx="204.9" cy="1389.2" r="3.3"/><circle cx="296.6" cy="1356.0" r="3.3"/><circle cx="174.0" cy="1387.8" r="3.3"/><circle cx="319.8" cy="1327.2" r="3.3"/><circle cx="186.8" cy="1401.6" r="3.3"/><circle cx="298.5" cy="1367.0" r="3.3"/><circle cx="207.1" cy="1415.2" r="3.3"/><circle cx="296.4" cy="1368.5" r="3.3"/><circle cx="181.1" cy="1372.6" r="3.3"/><circle cx="313.5" cy="1366.2" r="3.3"/><circle cx="205.4" cy="1379.6" r="3.3"/><circle cx="315.3" cy="1361.1" r="3.3"/><circle cx="202.1" cy="1421.3" r="3.3"/><circle cx="306.8" cy="1382.7" r="3.3"/><circle cx="185.0" cy="1412.2" r="3.3"/><circle cx="326.0" cy="1367.6" r="3.3"/><circle cx="183.2" cy="1371.6" r="3.3"/><circle cx="293.4" cy="1367.5" r="3.3"/><circle cx="185.1" cy="1389.8" r="3.3"/><circle cx="302.5" cy="1359.9" r="3.3"/><circle cx="184.2" cy="1390.9" r="3.3"/><circle cx="303.7" cy="1343.4" r="3.3"/><circle cx="210.1" cy="1374.2" r="3.3"/><circle cx="298.8" cy="1336.1" r="3.3"/><circle cx="198.7" cy="1404.4" r="3.3"/><circle cx="313.8" cy="1383.5" r="3.3"/><circle cx="200.9" cy="1371.9" r="3.3"/><circle cx="328.5" cy="1374.9" r="3.3"/><circle cx="174.8" cy="1371.8" r="3.3"/><circle cx="329.1" cy="1367.4" r="3.3"/><circle cx="182.5" cy="1401.4" r="3.3"/><circle cx="310.3" cy="1336.7" r="3.3"/><circle cx="213.1" cy="1400.4" r="3.3"/><circle cx="312.3" cy="1339.2" r="3.3"/><circle cx="182.5" cy="1392.8" r="3.3"/><circle cx="329.6" cy="1363.5" r="3.3"/><circle cx="200.8" cy="1421.2" r="3.3"/><circle cx="295.4" cy="1336.1" r="3.3"/><circle cx="196.8" cy="1379.2" r="3.3"/><circle cx="297.3" cy="1360.2" r="3.3"/><circle cx="210.0" cy="1393.1" r="3.3"/><circle cx="295.0" cy="1358.4" r="3.3"/><circle cx="173.8" cy="1373.7" r="3.3"/><circle cx="314.9" cy="1360.4" r="3.3"/><circle cx="209.3" cy="1412.0" r="3.3"/><circle cx="323.2" cy="1362.4" r="3.3"/><circle cx="195.2" cy="1379.8" r="3.3"/><circle cx="299.8" cy="1356.7" r="3.3"/><circle cx="194.0" cy="1395.0" r="3.3"/><circle cx="300.3" cy="1360.2" r="3.3"/><circle cx="193.4" cy="1376.7" r="3.3"/><circle cx="295.7" cy="1371.7" r="3.3"/><circle cx="214.3" cy="1405.1" r="3.3"/><circle cx="314.5" cy="1357.2" r="3.3"/><circle cx="186.9" cy="1384.5" r="3.3"/><circle cx="320.0" cy="1346.1" r="3.3"/><circle cx="213.3" cy="1441.6" r="3.3"/><circle cx="328.7" cy="1379.9" r="3.3"/><circle cx="173.4" cy="1411.0" r="3.3"/><circle cx="311.7" cy="1389.1" r="3.3"/><circle cx="198.8" cy="1405.4" r="3.3"/><circle cx="316.5" cy="1372.3" r="3.3"/><circle cx="194.8" cy="1379.5" r="3.3"/><circle cx="330.0" cy="1358.6" r="3.3"/><circle cx="209.9" cy="1382.1" r="3.3"/><circle cx="329.9" cy="1354.6" r="3.3"/><circle cx="208.2" cy="1375.6" r="3.3"/><circle cx="319.5" cy="1354.7" r="3.3"/><circle cx="205.1" cy="1406.1" r="3.3"/><circle cx="324.1" cy="1361.7" r="3.3"/><circle cx="206.6" cy="1379.1" r="3.3"/><circle cx="330.6" cy="1355.8" r="3.3"/><circle cx="186.9" cy="1383.1" r="3.3"/><circle cx="306.1" cy="1370.7" r="3.3"/><circle cx="183.8" cy="1417.7" r="3.3"/><circle cx="315.4" cy="1357.8" r="3.3"/><circle cx="201.5" cy="1394.1" r="3.3"/><circle cx="310.3" cy="1360.0" r="3.3"/><circle cx="180.1" cy="1374.1" r="3.3"/><circle cx="298.4" cy="1321.7" r="3.3"/><circle cx="206.2" cy="1369.0" r="3.3"/><circle cx="305.6" cy="1336.0" r="3.3"/><circle cx="183.7" cy="1371.4" r="3.3"/><circle cx="313.0" cy="1331.2" r="3.3"/><circle cx="180.4" cy="1370.1" r="3.3"/><circle cx="301.7" cy="1321.4" r="3.3"/><circle cx="203.7" cy="1376.5" r="3.3"/><circle cx="318.9" cy="1341.7" r="3.3"/><circle cx="175.9" cy="1377.3" r="3.3"/><circle cx="322.4" cy="1375.2" r="3.3"/><circle cx="190.3" cy="1369.0" r="3.3"/><circle cx="331.2" cy="1343.2" r="3.3"/><circle cx="211.7" cy="1387.0" r="3.3"/><circle cx="331.2" cy="1345.6" r="3.3"/><circle cx="206.5" cy="1380.1" r="3.3"/><circle cx="323.1" cy="1350.2" r="3.3"/><circle cx="188.8" cy="1395.2" r="3.3"/><circle cx="303.8" cy="1333.2" r="3.3"/><circle cx="193.0" cy="1407.9" r="3.3"/><circle cx="324.5" cy="1374.1" r="3.3"/><circle cx="188.9" cy="1402.2" r="3.3"/><circle cx="295.1" cy="1356.9" r="3.3"/><circle cx="181.3" cy="1382.1" r="3.3"/><circle cx="326.8" cy="1360.8" r="3.3"/><circle cx="187.2" cy="1433.2" r="3.3"/><circle cx="328.9" cy="1371.5" r="3.3"/><circle cx="213.2" cy="1397.1" r="3.3"/><circle cx="300.1" cy="1337.9" r="3.3"/><circle cx="210.4" cy="1397.0" r="3.3"/><circle cx="320.9" cy="1339.5" r="3.3"/><circle cx="188.5" cy="1398.5" r="3.3"/><circle cx="297.3" cy="1363.7" r="3.3"/><circle cx="175.6" cy="1378.1" r="3.3"/><circle cx="299.8" cy="1317.6" r="3.3"/><circle cx="185.7" cy="1373.6" r="3.3"/><circle cx="299.7" cy="1350.9" r="3.3"/><circle cx="195.7" cy="1393.7" r="3.3"/><circle cx="314.7" cy="1343.6" r="3.3"/><circle cx="213.2" cy="1371.0" r="3.3"/><circle cx="295.8" cy="1374.7" r="3.3"/><circle cx="185.8" cy="1370.2" r="3.3"/><circle cx="322.3" cy="1348.3" r="3.3"/><circle cx="208.7" cy="1506.4" r="3.3"/><circle cx="311.7" cy="1428.0" r="3.3"/><circle cx="180.4" cy="1506.4" r="3.3"/><circle cx="306.5" cy="1434.0" r="3.3"/><circle cx="195.5" cy="1473.2" r="3.3"/><circle cx="305.4" cy="1421.9" r="3.3"/><circle cx="203.8" cy="1476.2" r="3.3"/><circle cx="325.8" cy="1406.9" r="3.3"/><circle cx="191.5" cy="1467.2" r="3.3"/><circle cx="314.7" cy="1443.0" r="3.3"/><circle cx="205.8" cy="1464.2" r="3.3"/><circle cx="310.6" cy="1295.3" r="3.3"/><circle cx="181.6" cy="1449.1" r="3.3"/><circle cx="324.9" cy="1286.3" r="3.3"/><circle cx="210.7" cy="1437.0" r="3.3"/><circle cx="297.3" cy="1304.4" r="3.3"/><circle cx="202.7" cy="1467.2" r="3.3"/><circle cx="308.6" cy="1418.9" r="3.3"/><circle cx="176.4" cy="1479.2" r="3.3"/><circle cx="301.5" cy="1388.8" r="3.3"/></g>
<line x1="196.5" y1="1394.3" x2="306.6" y2="1357.7" stroke="#40309a" stroke-width="4.2"/>
<g stroke="#f7b043" stroke-width="3.4" stroke-opacity="0.145" fill="#f7b043" fill-opacity="0.145" stroke-linecap="round"><path d="M181.6,1318.0L293.4,1330.4"/><path d="M194.0,1327.2L318.1,1326.5"/><path d="M173.2,1321.1L304.5,1350.4"/><path d="M199.1,1318.2L307.0,1349.2"/><path d="M186.1,1304.6L306.5,1347.2"/><path d="M190.4,1313.2L313.7,1364.9"/><path d="M211.8,1315.6L301.7,1348.6"/><path d="M210.4,1295.4L298.9,1361.5"/><path d="M179.9,1315.8L320.8,1354.4"/><path d="M179.3,1331.8L329.6,1333.7"/><path d="M202.1,1332.4L306.1,1346.9"/><path d="M212.2,1310.8L312.7,1357.9"/><path d="M193.8,1333.6L303.1,1353.1"/><path d="M192.4,1307.1L296.1,1360.6"/><path d="M200.1,1309.6L330.4,1351.0"/><path d="M176.1,1330.1L323.8,1337.4"/><path d="M206.8,1330.5L302.5,1325.2"/><path d="M190.8,1313.4L314.3,1361.9"/><path d="M193.2,1310.8L303.9,1357.3"/><path d="M187.2,1320.6L300.3,1367.4"/><path d="M207.0,1325.6L330.8,1325.0"/><path d="M206.8,1305.9L320.4,1362.3"/><path d="M180.1,1320.2L324.4,1377.6"/><path d="M212.0,1329.2L293.5,1342.6"/><path d="M206.5,1314.7L316.4,1352.8"/><path d="M200.2,1291.8L295.1,1368.1"/><path d="M214.7,1329.3L326.6,1359.6"/><path d="M202.4,1329.3L322.2,1344.3"/><path d="M177.9,1304.3L320.9,1352.8"/><path d="M205.6,1293.8L323.2,1338.8"/><path d="M213.1,1314.8L317.5,1365.8"/><path d="M187.7,1313.2L293.5,1350.9"/><path d="M182.3,1314.0L318.1,1329.0"/><path d="M194.7,1329.2L304.9,1376.2"/><path d="M200.4,1332.5L319.4,1344.0"/><path d="M212.4,1316.3L328.1,1356.8"/><path d="M199.1,1321.0L330.1,1316.5"/><path d="M184.5,1331.6L313.0,1366.9"/><path d="M209.6,1328.7L313.5,1352.9"/><path d="M183.2,1299.2L300.4,1346.1"/><path d="M186.6,1320.4L295.3,1357.8"/><path d="M195.2,1315.3L329.6,1347.3"/><path d="M190.0,1320.2L301.8,1364.4"/><path d="M177.7,1280.4L309.5,1342.2"/><path d="M196.4,1320.0L317.6,1375.9"/><path d="M183.3,1291.1L313.7,1361.8"/><path d="M180.6,1307.9L322.5,1351.5"/><path d="M196.2,1322.9L303.2,1349.6"/><path d="M186.2,1327.9L322.5,1377.0"/><path d="M192.1,1314.2L309.5,1370.7"/><path d="M213.6,1315.2L327.2,1341.3"/><path d="M184.1,1326.7L319.7,1351.0"/><path d="M190.8,1324.0L315.0,1349.7"/><path d="M200.4,1333.7L319.2,1369.0"/><path d="M203.1,1329.5L297.6,1356.4"/><path d="M173.2,1311.4L295.4,1345.7"/><path d="M177.0,1315.6L329.8,1341.2"/><path d="M197.8,1319.5L304.9,1366.3"/><path d="M185.6,1323.6L301.2,1353.5"/><path d="M190.1,1317.3L308.2,1365.5"/><path d="M206.5,1321.8L320.2,1360.1"/><path d="M191.3,1314.9L310.3,1347.3"/><path d="M190.2,1322.4L304.4,1333.3"/><path d="M192.9,1331.1L326.9,1369.9"/><path d="M211.1,1314.3L330.7,1347.7"/><path d="M201.4,1329.6L321.5,1368.2"/><path d="M213.3,1324.5L318.2,1329.6"/><path d="M200.6,1323.2L301.4,1366.7"/><path d="M214.6,1331.1L305.9,1372.1"/><path d="M190.4,1333.6L322.5,1356.4"/><path d="M182.0,1332.7L308.1,1332.9"/><path d="M211.7,1320.2L294.9,1352.8"/><path d="M208.5,1299.6L307.9,1364.2"/><path d="M205.3,1305.6L321.7,1363.7"/><path d="M202.8,1320.0L314.5,1357.8"/><path d="M206.1,1324.1L305.3,1365.0"/><path d="M184.3,1326.7L314.7,1389.6"/><path d="M179.7,1309.5L317.0,1354.4"/><path d="M184.9,1309.4L324.0,1365.1"/><path d="M198.6,1323.9L310.6,1348.7"/><path d="M213.5,1300.6L306.4,1359.1"/><path d="M185.4,1334.0L319.6,1359.7"/><path d="M188.8,1319.6L303.3,1378.6"/><path d="M173.5,1317.5L307.2,1337.6"/><path d="M185.9,1327.7L326.6,1360.3"/><path d="M180.2,1319.5L297.2,1356.9"/><path d="M204.3,1301.4L302.9,1336.7"/><path d="M173.7,1301.1L324.5,1348.9"/><path d="M202.7,1325.0L319.9,1360.9"/><path d="M181.9,1311.3L311.1,1325.1"/><path d="M207.4,1325.4L314.8,1337.9"/><path d="M182.1,1285.0L301.3,1377.0"/><path d="M214.0,1325.5L305.9,1358.8"/><path d="M208.1,1313.1L328.3,1345.8"/><path d="M187.8,1328.6L320.1,1361.5"/><path d="M210.0,1325.0L301.4,1322.4"/><path d="M203.4,1324.2L294.4,1344.6"/><path d="M208.7,1331.9L313.8,1358.7"/><path d="M174.4,1326.1L306.4,1356.3"/><path d="M209.6,1305.3L295.0,1352.8"/><path d="M202.5,1330.9L299.5,1351.6"/><path d="M202.4,1329.9L305.2,1331.2"/><path d="M196.6,1317.0L306.5,1349.5"/><path d="M185.1,1324.0L302.8,1344.0"/><path d="M198.0,1315.9L303.1,1350.6"/><path d="M192.7,1302.7L312.6,1331.6"/><path d="M204.9,1317.3L316.9,1323.0"/><path d="M194.0,1316.5L308.7,1371.5"/><path d="M192.7,1314.7L313.2,1340.4"/><path d="M210.9,1297.1L301.3,1355.5"/><path d="M173.9,1316.3L323.7,1350.2"/><path d="M180.7,1321.6L326.5,1361.0"/><path d="M202.2,1317.5L321.6,1371.7"/><path d="M196.3,1313.5L326.9,1347.4"/><path d="M208.4,1286.1L295.5,1350.8"/><path d="M195.9,1333.4L312.7,1313.6"/><path d="M194.7,1318.6L331.2,1324.3"/><path d="M178.9,1330.8L307.8,1331.6"/><path d="M196.7,1327.8L329.2,1358.7"/><path d="M198.0,1300.7L315.3,1340.3"/><path d="M211.2,1323.3L318.9,1337.8"/><path d="M195.9,1329.6L305.7,1337.3"/><path d="M173.3,1307.4L301.2,1361.1"/><path d="M175.6,1326.2L322.3,1361.7"/><path d="M196.5,1307.0L296.6,1318.3"/><path d="M207.5,1323.5L320.8,1361.6"/><path d="M174.0,1334.1L323.7,1358.9"/><path d="M173.8,1325.3L299.0,1345.1"/><path d="M186.3,1280.6L302.7,1342.1"/><path d="M199.8,1328.0L316.6,1361.6"/><path d="M196.7,1328.5L307.5,1355.0"/><path d="M203.2,1327.1L299.8,1363.4"/><path d="M182.8,1277.5L303.5,1346.9"/><path d="M175.3,1306.3L299.9,1362.2"/><path d="M208.8,1333.1L319.9,1341.2"/><path d="M199.5,1302.5L307.5,1353.4"/><path d="M175.0,1329.4L311.8,1370.5"/><path d="M174.6,1314.6L293.7,1339.5"/><path d="M186.7,1313.7L298.4,1353.3"/><path d="M180.3,1294.3L312.1,1368.1"/><path d="M196.8,1297.5L301.9,1350.1"/><path d="M175.9,1321.6L326.3,1330.0"/><path d="M192.6,1320.7L325.5,1350.4"/><path d="M205.2,1308.3L320.8,1368.2"/><path d="M178.9,1296.1L298.9,1341.0"/><path d="M210.2,1329.4L307.5,1352.5"/><path d="M208.9,1328.8L316.1,1350.8"/><path d="M177.3,1329.3L303.8,1355.4"/><path d="M181.1,1330.7L317.6,1346.6"/><path d="M195.5,1328.0L307.2,1345.2"/><path d="M194.5,1159.6L315.1,1277.2"/><path d="M201.7,1274.2L312.4,1280.2"/><path d="M201.0,1271.2L307.2,1310.4"/><path d="M203.8,1274.2L309.5,1277.2"/><path d="M198.2,1277.2L306.7,1298.3"/></g><g fill="#f7b043" fill-opacity="0.145"><circle cx="181.6" cy="1318.0" r="3.3"/><circle cx="293.4" cy="1330.4" r="3.3"/><circle cx="194.0" cy="1327.2" r="3.3"/><circle cx="318.1" cy="1326.5" r="3.3"/><circle cx="173.2" cy="1321.1" r="3.3"/><circle cx="304.5" cy="1350.4" r="3.3"/><circle cx="199.1" cy="1318.2" r="3.3"/><circle cx="307.0" cy="1349.2" r="3.3"/><circle cx="186.1" cy="1304.6" r="3.3"/><circle cx="306.5" cy="1347.2" r="3.3"/><circle cx="190.4" cy="1313.2" r="3.3"/><circle cx="313.7" cy="1364.9" r="3.3"/><circle cx="211.8" cy="1315.6" r="3.3"/><circle cx="301.7" cy="1348.6" r="3.3"/><circle cx="210.4" cy="1295.4" r="3.3"/><circle cx="298.9" cy="1361.5" r="3.3"/><circle cx="179.9" cy="1315.8" r="3.3"/><circle cx="320.8" cy="1354.4" r="3.3"/><circle cx="179.3" cy="1331.8" r="3.3"/><circle cx="329.6" cy="1333.7" r="3.3"/><circle cx="202.1" cy="1332.4" r="3.3"/><circle cx="306.1" cy="1346.9" r="3.3"/><circle cx="212.2" cy="1310.8" r="3.3"/><circle cx="312.7" cy="1357.9" r="3.3"/><circle cx="193.8" cy="1333.6" r="3.3"/><circle cx="303.1" cy="1353.1" r="3.3"/><circle cx="192.4" cy="1307.1" r="3.3"/><circle cx="296.1" cy="1360.6" r="3.3"/><circle cx="200.1" cy="1309.6" r="3.3"/><circle cx="330.4" cy="1351.0" r="3.3"/><circle cx="176.1" cy="1330.1" r="3.3"/><circle cx="323.8" cy="1337.4" r="3.3"/><circle cx="206.8" cy="1330.5" r="3.3"/><circle cx="302.5" cy="1325.2" r="3.3"/><circle cx="190.8" cy="1313.4" r="3.3"/><circle cx="314.3" cy="1361.9" r="3.3"/><circle cx="193.2" cy="1310.8" r="3.3"/><circle cx="303.9" cy="1357.3" r="3.3"/><circle cx="187.2" cy="1320.6" r="3.3"/><circle cx="300.3" cy="1367.4" r="3.3"/><circle cx="207.0" cy="1325.6" r="3.3"/><circle cx="330.8" cy="1325.0" r="3.3"/><circle cx="206.8" cy="1305.9" r="3.3"/><circle cx="320.4" cy="1362.3" r="3.3"/><circle cx="180.1" cy="1320.2" r="3.3"/><circle cx="324.4" cy="1377.6" r="3.3"/><circle cx="212.0" cy="1329.2" r="3.3"/><circle cx="293.5" cy="1342.6" r="3.3"/><circle cx="206.5" cy="1314.7" r="3.3"/><circle cx="316.4" cy="1352.8" r="3.3"/><circle cx="200.2" cy="1291.8" r="3.3"/><circle cx="295.1" cy="1368.1" r="3.3"/><circle cx="214.7" cy="1329.3" r="3.3"/><circle cx="326.6" cy="1359.6" r="3.3"/><circle cx="202.4" cy="1329.3" r="3.3"/><circle cx="322.2" cy="1344.3" r="3.3"/><circle cx="177.9" cy="1304.3" r="3.3"/><circle cx="320.9" cy="1352.8" r="3.3"/><circle cx="205.6" cy="1293.8" r="3.3"/><circle cx="323.2" cy="1338.8" r="3.3"/><circle cx="213.1" cy="1314.8" r="3.3"/><circle cx="317.5" cy="1365.8" r="3.3"/><circle cx="187.7" cy="1313.2" r="3.3"/><circle cx="293.5" cy="1350.9" r="3.3"/><circle cx="182.3" cy="1314.0" r="3.3"/><circle cx="318.1" cy="1329.0" r="3.3"/><circle cx="194.7" cy="1329.2" r="3.3"/><circle cx="304.9" cy="1376.2" r="3.3"/><circle cx="200.4" cy="1332.5" r="3.3"/><circle cx="319.4" cy="1344.0" r="3.3"/><circle cx="212.4" cy="1316.3" r="3.3"/><circle cx="328.1" cy="1356.8" r="3.3"/><circle cx="199.1" cy="1321.0" r="3.3"/><circle cx="330.1" cy="1316.5" r="3.3"/><circle cx="184.5" cy="1331.6" r="3.3"/><circle cx="313.0" cy="1366.9" r="3.3"/><circle cx="209.6" cy="1328.7" r="3.3"/><circle cx="313.5" cy="1352.9" r="3.3"/><circle cx="183.2" cy="1299.2" r="3.3"/><circle cx="300.4" cy="1346.1" r="3.3"/><circle cx="186.6" cy="1320.4" r="3.3"/><circle cx="295.3" cy="1357.8" r="3.3"/><circle cx="195.2" cy="1315.3" r="3.3"/><circle cx="329.6" cy="1347.3" r="3.3"/><circle cx="190.0" cy="1320.2" r="3.3"/><circle cx="301.8" cy="1364.4" r="3.3"/><circle cx="177.7" cy="1280.4" r="3.3"/><circle cx="309.5" cy="1342.2" r="3.3"/><circle cx="196.4" cy="1320.0" r="3.3"/><circle cx="317.6" cy="1375.9" r="3.3"/><circle cx="183.3" cy="1291.1" r="3.3"/><circle cx="313.7" cy="1361.8" r="3.3"/><circle cx="180.6" cy="1307.9" r="3.3"/><circle cx="322.5" cy="1351.5" r="3.3"/><circle cx="196.2" cy="1322.9" r="3.3"/><circle cx="303.2" cy="1349.6" r="3.3"/><circle cx="186.2" cy="1327.9" r="3.3"/><circle cx="322.5" cy="1377.0" r="3.3"/><circle cx="192.1" cy="1314.2" r="3.3"/><circle cx="309.5" cy="1370.7" r="3.3"/><circle cx="213.6" cy="1315.2" r="3.3"/><circle cx="327.2" cy="1341.3" r="3.3"/><circle cx="184.1" cy="1326.7" r="3.3"/><circle cx="319.7" cy="1351.0" r="3.3"/><circle cx="190.8" cy="1324.0" r="3.3"/><circle cx="315.0" cy="1349.7" r="3.3"/><circle cx="200.4" cy="1333.7" r="3.3"/><circle cx="319.2" cy="1369.0" r="3.3"/><circle cx="203.1" cy="1329.5" r="3.3"/><circle cx="297.6" cy="1356.4" r="3.3"/><circle cx="173.2" cy="1311.4" r="3.3"/><circle cx="295.4" cy="1345.7" r="3.3"/><circle cx="177.0" cy="1315.6" r="3.3"/><circle cx="329.8" cy="1341.2" r="3.3"/><circle cx="197.8" cy="1319.5" r="3.3"/><circle cx="304.9" cy="1366.3" r="3.3"/><circle cx="185.6" cy="1323.6" r="3.3"/><circle cx="301.2" cy="1353.5" r="3.3"/><circle cx="190.1" cy="1317.3" r="3.3"/><circle cx="308.2" cy="1365.5" r="3.3"/><circle cx="206.5" cy="1321.8" r="3.3"/><circle cx="320.2" cy="1360.1" r="3.3"/><circle cx="191.3" cy="1314.9" r="3.3"/><circle cx="310.3" cy="1347.3" r="3.3"/><circle cx="190.2" cy="1322.4" r="3.3"/><circle cx="304.4" cy="1333.3" r="3.3"/><circle cx="192.9" cy="1331.1" r="3.3"/><circle cx="326.9" cy="1369.9" r="3.3"/><circle cx="211.1" cy="1314.3" r="3.3"/><circle cx="330.7" cy="1347.7" r="3.3"/><circle cx="201.4" cy="1329.6" r="3.3"/><circle cx="321.5" cy="1368.2" r="3.3"/><circle cx="213.3" cy="1324.5" r="3.3"/><circle cx="318.2" cy="1329.6" r="3.3"/><circle cx="200.6" cy="1323.2" r="3.3"/><circle cx="301.4" cy="1366.7" r="3.3"/><circle cx="214.6" cy="1331.1" r="3.3"/><circle cx="305.9" cy="1372.1" r="3.3"/><circle cx="190.4" cy="1333.6" r="3.3"/><circle cx="322.5" cy="1356.4" r="3.3"/><circle cx="182.0" cy="1332.7" r="3.3"/><circle cx="308.1" cy="1332.9" r="3.3"/><circle cx="211.7" cy="1320.2" r="3.3"/><circle cx="294.9" cy="1352.8" r="3.3"/><circle cx="208.5" cy="1299.6" r="3.3"/><circle cx="307.9" cy="1364.2" r="3.3"/><circle cx="205.3" cy="1305.6" r="3.3"/><circle cx="321.7" cy="1363.7" r="3.3"/><circle cx="202.8" cy="1320.0" r="3.3"/><circle cx="314.5" cy="1357.8" r="3.3"/><circle cx="206.1" cy="1324.1" r="3.3"/><circle cx="305.3" cy="1365.0" r="3.3"/><circle cx="184.3" cy="1326.7" r="3.3"/><circle cx="314.7" cy="1389.6" r="3.3"/><circle cx="179.7" cy="1309.5" r="3.3"/><circle cx="317.0" cy="1354.4" r="3.3"/><circle cx="184.9" cy="1309.4" r="3.3"/><circle cx="324.0" cy="1365.1" r="3.3"/><circle cx="198.6" cy="1323.9" r="3.3"/><circle cx="310.6" cy="1348.7" r="3.3"/><circle cx="213.5" cy="1300.6" r="3.3"/><circle cx="306.4" cy="1359.1" r="3.3"/><circle cx="185.4" cy="1334.0" r="3.3"/><circle cx="319.6" cy="1359.7" r="3.3"/><circle cx="188.8" cy="1319.6" r="3.3"/><circle cx="303.3" cy="1378.6" r="3.3"/><circle cx="173.5" cy="1317.5" r="3.3"/><circle cx="307.2" cy="1337.6" r="3.3"/><circle cx="185.9" cy="1327.7" r="3.3"/><circle cx="326.6" cy="1360.3" r="3.3"/><circle cx="180.2" cy="1319.5" r="3.3"/><circle cx="297.2" cy="1356.9" r="3.3"/><circle cx="204.3" cy="1301.4" r="3.3"/><circle cx="302.9" cy="1336.7" r="3.3"/><circle cx="173.7" cy="1301.1" r="3.3"/><circle cx="324.5" cy="1348.9" r="3.3"/><circle cx="202.7" cy="1325.0" r="3.3"/><circle cx="319.9" cy="1360.9" r="3.3"/><circle cx="181.9" cy="1311.3" r="3.3"/><circle cx="311.1" cy="1325.1" r="3.3"/><circle cx="207.4" cy="1325.4" r="3.3"/><circle cx="314.8" cy="1337.9" r="3.3"/><circle cx="182.1" cy="1285.0" r="3.3"/><circle cx="301.3" cy="1377.0" r="3.3"/><circle cx="214.0" cy="1325.5" r="3.3"/><circle cx="305.9" cy="1358.8" r="3.3"/><circle cx="208.1" cy="1313.1" r="3.3"/><circle cx="328.3" cy="1345.8" r="3.3"/><circle cx="187.8" cy="1328.6" r="3.3"/><circle cx="320.1" cy="1361.5" r="3.3"/><circle cx="210.0" cy="1325.0" r="3.3"/><circle cx="301.4" cy="1322.4" r="3.3"/><circle cx="203.4" cy="1324.2" r="3.3"/><circle cx="294.4" cy="1344.6" r="3.3"/><circle cx="208.7" cy="1331.9" r="3.3"/><circle cx="313.8" cy="1358.7" r="3.3"/><circle cx="174.4" cy="1326.1" r="3.3"/><circle cx="306.4" cy="1356.3" r="3.3"/><circle cx="209.6" cy="1305.3" r="3.3"/><circle cx="295.0" cy="1352.8" r="3.3"/><circle cx="202.5" cy="1330.9" r="3.3"/><circle cx="299.5" cy="1351.6" r="3.3"/><circle cx="202.4" cy="1329.9" r="3.3"/><circle cx="305.2" cy="1331.2" r="3.3"/><circle cx="196.6" cy="1317.0" r="3.3"/><circle cx="306.5" cy="1349.5" r="3.3"/><circle cx="185.1" cy="1324.0" r="3.3"/><circle cx="302.8" cy="1344.0" r="3.3"/><circle cx="198.0" cy="1315.9" r="3.3"/><circle cx="303.1" cy="1350.6" r="3.3"/><circle cx="192.7" cy="1302.7" r="3.3"/><circle cx="312.6" cy="1331.6" r="3.3"/><circle cx="204.9" cy="1317.3" r="3.3"/><circle cx="316.9" cy="1323.0" r="3.3"/><circle cx="194.0" cy="1316.5" r="3.3"/><circle cx="308.7" cy="1371.5" r="3.3"/><circle cx="192.7" cy="1314.7" r="3.3"/><circle cx="313.2" cy="1340.4" r="3.3"/><circle cx="210.9" cy="1297.1" r="3.3"/><circle cx="301.3" cy="1355.5" r="3.3"/><circle cx="173.9" cy="1316.3" r="3.3"/><circle cx="323.7" cy="1350.2" r="3.3"/><circle cx="180.7" cy="1321.6" r="3.3"/><circle cx="326.5" cy="1361.0" r="3.3"/><circle cx="202.2" cy="1317.5" r="3.3"/><circle cx="321.6" cy="1371.7" r="3.3"/><circle cx="196.3" cy="1313.5" r="3.3"/><circle cx="326.9" cy="1347.4" r="3.3"/><circle cx="208.4" cy="1286.1" r="3.3"/><circle cx="295.5" cy="1350.8" r="3.3"/><circle cx="195.9" cy="1333.4" r="3.3"/><circle cx="312.7" cy="1313.6" r="3.3"/><circle cx="194.7" cy="1318.6" r="3.3"/><circle cx="331.2" cy="1324.3" r="3.3"/><circle cx="178.9" cy="1330.8" r="3.3"/><circle cx="307.8" cy="1331.6" r="3.3"/><circle cx="196.7" cy="1327.8" r="3.3"/><circle cx="329.2" cy="1358.7" r="3.3"/><circle cx="198.0" cy="1300.7" r="3.3"/><circle cx="315.3" cy="1340.3" r="3.3"/><circle cx="211.2" cy="1323.3" r="3.3"/><circle cx="318.9" cy="1337.8" r="3.3"/><circle cx="195.9" cy="1329.6" r="3.3"/><circle cx="305.7" cy="1337.3" r="3.3"/><circle cx="173.3" cy="1307.4" r="3.3"/><circle cx="301.2" cy="1361.1" r="3.3"/><circle cx="175.6" cy="1326.2" r="3.3"/><circle cx="322.3" cy="1361.7" r="3.3"/><circle cx="196.5" cy="1307.0" r="3.3"/><circle cx="296.6" cy="1318.3" r="3.3"/><circle cx="207.5" cy="1323.5" r="3.3"/><circle cx="320.8" cy="1361.6" r="3.3"/><circle cx="174.0" cy="1334.1" r="3.3"/><circle cx="323.7" cy="1358.9" r="3.3"/><circle cx="173.8" cy="1325.3" r="3.3"/><circle cx="299.0" cy="1345.1" r="3.3"/><circle cx="186.3" cy="1280.6" r="3.3"/><circle cx="302.7" cy="1342.1" r="3.3"/><circle cx="199.8" cy="1328.0" r="3.3"/><circle cx="316.6" cy="1361.6" r="3.3"/><circle cx="196.7" cy="1328.5" r="3.3"/><circle cx="307.5" cy="1355.0" r="3.3"/><circle cx="203.2" cy="1327.1" r="3.3"/><circle cx="299.8" cy="1363.4" r="3.3"/><circle cx="182.8" cy="1277.5" r="3.3"/><circle cx="303.5" cy="1346.9" r="3.3"/><circle cx="175.3" cy="1306.3" r="3.3"/><circle cx="299.9" cy="1362.2" r="3.3"/><circle cx="208.8" cy="1333.1" r="3.3"/><circle cx="319.9" cy="1341.2" r="3.3"/><circle cx="199.5" cy="1302.5" r="3.3"/><circle cx="307.5" cy="1353.4" r="3.3"/><circle cx="175.0" cy="1329.4" r="3.3"/><circle cx="311.8" cy="1370.5" r="3.3"/><circle cx="174.6" cy="1314.6" r="3.3"/><circle cx="293.7" cy="1339.5" r="3.3"/><circle cx="186.7" cy="1313.7" r="3.3"/><circle cx="298.4" cy="1353.3" r="3.3"/><circle cx="180.3" cy="1294.3" r="3.3"/><circle cx="312.1" cy="1368.1" r="3.3"/><circle cx="196.8" cy="1297.5" r="3.3"/><circle cx="301.9" cy="1350.1" r="3.3"/><circle cx="175.9" cy="1321.6" r="3.3"/><circle cx="326.3" cy="1330.0" r="3.3"/><circle cx="192.6" cy="1320.7" r="3.3"/><circle cx="325.5" cy="1350.4" r="3.3"/><circle cx="205.2" cy="1308.3" r="3.3"/><circle cx="320.8" cy="1368.2" r="3.3"/><circle cx="178.9" cy="1296.1" r="3.3"/><circle cx="298.9" cy="1341.0" r="3.3"/><circle cx="210.2" cy="1329.4" r="3.3"/><circle cx="307.5" cy="1352.5" r="3.3"/><circle cx="208.9" cy="1328.8" r="3.3"/><circle cx="316.1" cy="1350.8" r="3.3"/><circle cx="177.3" cy="1329.3" r="3.3"/><circle cx="303.8" cy="1355.4" r="3.3"/><circle cx="181.1" cy="1330.7" r="3.3"/><circle cx="317.6" cy="1346.6" r="3.3"/><circle cx="195.5" cy="1328.0" r="3.3"/><circle cx="307.2" cy="1345.2" r="3.3"/><circle cx="194.5" cy="1159.6" r="3.3"/><circle cx="315.1" cy="1277.2" r="3.3"/><circle cx="201.7" cy="1274.2" r="3.3"/><circle cx="312.4" cy="1280.2" r="3.3"/><circle cx="201.0" cy="1271.2" r="3.3"/><circle cx="307.2" cy="1310.4" r="3.3"/><circle cx="203.8" cy="1274.2" r="3.3"/><circle cx="309.5" cy="1277.2" r="3.3"/><circle cx="198.2" cy="1277.2" r="3.3"/><circle cx="306.7" cy="1298.3" r="3.3"/></g>
<line x1="196.5" y1="1315.6" x2="307.5" y2="1351.8" stroke="#ee5a29" stroke-width="4.2"/>
<line x1="196.5" y1="1545.0" x2="196.5" y2="1548.0" stroke="#000" stroke-width="2.6"/>
<line x1="306.6" y1="1545.0" x2="306.6" y2="1548.0" stroke="#000" stroke-width="2.6"/>
<text x="93.5" y="1344.5" font-size="35" text-anchor="middle" transform="rotate(-90 93.5 1344.5)">log<tspan font-size="27" dy="7.5">2</tspan><tspan dy="-7.5">​</tspan> fold-change</text>
<text x="206.7" y="1562.5" font-size="35.3" text-anchor="end" transform="rotate(-45 206.7 1562.5)">Depletion</text>
<text x="316.0" y="1562.0" font-size="35.3" text-anchor="end" transform="rotate(-45 316.0 1562.0)">Rescue</text>
</g>
<g id="panel_e">
<text x="461.0" y="1148.0" font-size="55.5">e</text>
<text x="676.6" y="1203.0" font-size="35.3" text-anchor="middle">RAD21-TEV DE genes</text>
<text x="676.8" y="1242.2" font-size="35.3" text-anchor="middle" fill="#00923f" style="stroke:#00923f">Day 1 depletion</text>
<text x="677.3" y="1280.3" font-size="35.3" text-anchor="middle" fill="#ea5b2a" style="stroke:#ea5b2a">Day 7 rescue</text>
<circle cx="638.0" cy="1399.1" r="90" fill="#00923f"/>
<circle cx="780.3" cy="1404.3" r="26.3" fill="#ea5b2a"/>
<circle cx="685.1" cy="1454.5" r="17" fill="#ea5b2a"/>
<text x="638.0" y="1406.5" font-size="38" text-anchor="middle">720</text>
<text x="811.0" y="1374.0" font-size="38" text-anchor="middle">62</text>
<text x="715.8" y="1499.8" font-size="38" text-anchor="middle">25</text>
</g>
<g id="panel_f">
<text x="1009.0" y="1032.8" font-size="55.5">f</text>
<text x="1052.5" y="1032.8" font-size="35">Days</text>
<text x="1052.5" y="1073.2" font-size="35">after</text>
<text x="1052.5" y="1114.3" font-size="35">Dox</text>
<text x="1273.6" y="1033.8" font-size="35.2" text-anchor="middle">Control</text>
<text x="1475.0" y="1022.0" font-size="35" text-anchor="middle">Cohesin</text>
<text x="1475.0" y="1063.8" font-size="35" text-anchor="middle">depleted</text>
<text x="1624.3" y="1022.0" font-size="35" text-anchor="middle">Cohesin</text>
<text x="1624.3" y="1063.8" font-size="35" text-anchor="middle">restored</text>
<text x="1184.7" y="1113.2" font-size="35" text-anchor="middle">1</text>
<text x="1337.5" y="1113.2" font-size="35" text-anchor="middle">7</text>
<text x="1480.2" y="1113.2" font-size="35" text-anchor="middle">1</text>
<text x="1632.5" y="1113.2" font-size="35" text-anchor="middle">7</text>
<g shape-rendering="crispEdges">
<rect x="1120.2" y="1122.00" width="46.0" height="17.92" fill="#1e1e10"/>
<rect x="1165.8" y="1122.00" width="46.0" height="17.92" fill="#1e1e10"/>
<rect x="1211.4" y="1122.00" width="46.0" height="17.92" fill="#4e4920"/>
<rect x="1120.2" y="1139.52" width="46.0" height="17.92" fill="#aea130"/>
<rect x="1165.8" y="1139.52" width="46.0" height="17.92" fill="#aea130"/>
<rect x="1211.4" y="1139.52" width="46.0" height="17.92" fill="#1e1e10"/>
<rect x="1120.2" y="1157.03" width="46.0" height="17.92" fill="#665f26"/>
<rect x="1165.8" y="1157.03" width="46.0" height="17.92" fill="#4e4920"/>
<rect x="1211.4" y="1157.03" width="46.0" height="17.92" fill="#665f26"/>
<rect x="1120.2" y="1174.55" width="46.0" height="17.92" fill="#4e4920"/>
<rect x="1165.8" y="1174.55" width="46.0" height="17.92" fill="#7e752b"/>
<rect x="1211.4" y="1174.55" width="46.0" height="17.92" fill="#665f26"/>
<rect x="1120.2" y="1192.06" width="46.0" height="17.92" fill="#665f26"/>
<rect x="1165.8" y="1192.06" width="46.0" height="17.92" fill="#665f26"/>
<rect x="1211.4" y="1192.06" width="46.0" height="17.92" fill="#665f26"/>
<rect x="1120.2" y="1209.58" width="46.0" height="17.92" fill="#968b2e"/>
<rect x="1165.8" y="1209.58" width="46.0" height="17.92" fill="#7e752b"/>
<rect x="1211.4" y="1209.58" width="46.0" height="17.92" fill="#4e4920"/>
<rect x="1120.2" y="1227.09" width="46.0" height="17.92" fill="#7e752b"/>
<rect x="1165.8" y="1227.09" width="46.0" height="17.92" fill="#7e752b"/>
<rect x="1211.4" y="1227.09" width="46.0" height="17.92" fill="#7e752b"/>
<rect x="1120.2" y="1244.61" width="46.0" height="17.92" fill="#7e752b"/>
<rect x="1165.8" y="1244.61" width="46.0" height="17.92" fill="#7e752b"/>
<rect x="1211.4" y="1244.61" width="46.0" height="17.92" fill="#665f26"/>
<rect x="1120.2" y="1262.13" width="46.0" height="17.92" fill="#968b2e"/>
<rect x="1165.8" y="1262.13" width="46.0" height="17.92" fill="#7e752b"/>
<rect x="1211.4" y="1262.13" width="46.0" height="17.92" fill="#665f26"/>
<rect x="1120.2" y="1279.64" width="46.0" height="17.92" fill="#7e752b"/>
<rect x="1165.8" y="1279.64" width="46.0" height="17.92" fill="#665f26"/>
<rect x="1211.4" y="1279.64" width="46.0" height="17.92" fill="#665f26"/>
<rect x="1120.2" y="1297.16" width="46.0" height="17.92" fill="#665f26"/>
<rect x="1165.8" y="1297.16" width="46.0" height="17.92" fill="#968b2e"/>
<rect x="1211.4" y="1297.16" width="46.0" height="17.92" fill="#968b2e"/>
<rect x="1120.2" y="1314.67" width="46.0" height="17.92" fill="#7e752b"/>
<rect x="1165.8" y="1314.67" width="46.0" height="17.92" fill="#aea130"/>
<rect x="1211.4" y="1314.67" width="46.0" height="17.92" fill="#968b2e"/>
<rect x="1120.2" y="1332.19" width="46.0" height="17.92" fill="#7e752b"/>
<rect x="1165.8" y="1332.19" width="46.0" height="17.92" fill="#968b2e"/>
<rect x="1211.4" y="1332.19" width="46.0" height="17.92" fill="#aea130"/>
<rect x="1120.2" y="1349.71" width="46.0" height="17.92" fill="#7e752b"/>
<rect x="1165.8" y="1349.71" width="46.0" height="17.92" fill="#7e752b"/>
<rect x="1211.4" y="1349.71" width="46.0" height="17.92" fill="#7e752b"/>
<rect x="1120.2" y="1367.22" width="46.0" height="17.92" fill="#c6b631"/>
<rect x="1165.8" y="1367.22" width="46.0" height="17.92" fill="#665f26"/>
<rect x="1211.4" y="1367.22" width="46.0" height="17.92" fill="#4e4920"/>
<rect x="1120.2" y="1384.74" width="46.0" height="17.92" fill="#968b2e"/>
<rect x="1165.8" y="1384.74" width="46.0" height="17.92" fill="#665f26"/>
<rect x="1211.4" y="1384.74" width="46.0" height="17.92" fill="#7e752b"/>
<rect x="1120.2" y="1402.25" width="46.0" height="17.92" fill="#aea130"/>
<rect x="1165.8" y="1402.25" width="46.0" height="17.92" fill="#665f26"/>
<rect x="1211.4" y="1402.25" width="46.0" height="17.92" fill="#7e752b"/>
<rect x="1120.2" y="1419.77" width="46.0" height="17.92" fill="#665f26"/>
<rect x="1165.8" y="1419.77" width="46.0" height="17.92" fill="#1e1e10"/>
<rect x="1211.4" y="1419.77" width="46.0" height="17.92" fill="#968b2e"/>
<rect x="1120.2" y="1437.28" width="46.0" height="17.92" fill="#7e752b"/>
<rect x="1165.8" y="1437.28" width="46.0" height="17.92" fill="#060806"/>
<rect x="1211.4" y="1437.28" width="46.0" height="17.92" fill="#0a1819"/>
<rect x="1267.2" y="1122.00" width="46.3" height="17.92" fill="#0e2728"/>
<rect x="1313.1" y="1122.00" width="46.3" height="17.92" fill="#0a1819"/>
<rect x="1358.9" y="1122.00" width="46.3" height="17.92" fill="#060806"/>
<rect x="1267.2" y="1139.52" width="46.3" height="17.92" fill="#0a1819"/>
<rect x="1313.1" y="1139.52" width="46.3" height="17.92" fill="#102e30"/>
<rect x="1358.9" y="1139.52" width="46.3" height="17.92" fill="#0c1f21"/>
<rect x="1267.2" y="1157.03" width="46.3" height="17.92" fill="#071112"/>
<rect x="1313.1" y="1157.03" width="46.3" height="17.92" fill="#123637"/>
<rect x="1358.9" y="1157.03" width="46.3" height="17.92" fill="#0e2728"/>
<rect x="1267.2" y="1174.55" width="46.3" height="17.92" fill="#0e2728"/>
<rect x="1313.1" y="1174.55" width="46.3" height="17.92" fill="#102e30"/>
<rect x="1358.9" y="1174.55" width="46.3" height="17.92" fill="#0a1819"/>
<rect x="1267.2" y="1192.06" width="46.3" height="17.92" fill="#0c1f21"/>
<rect x="1313.1" y="1192.06" width="46.3" height="17.92" fill="#0e2728"/>
<rect x="1358.9" y="1192.06" width="46.3" height="17.92" fill="#0c1f21"/>
<rect x="1267.2" y="1209.58" width="46.3" height="17.92" fill="#0c1f21"/>
<rect x="1313.1" y="1209.58" width="46.3" height="17.92" fill="#0c1f21"/>
<rect x="1358.9" y="1209.58" width="46.3" height="17.92" fill="#123637"/>
<rect x="1267.2" y="1227.09" width="46.3" height="17.92" fill="#102e30"/>
<rect x="1313.1" y="1227.09" width="46.3" height="17.92" fill="#0c1f21"/>
<rect x="1358.9" y="1227.09" width="46.3" height="17.92" fill="#102e30"/>
<rect x="1267.2" y="1244.61" width="46.3" height="17.92" fill="#102e30"/>
<rect x="1313.1" y="1244.61" width="46.3" height="17.92" fill="#102e30"/>
<rect x="1358.9" y="1244.61" width="46.3" height="17.92" fill="#123637"/>
<rect x="1267.2" y="1262.13" width="46.3" height="17.92" fill="#0c1f21"/>
<rect x="1313.1" y="1262.13" width="46.3" height="17.92" fill="#0c1f21"/>
<rect x="1358.9" y="1262.13" width="46.3" height="17.92" fill="#0a1819"/>
<rect x="1267.2" y="1279.64" width="46.3" height="17.92" fill="#102e30"/>
<rect x="1313.1" y="1279.64" width="46.3" height="17.92" fill="#0e2728"/>
<rect x="1358.9" y="1279.64" width="46.3" height="17.92" fill="#0a1819"/>
<rect x="1267.2" y="1297.16" width="46.3" height="17.92" fill="#0c1f21"/>
<rect x="1313.1" y="1297.16" width="46.3" height="17.92" fill="#0a1819"/>
<rect x="1358.9" y="1297.16" width="46.3" height="17.92" fill="#0a1819"/>
<rect x="1267.2" y="1314.67" width="46.3" height="17.92" fill="#102e30"/>
<rect x="1313.1" y="1314.67" width="46.3" height="17.92" fill="#0e2728"/>
<rect x="1358.9" y="1314.67" width="46.3" height="17.92" fill="#0c1f21"/>
<rect x="1267.2" y="1332.19" width="46.3" height="17.92" fill="#0c1f21"/>
<rect x="1313.1" y="1332.19" width="46.3" height="17.92" fill="#0e2728"/>
<rect x="1358.9" y="1332.19" width="46.3" height="17.92" fill="#0c1f21"/>
<rect x="1267.2" y="1349.71" width="46.3" height="17.92" fill="#071112"/>
<rect x="1313.1" y="1349.71" width="46.3" height="17.92" fill="#0a1819"/>
<rect x="1358.9" y="1349.71" width="46.3" height="17.92" fill="#1e1e10"/>
<rect x="1267.2" y="1367.22" width="46.3" height="17.92" fill="#0a1819"/>
<rect x="1313.1" y="1367.22" width="46.3" height="17.92" fill="#0c1f21"/>
<rect x="1358.9" y="1367.22" width="46.3" height="17.92" fill="#0a1819"/>
<rect x="1267.2" y="1384.74" width="46.3" height="17.92" fill="#0a1819"/>
<rect x="1313.1" y="1384.74" width="46.3" height="17.92" fill="#102e30"/>
<rect x="1358.9" y="1384.74" width="46.3" height="17.92" fill="#0a1819"/>
<rect x="1267.2" y="1402.25" width="46.3" height="17.92" fill="#0a1819"/>
<rect x="1313.1" y="1402.25" width="46.3" height="17.92" fill="#0e2728"/>
<rect x="1358.9" y="1402.25" width="46.3" height="17.92" fill="#0a1819"/>
<rect x="1267.2" y="1419.77" width="46.3" height="17.92" fill="#1a6161"/>
<rect x="1313.1" y="1419.77" width="46.3" height="17.92" fill="#1d6f6e"/>
<rect x="1358.9" y="1419.77" width="46.3" height="17.92" fill="#185253"/>
<rect x="1267.2" y="1437.28" width="46.3" height="17.92" fill="#1c6867"/>
<rect x="1313.1" y="1437.28" width="46.3" height="17.92" fill="#185253"/>
<rect x="1358.9" y="1437.28" width="46.3" height="17.92" fill="#123637"/>
<rect x="1415.2" y="1122.00" width="46.0" height="17.92" fill="#968b2e"/>
<rect x="1460.8" y="1122.00" width="46.0" height="17.92" fill="#7e752b"/>
<rect x="1506.4" y="1122.00" width="46.0" height="17.92" fill="#a2962f"/>
<rect x="1415.2" y="1139.52" width="46.0" height="17.92" fill="#423e1d"/>
<rect x="1460.8" y="1139.52" width="46.0" height="17.92" fill="#363419"/>
<rect x="1506.4" y="1139.52" width="46.0" height="17.92" fill="#665f26"/>
<rect x="1415.2" y="1157.03" width="46.0" height="17.92" fill="#7e752b"/>
<rect x="1460.8" y="1157.03" width="46.0" height="17.92" fill="#7e752b"/>
<rect x="1506.4" y="1157.03" width="46.0" height="17.92" fill="#7e752b"/>
<rect x="1415.2" y="1174.55" width="46.0" height="17.92" fill="#8a802d"/>
<rect x="1460.8" y="1174.55" width="46.0" height="17.92" fill="#5a5423"/>
<rect x="1506.4" y="1174.55" width="46.0" height="17.92" fill="#665f26"/>
<rect x="1415.2" y="1192.06" width="46.0" height="17.92" fill="#a2962f"/>
<rect x="1460.8" y="1192.06" width="46.0" height="17.92" fill="#726a29"/>
<rect x="1506.4" y="1192.06" width="46.0" height="17.92" fill="#4e4920"/>
<rect x="1415.2" y="1209.58" width="46.0" height="17.92" fill="#665f26"/>
<rect x="1460.8" y="1209.58" width="46.0" height="17.92" fill="#7e752b"/>
<rect x="1506.4" y="1209.58" width="46.0" height="17.92" fill="#5a5423"/>
<rect x="1415.2" y="1227.09" width="46.0" height="17.92" fill="#665f26"/>
<rect x="1460.8" y="1227.09" width="46.0" height="17.92" fill="#7e752b"/>
<rect x="1506.4" y="1227.09" width="46.0" height="17.92" fill="#5a5423"/>
<rect x="1415.2" y="1244.61" width="46.0" height="17.92" fill="#726a29"/>
<rect x="1460.8" y="1244.61" width="46.0" height="17.92" fill="#968b2e"/>
<rect x="1506.4" y="1244.61" width="46.0" height="17.92" fill="#4e4920"/>
<rect x="1415.2" y="1262.13" width="46.0" height="17.92" fill="#363419"/>
<rect x="1460.8" y="1262.13" width="46.0" height="17.92" fill="#8a802d"/>
<rect x="1506.4" y="1262.13" width="46.0" height="17.92" fill="#4e4920"/>
<rect x="1415.2" y="1279.64" width="46.0" height="17.92" fill="#4e4920"/>
<rect x="1460.8" y="1279.64" width="46.0" height="17.92" fill="#8a802d"/>
<rect x="1506.4" y="1279.64" width="46.0" height="17.92" fill="#726a29"/>
<rect x="1415.2" y="1297.16" width="46.0" height="17.92" fill="#665f26"/>
<rect x="1460.8" y="1297.16" width="46.0" height="17.92" fill="#4e4920"/>
<rect x="1506.4" y="1297.16" width="46.0" height="17.92" fill="#1e1e10"/>
<rect x="1415.2" y="1314.67" width="46.0" height="17.92" fill="#665f26"/>
<rect x="1460.8" y="1314.67" width="46.0" height="17.92" fill="#4e4920"/>
<rect x="1506.4" y="1314.67" width="46.0" height="17.92" fill="#363419"/>
<rect x="1415.2" y="1332.19" width="46.0" height="17.92" fill="#7e752b"/>
<rect x="1460.8" y="1332.19" width="46.0" height="17.92" fill="#2a2915"/>
<rect x="1506.4" y="1332.19" width="46.0" height="17.92" fill="#2a2915"/>
<rect x="1415.2" y="1349.71" width="46.0" height="17.92" fill="#1e1e10"/>
<rect x="1460.8" y="1349.71" width="46.0" height="17.92" fill="#7e752b"/>
<rect x="1506.4" y="1349.71" width="46.0" height="17.92" fill="#2a2915"/>
<rect x="1415.2" y="1367.22" width="46.0" height="17.92" fill="#363419"/>
<rect x="1460.8" y="1367.22" width="46.0" height="17.92" fill="#726a29"/>
<rect x="1506.4" y="1367.22" width="46.0" height="17.92" fill="#423e1d"/>
<rect x="1415.2" y="1384.74" width="46.0" height="17.92" fill="#4e4920"/>
<rect x="1460.8" y="1384.74" width="46.0" height="17.92" fill="#7e752b"/>
<rect x="1506.4" y="1384.74" width="46.0" height="17.92" fill="#4e4920"/>
<rect x="1415.2" y="1402.25" width="46.0" height="17.92" fill="#363419"/>
<rect x="1460.8" y="1402.25" width="46.0" height="17.92" fill="#7e752b"/>
<rect x="1506.4" y="1402.25" width="46.0" height="17.92" fill="#4e4920"/>
<rect x="1415.2" y="1419.77" width="46.0" height="17.92" fill="#060806"/>
<rect x="1460.8" y="1419.77" width="46.0" height="17.92" fill="#423e1d"/>
<rect x="1506.4" y="1419.77" width="46.0" height="17.92" fill="#12130b"/>
<rect x="1415.2" y="1437.28" width="46.0" height="17.92" fill="#071112"/>
<rect x="1460.8" y="1437.28" width="46.0" height="17.92" fill="#8a802d"/>
<rect x="1506.4" y="1437.28" width="46.0" height="17.92" fill="#665f26"/>
<rect x="1563.2" y="1122.00" width="46.0" height="17.92" fill="#1d6f6e"/>
<rect x="1608.8" y="1122.00" width="46.0" height="17.92" fill="#195a5a"/>
<rect x="1654.4" y="1122.00" width="46.0" height="17.92" fill="#133d3e"/>
<rect x="1563.2" y="1139.52" width="46.0" height="17.92" fill="#174b4c"/>
<rect x="1608.8" y="1139.52" width="46.0" height="17.92" fill="#1c6867"/>
<rect x="1654.4" y="1139.52" width="46.0" height="17.92" fill="#174b4c"/>
<rect x="1563.2" y="1157.03" width="46.0" height="17.92" fill="#174b4c"/>
<rect x="1608.8" y="1157.03" width="46.0" height="17.92" fill="#1c6867"/>
<rect x="1654.4" y="1157.03" width="46.0" height="17.92" fill="#174b4c"/>
<rect x="1563.2" y="1174.55" width="46.0" height="17.92" fill="#1a6161"/>
<rect x="1608.8" y="1174.55" width="46.0" height="17.92" fill="#1a6161"/>
<rect x="1654.4" y="1174.55" width="46.0" height="17.92" fill="#133d3e"/>
<rect x="1563.2" y="1192.06" width="46.0" height="17.92" fill="#1a6161"/>
<rect x="1608.8" y="1192.06" width="46.0" height="17.92" fill="#195a5a"/>
<rect x="1654.4" y="1192.06" width="46.0" height="17.92" fill="#133d3e"/>
<rect x="1563.2" y="1209.58" width="46.0" height="17.92" fill="#185253"/>
<rect x="1608.8" y="1209.58" width="46.0" height="17.92" fill="#174b4c"/>
<rect x="1654.4" y="1209.58" width="46.0" height="17.92" fill="#185253"/>
<rect x="1563.2" y="1227.09" width="46.0" height="17.92" fill="#1a6161"/>
<rect x="1608.8" y="1227.09" width="46.0" height="17.92" fill="#133d3e"/>
<rect x="1654.4" y="1227.09" width="46.0" height="17.92" fill="#185253"/>
<rect x="1563.2" y="1244.61" width="46.0" height="17.92" fill="#195a5a"/>
<rect x="1608.8" y="1244.61" width="46.0" height="17.92" fill="#133d3e"/>
<rect x="1654.4" y="1244.61" width="46.0" height="17.92" fill="#185253"/>
<rect x="1563.2" y="1262.13" width="46.0" height="17.92" fill="#1d6f6e"/>
<rect x="1608.8" y="1262.13" width="46.0" height="17.92" fill="#195a5a"/>
<rect x="1654.4" y="1262.13" width="46.0" height="17.92" fill="#174b4c"/>
<rect x="1563.2" y="1279.64" width="46.0" height="17.92" fill="#1c6867"/>
<rect x="1608.8" y="1279.64" width="46.0" height="17.92" fill="#174b4c"/>
<rect x="1654.4" y="1279.64" width="46.0" height="17.92" fill="#174b4c"/>
<rect x="1563.2" y="1297.16" width="46.0" height="17.92" fill="#1d7674"/>
<rect x="1608.8" y="1297.16" width="46.0" height="17.92" fill="#174b4c"/>
<rect x="1654.4" y="1297.16" width="46.0" height="17.92" fill="#174b4c"/>
<rect x="1563.2" y="1314.67" width="46.0" height="17.92" fill="#1a6161"/>
<rect x="1608.8" y="1314.67" width="46.0" height="17.92" fill="#174b4c"/>
<rect x="1654.4" y="1314.67" width="46.0" height="17.92" fill="#154445"/>
<rect x="1563.2" y="1332.19" width="46.0" height="17.92" fill="#185253"/>
<rect x="1608.8" y="1332.19" width="46.0" height="17.92" fill="#185253"/>
<rect x="1654.4" y="1332.19" width="46.0" height="17.92" fill="#174b4c"/>
<rect x="1563.2" y="1349.71" width="46.0" height="17.92" fill="#1d6f6e"/>
<rect x="1608.8" y="1349.71" width="46.0" height="17.92" fill="#1c6867"/>
<rect x="1654.4" y="1349.71" width="46.0" height="17.92" fill="#174b4c"/>
<rect x="1563.2" y="1367.22" width="46.0" height="17.92" fill="#195a5a"/>
<rect x="1608.8" y="1367.22" width="46.0" height="17.92" fill="#1a6161"/>
<rect x="1654.4" y="1367.22" width="46.0" height="17.92" fill="#174b4c"/>
<rect x="1563.2" y="1384.74" width="46.0" height="17.92" fill="#195a5a"/>
<rect x="1608.8" y="1384.74" width="46.0" height="17.92" fill="#1d6f6e"/>
<rect x="1654.4" y="1384.74" width="46.0" height="17.92" fill="#133d3e"/>
<rect x="1563.2" y="1402.25" width="46.0" height="17.92" fill="#195a5a"/>
<rect x="1608.8" y="1402.25" width="46.0" height="17.92" fill="#1c6867"/>
<rect x="1654.4" y="1402.25" width="46.0" height="17.92" fill="#154445"/>
<rect x="1563.2" y="1419.77" width="46.0" height="17.92" fill="#968b2e"/>
<rect x="1608.8" y="1419.77" width="46.0" height="17.92" fill="#102e30"/>
<rect x="1654.4" y="1419.77" width="46.0" height="17.92" fill="#4e4920"/>
<rect x="1563.2" y="1437.28" width="46.0" height="17.92" fill="#133d3e"/>
<rect x="1608.8" y="1437.28" width="46.0" height="17.92" fill="#4e4920"/>
<rect x="1654.4" y="1437.28" width="46.0" height="17.92" fill="#baac31"/>
<rect x="1120.2" y="1463.60" width="46.0" height="17.87" fill="#071112"/>
<rect x="1165.8" y="1463.60" width="46.0" height="17.87" fill="#174b4c"/>
<rect x="1211.4" y="1463.60" width="46.0" height="17.87" fill="#174b4c"/>
<rect x="1120.2" y="1481.07" width="46.0" height="17.87" fill="#123637"/>
<rect x="1165.8" y="1481.07" width="46.0" height="17.87" fill="#174b4c"/>
<rect x="1211.4" y="1481.07" width="46.0" height="17.87" fill="#174b4c"/>
<rect x="1120.2" y="1498.55" width="46.0" height="17.87" fill="#133d3e"/>
<rect x="1165.8" y="1498.55" width="46.0" height="17.87" fill="#123637"/>
<rect x="1211.4" y="1498.55" width="46.0" height="17.87" fill="#102e30"/>
<rect x="1120.2" y="1516.02" width="46.0" height="17.87" fill="#195a5a"/>
<rect x="1165.8" y="1516.02" width="46.0" height="17.87" fill="#060806"/>
<rect x="1211.4" y="1516.02" width="46.0" height="17.87" fill="#102e30"/>
<rect x="1120.2" y="1533.50" width="46.0" height="17.87" fill="#0e2728"/>
<rect x="1165.8" y="1533.50" width="46.0" height="17.87" fill="#0e2728"/>
<rect x="1211.4" y="1533.50" width="46.0" height="17.87" fill="#102e30"/>
<rect x="1120.2" y="1550.97" width="46.0" height="17.87" fill="#0e2728"/>
<rect x="1165.8" y="1550.97" width="46.0" height="17.87" fill="#102e30"/>
<rect x="1211.4" y="1550.97" width="46.0" height="17.87" fill="#102e30"/>
<rect x="1120.2" y="1568.44" width="46.0" height="17.87" fill="#174b4c"/>
<rect x="1165.8" y="1568.44" width="46.0" height="17.87" fill="#133d3e"/>
<rect x="1211.4" y="1568.44" width="46.0" height="17.87" fill="#174b4c"/>
<rect x="1120.2" y="1585.92" width="46.0" height="17.87" fill="#133d3e"/>
<rect x="1165.8" y="1585.92" width="46.0" height="17.87" fill="#0e2728"/>
<rect x="1211.4" y="1585.92" width="46.0" height="17.87" fill="#174b4c"/>
<rect x="1120.2" y="1603.39" width="46.0" height="17.87" fill="#154445"/>
<rect x="1165.8" y="1603.39" width="46.0" height="17.87" fill="#123637"/>
<rect x="1211.4" y="1603.39" width="46.0" height="17.87" fill="#154445"/>
<rect x="1120.2" y="1620.87" width="46.0" height="17.87" fill="#154445"/>
<rect x="1165.8" y="1620.87" width="46.0" height="17.87" fill="#154445"/>
<rect x="1211.4" y="1620.87" width="46.0" height="17.87" fill="#154445"/>
<rect x="1120.2" y="1638.34" width="46.0" height="17.87" fill="#102e30"/>
<rect x="1165.8" y="1638.34" width="46.0" height="17.87" fill="#123637"/>
<rect x="1211.4" y="1638.34" width="46.0" height="17.87" fill="#102e30"/>
<rect x="1120.2" y="1655.81" width="46.0" height="17.87" fill="#133d3e"/>
<rect x="1165.8" y="1655.81" width="46.0" height="17.87" fill="#133d3e"/>
<rect x="1211.4" y="1655.81" width="46.0" height="17.87" fill="#133d3e"/>
<rect x="1120.2" y="1673.29" width="46.0" height="17.87" fill="#123637"/>
<rect x="1165.8" y="1673.29" width="46.0" height="17.87" fill="#0e2728"/>
<rect x="1211.4" y="1673.29" width="46.0" height="17.87" fill="#154445"/>
<rect x="1120.2" y="1690.76" width="46.0" height="17.87" fill="#123637"/>
<rect x="1165.8" y="1690.76" width="46.0" height="17.87" fill="#154445"/>
<rect x="1211.4" y="1690.76" width="46.0" height="17.87" fill="#123637"/>
<rect x="1120.2" y="1708.24" width="46.0" height="17.87" fill="#133d3e"/>
<rect x="1165.8" y="1708.24" width="46.0" height="17.87" fill="#133d3e"/>
<rect x="1211.4" y="1708.24" width="46.0" height="17.87" fill="#102e30"/>
<rect x="1120.2" y="1725.71" width="46.0" height="17.87" fill="#123637"/>
<rect x="1165.8" y="1725.71" width="46.0" height="17.87" fill="#154445"/>
<rect x="1211.4" y="1725.71" width="46.0" height="17.87" fill="#102e30"/>
<rect x="1120.2" y="1743.19" width="46.0" height="17.87" fill="#123637"/>
<rect x="1165.8" y="1743.19" width="46.0" height="17.87" fill="#185253"/>
<rect x="1211.4" y="1743.19" width="46.0" height="17.87" fill="#174b4c"/>
<rect x="1120.2" y="1760.66" width="46.0" height="17.87" fill="#102e30"/>
<rect x="1165.8" y="1760.66" width="46.0" height="17.87" fill="#195a5a"/>
<rect x="1211.4" y="1760.66" width="46.0" height="17.87" fill="#133d3e"/>
<rect x="1120.2" y="1778.13" width="46.0" height="17.87" fill="#154445"/>
<rect x="1165.8" y="1778.13" width="46.0" height="17.87" fill="#133d3e"/>
<rect x="1211.4" y="1778.13" width="46.0" height="17.87" fill="#123637"/>
<rect x="1120.2" y="1795.61" width="46.0" height="17.87" fill="#123637"/>
<rect x="1165.8" y="1795.61" width="46.0" height="17.87" fill="#133d3e"/>
<rect x="1211.4" y="1795.61" width="46.0" height="17.87" fill="#133d3e"/>
<rect x="1120.2" y="1813.08" width="46.0" height="17.87" fill="#154445"/>
<rect x="1165.8" y="1813.08" width="46.0" height="17.87" fill="#133d3e"/>
<rect x="1211.4" y="1813.08" width="46.0" height="17.87" fill="#174b4c"/>
<rect x="1120.2" y="1830.56" width="46.0" height="17.87" fill="#154445"/>
<rect x="1165.8" y="1830.56" width="46.0" height="17.87" fill="#174b4c"/>
<rect x="1211.4" y="1830.56" width="46.0" height="17.87" fill="#174b4c"/>
<rect x="1120.2" y="1848.03" width="46.0" height="17.87" fill="#060806"/>
<rect x="1165.8" y="1848.03" width="46.0" height="17.87" fill="#0a1819"/>
<rect x="1211.4" y="1848.03" width="46.0" height="17.87" fill="#1e1e10"/>
<rect x="1120.2" y="1865.50" width="46.0" height="17.87" fill="#133d3e"/>
<rect x="1165.8" y="1865.50" width="46.0" height="17.87" fill="#363419"/>
<rect x="1211.4" y="1865.50" width="46.0" height="17.87" fill="#102e30"/>
<rect x="1120.2" y="1882.98" width="46.0" height="17.87" fill="#123637"/>
<rect x="1165.8" y="1882.98" width="46.0" height="17.87" fill="#195a5a"/>
<rect x="1211.4" y="1882.98" width="46.0" height="17.87" fill="#1a6161"/>
<rect x="1120.2" y="1900.45" width="46.0" height="17.87" fill="#071112"/>
<rect x="1165.8" y="1900.45" width="46.0" height="17.87" fill="#060806"/>
<rect x="1211.4" y="1900.45" width="46.0" height="17.87" fill="#0c1f21"/>
<rect x="1120.2" y="1917.93" width="46.0" height="17.87" fill="#133d3e"/>
<rect x="1165.8" y="1917.93" width="46.0" height="17.87" fill="#133d3e"/>
<rect x="1211.4" y="1917.93" width="46.0" height="17.87" fill="#154445"/>
<rect x="1267.2" y="1463.60" width="46.3" height="17.87" fill="#1e1e10"/>
<rect x="1313.1" y="1463.60" width="46.3" height="17.87" fill="#363419"/>
<rect x="1358.9" y="1463.60" width="46.3" height="17.87" fill="#060806"/>
<rect x="1267.2" y="1481.07" width="46.3" height="17.87" fill="#363419"/>
<rect x="1313.1" y="1481.07" width="46.3" height="17.87" fill="#1e1e10"/>
<rect x="1358.9" y="1481.07" width="46.3" height="17.87" fill="#1e1e10"/>
<rect x="1267.2" y="1498.55" width="46.3" height="17.87" fill="#2a2915"/>
<rect x="1313.1" y="1498.55" width="46.3" height="17.87" fill="#0a1819"/>
<rect x="1358.9" y="1498.55" width="46.3" height="17.87" fill="#1e1e10"/>
<rect x="1267.2" y="1516.02" width="46.3" height="17.87" fill="#2a2915"/>
<rect x="1313.1" y="1516.02" width="46.3" height="17.87" fill="#363419"/>
<rect x="1358.9" y="1516.02" width="46.3" height="17.87" fill="#0a1819"/>
<rect x="1267.2" y="1533.50" width="46.3" height="17.87" fill="#423e1d"/>
<rect x="1313.1" y="1533.50" width="46.3" height="17.87" fill="#2a2915"/>
<rect x="1358.9" y="1533.50" width="46.3" height="17.87" fill="#071112"/>
<rect x="1267.2" y="1550.97" width="46.3" height="17.87" fill="#12130b"/>
<rect x="1313.1" y="1550.97" width="46.3" height="17.87" fill="#2a2915"/>
<rect x="1358.9" y="1550.97" width="46.3" height="17.87" fill="#2a2915"/>
<rect x="1267.2" y="1568.44" width="46.3" height="17.87" fill="#2a2915"/>
<rect x="1313.1" y="1568.44" width="46.3" height="17.87" fill="#5a5423"/>
<rect x="1358.9" y="1568.44" width="46.3" height="17.87" fill="#1e1e10"/>
<rect x="1267.2" y="1585.92" width="46.3" height="17.87" fill="#2a2915"/>
<rect x="1313.1" y="1585.92" width="46.3" height="17.87" fill="#5a5423"/>
<rect x="1358.9" y="1585.92" width="46.3" height="17.87" fill="#2a2915"/>
<rect x="1267.2" y="1603.39" width="46.3" height="17.87" fill="#726a29"/>
<rect x="1313.1" y="1603.39" width="46.3" height="17.87" fill="#665f26"/>
<rect x="1358.9" y="1603.39" width="46.3" height="17.87" fill="#363419"/>
<rect x="1267.2" y="1620.87" width="46.3" height="17.87" fill="#363419"/>
<rect x="1313.1" y="1620.87" width="46.3" height="17.87" fill="#665f26"/>
<rect x="1358.9" y="1620.87" width="46.3" height="17.87" fill="#423e1d"/>
<rect x="1267.2" y="1638.34" width="46.3" height="17.87" fill="#4e4920"/>
<rect x="1313.1" y="1638.34" width="46.3" height="17.87" fill="#1e1e10"/>
<rect x="1358.9" y="1638.34" width="46.3" height="17.87" fill="#1e1e10"/>
<rect x="1267.2" y="1655.81" width="46.3" height="17.87" fill="#5a5423"/>
<rect x="1313.1" y="1655.81" width="46.3" height="17.87" fill="#2a2915"/>
<rect x="1358.9" y="1655.81" width="46.3" height="17.87" fill="#2a2915"/>
<rect x="1267.2" y="1673.29" width="46.3" height="17.87" fill="#1e1e10"/>
<rect x="1313.1" y="1673.29" width="46.3" height="17.87" fill="#2a2915"/>
<rect x="1358.9" y="1673.29" width="46.3" height="17.87" fill="#071112"/>
<rect x="1267.2" y="1690.76" width="46.3" height="17.87" fill="#2a2915"/>
<rect x="1313.1" y="1690.76" width="46.3" height="17.87" fill="#2a2915"/>
<rect x="1358.9" y="1690.76" width="46.3" height="17.87" fill="#071112"/>
<rect x="1267.2" y="1708.24" width="46.3" height="17.87" fill="#4e4920"/>
<rect x="1313.1" y="1708.24" width="46.3" height="17.87" fill="#2a2915"/>
<rect x="1358.9" y="1708.24" width="46.3" height="17.87" fill="#363419"/>
<rect x="1267.2" y="1725.71" width="46.3" height="17.87" fill="#5a5423"/>
<rect x="1313.1" y="1725.71" width="46.3" height="17.87" fill="#423e1d"/>
<rect x="1358.9" y="1725.71" width="46.3" height="17.87" fill="#363419"/>
<rect x="1267.2" y="1743.19" width="46.3" height="17.87" fill="#423e1d"/>
<rect x="1313.1" y="1743.19" width="46.3" height="17.87" fill="#363419"/>
<rect x="1358.9" y="1743.19" width="46.3" height="17.87" fill="#1e1e10"/>
<rect x="1267.2" y="1760.66" width="46.3" height="17.87" fill="#4e4920"/>
<rect x="1313.1" y="1760.66" width="46.3" height="17.87" fill="#1e1e10"/>
<rect x="1358.9" y="1760.66" width="46.3" height="17.87" fill="#363419"/>
<rect x="1267.2" y="1778.13" width="46.3" height="17.87" fill="#4e4920"/>
<rect x="1313.1" y="1778.13" width="46.3" height="17.87" fill="#363419"/>
<rect x="1358.9" y="1778.13" width="46.3" height="17.87" fill="#2a2915"/>
<rect x="1267.2" y="1795.61" width="46.3" height="17.87" fill="#4e4920"/>
<rect x="1313.1" y="1795.61" width="46.3" height="17.87" fill="#363419"/>
<rect x="1358.9" y="1795.61" width="46.3" height="17.87" fill="#423e1d"/>
<rect x="1267.2" y="1813.08" width="46.3" height="17.87" fill="#4e4920"/>
<rect x="1313.1" y="1813.08" width="46.3" height="17.87" fill="#2a2915"/>
<rect x="1358.9" y="1813.08" width="46.3" height="17.87" fill="#423e1d"/>
<rect x="1267.2" y="1830.56" width="46.3" height="17.87" fill="#5a5423"/>
<rect x="1313.1" y="1830.56" width="46.3" height="17.87" fill="#2a2915"/>
<rect x="1358.9" y="1830.56" width="46.3" height="17.87" fill="#363419"/>
<rect x="1267.2" y="1848.03" width="46.3" height="17.87" fill="#a2962f"/>
<rect x="1313.1" y="1848.03" width="46.3" height="17.87" fill="#5a5423"/>
<rect x="1358.9" y="1848.03" width="46.3" height="17.87" fill="#ead72f"/>
<rect x="1267.2" y="1865.50" width="46.3" height="17.87" fill="#ead72f"/>
<rect x="1313.1" y="1865.50" width="46.3" height="17.87" fill="#726a29"/>
<rect x="1358.9" y="1865.50" width="46.3" height="17.87" fill="#c6b631"/>
<rect x="1267.2" y="1882.98" width="46.3" height="17.87" fill="#7e752b"/>
<rect x="1313.1" y="1882.98" width="46.3" height="17.87" fill="#7e752b"/>
<rect x="1358.9" y="1882.98" width="46.3" height="17.87" fill="#f6e22e"/>
<rect x="1267.2" y="1900.45" width="46.3" height="17.87" fill="#a2962f"/>
<rect x="1313.1" y="1900.45" width="46.3" height="17.87" fill="#8a802d"/>
<rect x="1358.9" y="1900.45" width="46.3" height="17.87" fill="#ead72f"/>
<rect x="1267.2" y="1917.93" width="46.3" height="17.87" fill="#968b2e"/>
<rect x="1313.1" y="1917.93" width="46.3" height="17.87" fill="#baac31"/>
<rect x="1358.9" y="1917.93" width="46.3" height="17.87" fill="#aea130"/>
<rect x="1415.2" y="1463.60" width="46.0" height="17.87" fill="#133d3e"/>
<rect x="1460.8" y="1463.60" width="46.0" height="17.87" fill="#102e30"/>
<rect x="1506.4" y="1463.60" width="46.0" height="17.87" fill="#133d3e"/>
<rect x="1415.2" y="1481.07" width="46.0" height="17.87" fill="#174b4c"/>
<rect x="1460.8" y="1481.07" width="46.0" height="17.87" fill="#060806"/>
<rect x="1506.4" y="1481.07" width="46.0" height="17.87" fill="#123637"/>
<rect x="1415.2" y="1498.55" width="46.0" height="17.87" fill="#133d3e"/>
<rect x="1460.8" y="1498.55" width="46.0" height="17.87" fill="#0c1f21"/>
<rect x="1506.4" y="1498.55" width="46.0" height="17.87" fill="#154445"/>
<rect x="1415.2" y="1516.02" width="46.0" height="17.87" fill="#0e2728"/>
<rect x="1460.8" y="1516.02" width="46.0" height="17.87" fill="#154445"/>
<rect x="1506.4" y="1516.02" width="46.0" height="17.87" fill="#195a5a"/>
<rect x="1415.2" y="1533.50" width="46.0" height="17.87" fill="#102e30"/>
<rect x="1460.8" y="1533.50" width="46.0" height="17.87" fill="#133d3e"/>
<rect x="1506.4" y="1533.50" width="46.0" height="17.87" fill="#1e7d7b"/>
<rect x="1415.2" y="1550.97" width="46.0" height="17.87" fill="#174b4c"/>
<rect x="1460.8" y="1550.97" width="46.0" height="17.87" fill="#174b4c"/>
<rect x="1506.4" y="1550.97" width="46.0" height="17.87" fill="#174b4c"/>
<rect x="1415.2" y="1568.44" width="46.0" height="17.87" fill="#102e30"/>
<rect x="1460.8" y="1568.44" width="46.0" height="17.87" fill="#123637"/>
<rect x="1506.4" y="1568.44" width="46.0" height="17.87" fill="#123637"/>
<rect x="1415.2" y="1585.92" width="46.0" height="17.87" fill="#133d3e"/>
<rect x="1460.8" y="1585.92" width="46.0" height="17.87" fill="#195a5a"/>
<rect x="1506.4" y="1585.92" width="46.0" height="17.87" fill="#123637"/>
<rect x="1415.2" y="1603.39" width="46.0" height="17.87" fill="#154445"/>
<rect x="1460.8" y="1603.39" width="46.0" height="17.87" fill="#174b4c"/>
<rect x="1506.4" y="1603.39" width="46.0" height="17.87" fill="#154445"/>
<rect x="1415.2" y="1620.87" width="46.0" height="17.87" fill="#154445"/>
<rect x="1460.8" y="1620.87" width="46.0" height="17.87" fill="#133d3e"/>
<rect x="1506.4" y="1620.87" width="46.0" height="17.87" fill="#123637"/>
<rect x="1415.2" y="1638.34" width="46.0" height="17.87" fill="#154445"/>
<rect x="1460.8" y="1638.34" width="46.0" height="17.87" fill="#154445"/>
<rect x="1506.4" y="1638.34" width="46.0" height="17.87" fill="#185253"/>
<rect x="1415.2" y="1655.81" width="46.0" height="17.87" fill="#133d3e"/>
<rect x="1460.8" y="1655.81" width="46.0" height="17.87" fill="#133d3e"/>
<rect x="1506.4" y="1655.81" width="46.0" height="17.87" fill="#185253"/>
<rect x="1415.2" y="1673.29" width="46.0" height="17.87" fill="#154445"/>
<rect x="1460.8" y="1673.29" width="46.0" height="17.87" fill="#154445"/>
<rect x="1506.4" y="1673.29" width="46.0" height="17.87" fill="#102e30"/>
<rect x="1415.2" y="1690.76" width="46.0" height="17.87" fill="#174b4c"/>
<rect x="1460.8" y="1690.76" width="46.0" height="17.87" fill="#133d3e"/>
<rect x="1506.4" y="1690.76" width="46.0" height="17.87" fill="#102e30"/>
<rect x="1415.2" y="1708.24" width="46.0" height="17.87" fill="#154445"/>
<rect x="1460.8" y="1708.24" width="46.0" height="17.87" fill="#185253"/>
<rect x="1506.4" y="1708.24" width="46.0" height="17.87" fill="#154445"/>
<rect x="1415.2" y="1725.71" width="46.0" height="17.87" fill="#185253"/>
<rect x="1460.8" y="1725.71" width="46.0" height="17.87" fill="#174b4c"/>
<rect x="1506.4" y="1725.71" width="46.0" height="17.87" fill="#154445"/>
<rect x="1415.2" y="1743.19" width="46.0" height="17.87" fill="#154445"/>
<rect x="1460.8" y="1743.19" width="46.0" height="17.87" fill="#0e2728"/>
<rect x="1506.4" y="1743.19" width="46.0" height="17.87" fill="#102e30"/>
<rect x="1415.2" y="1760.66" width="46.0" height="17.87" fill="#185253"/>
<rect x="1460.8" y="1760.66" width="46.0" height="17.87" fill="#123637"/>
<rect x="1506.4" y="1760.66" width="46.0" height="17.87" fill="#102e30"/>
<rect x="1415.2" y="1778.13" width="46.0" height="17.87" fill="#174b4c"/>
<rect x="1460.8" y="1778.13" width="46.0" height="17.87" fill="#133d3e"/>
<rect x="1506.4" y="1778.13" width="46.0" height="17.87" fill="#154445"/>
<rect x="1415.2" y="1795.61" width="46.0" height="17.87" fill="#174b4c"/>
<rect x="1460.8" y="1795.61" width="46.0" height="17.87" fill="#154445"/>
<rect x="1506.4" y="1795.61" width="46.0" height="17.87" fill="#154445"/>
<rect x="1415.2" y="1813.08" width="46.0" height="17.87" fill="#154445"/>
<rect x="1460.8" y="1813.08" width="46.0" height="17.87" fill="#133d3e"/>
<rect x="1506.4" y="1813.08" width="46.0" height="17.87" fill="#133d3e"/>
<rect x="1415.2" y="1830.56" width="46.0" height="17.87" fill="#154445"/>
<rect x="1460.8" y="1830.56" width="46.0" height="17.87" fill="#123637"/>
<rect x="1506.4" y="1830.56" width="46.0" height="17.87" fill="#102e30"/>
<rect x="1415.2" y="1848.03" width="46.0" height="17.87" fill="#133d3e"/>
<rect x="1460.8" y="1848.03" width="46.0" height="17.87" fill="#060806"/>
<rect x="1506.4" y="1848.03" width="46.0" height="17.87" fill="#174b4c"/>
<rect x="1415.2" y="1865.50" width="46.0" height="17.87" fill="#1e1e10"/>
<rect x="1460.8" y="1865.50" width="46.0" height="17.87" fill="#0a1819"/>
<rect x="1506.4" y="1865.50" width="46.0" height="17.87" fill="#123637"/>
<rect x="1415.2" y="1882.98" width="46.0" height="17.87" fill="#0c1f21"/>
<rect x="1460.8" y="1882.98" width="46.0" height="17.87" fill="#2a2915"/>
<rect x="1506.4" y="1882.98" width="46.0" height="17.87" fill="#0c1f21"/>
<rect x="1415.2" y="1900.45" width="46.0" height="17.87" fill="#1c6867"/>
<rect x="1460.8" y="1900.45" width="46.0" height="17.87" fill="#174b4c"/>
<rect x="1506.4" y="1900.45" width="46.0" height="17.87" fill="#185253"/>
<rect x="1415.2" y="1917.93" width="46.0" height="17.87" fill="#174b4c"/>
<rect x="1460.8" y="1917.93" width="46.0" height="17.87" fill="#123637"/>
<rect x="1506.4" y="1917.93" width="46.0" height="17.87" fill="#154445"/>
<rect x="1563.2" y="1463.60" width="46.0" height="17.87" fill="#c6b631"/>
<rect x="1608.8" y="1463.60" width="46.0" height="17.87" fill="#726a29"/>
<rect x="1654.4" y="1463.60" width="46.0" height="17.87" fill="#d2c131"/>
<rect x="1563.2" y="1481.07" width="46.0" height="17.87" fill="#d2c131"/>
<rect x="1608.8" y="1481.07" width="46.0" height="17.87" fill="#5a5423"/>
<rect x="1654.4" y="1481.07" width="46.0" height="17.87" fill="#c6b631"/>
<rect x="1563.2" y="1498.55" width="46.0" height="17.87" fill="#decc30"/>
<rect x="1608.8" y="1498.55" width="46.0" height="17.87" fill="#423e1d"/>
<rect x="1654.4" y="1498.55" width="46.0" height="17.87" fill="#f6e22e"/>
<rect x="1563.2" y="1516.02" width="46.0" height="17.87" fill="#c6b631"/>
<rect x="1608.8" y="1516.02" width="46.0" height="17.87" fill="#a2962f"/>
<rect x="1654.4" y="1516.02" width="46.0" height="17.87" fill="#968b2e"/>
<rect x="1563.2" y="1533.50" width="46.0" height="17.87" fill="#c6b631"/>
<rect x="1608.8" y="1533.50" width="46.0" height="17.87" fill="#a2962f"/>
<rect x="1654.4" y="1533.50" width="46.0" height="17.87" fill="#968b2e"/>
<rect x="1563.2" y="1550.97" width="46.0" height="17.87" fill="#baac31"/>
<rect x="1608.8" y="1550.97" width="46.0" height="17.87" fill="#baac31"/>
<rect x="1654.4" y="1550.97" width="46.0" height="17.87" fill="#968b2e"/>
<rect x="1563.2" y="1568.44" width="46.0" height="17.87" fill="#aea130"/>
<rect x="1608.8" y="1568.44" width="46.0" height="17.87" fill="#decc30"/>
<rect x="1654.4" y="1568.44" width="46.0" height="17.87" fill="#5a5423"/>
<rect x="1563.2" y="1585.92" width="46.0" height="17.87" fill="#aea130"/>
<rect x="1608.8" y="1585.92" width="46.0" height="17.87" fill="#a2962f"/>
<rect x="1654.4" y="1585.92" width="46.0" height="17.87" fill="#968b2e"/>
<rect x="1563.2" y="1603.39" width="46.0" height="17.87" fill="#8a802d"/>
<rect x="1608.8" y="1603.39" width="46.0" height="17.87" fill="#968b2e"/>
<rect x="1654.4" y="1603.39" width="46.0" height="17.87" fill="#8a802d"/>
<rect x="1563.2" y="1620.87" width="46.0" height="17.87" fill="#aea130"/>
<rect x="1608.8" y="1620.87" width="46.0" height="17.87" fill="#a2962f"/>
<rect x="1654.4" y="1620.87" width="46.0" height="17.87" fill="#726a29"/>
<rect x="1563.2" y="1638.34" width="46.0" height="17.87" fill="#f6e22e"/>
<rect x="1608.8" y="1638.34" width="46.0" height="17.87" fill="#a2962f"/>
<rect x="1654.4" y="1638.34" width="46.0" height="17.87" fill="#4e4920"/>
<rect x="1563.2" y="1655.81" width="46.0" height="17.87" fill="#ead72f"/>
<rect x="1608.8" y="1655.81" width="46.0" height="17.87" fill="#7e752b"/>
<rect x="1654.4" y="1655.81" width="46.0" height="17.87" fill="#7e752b"/>
<rect x="1563.2" y="1673.29" width="46.0" height="17.87" fill="#ead72f"/>
<rect x="1608.8" y="1673.29" width="46.0" height="17.87" fill="#a2962f"/>
<rect x="1654.4" y="1673.29" width="46.0" height="17.87" fill="#a2962f"/>
<rect x="1563.2" y="1690.76" width="46.0" height="17.87" fill="#f6e22e"/>
<rect x="1608.8" y="1690.76" width="46.0" height="17.87" fill="#968b2e"/>
<rect x="1654.4" y="1690.76" width="46.0" height="17.87" fill="#665f26"/>
<rect x="1563.2" y="1708.24" width="46.0" height="17.87" fill="#baac31"/>
<rect x="1608.8" y="1708.24" width="46.0" height="17.87" fill="#726a29"/>
<rect x="1654.4" y="1708.24" width="46.0" height="17.87" fill="#baac31"/>
<rect x="1563.2" y="1725.71" width="46.0" height="17.87" fill="#baac31"/>
<rect x="1608.8" y="1725.71" width="46.0" height="17.87" fill="#665f26"/>
<rect x="1654.4" y="1725.71" width="46.0" height="17.87" fill="#a2962f"/>
<rect x="1563.2" y="1743.19" width="46.0" height="17.87" fill="#baac31"/>
<rect x="1608.8" y="1743.19" width="46.0" height="17.87" fill="#a2962f"/>
<rect x="1654.4" y="1743.19" width="46.0" height="17.87" fill="#968b2e"/>
<rect x="1563.2" y="1760.66" width="46.0" height="17.87" fill="#d2c131"/>
<rect x="1608.8" y="1760.66" width="46.0" height="17.87" fill="#7e752b"/>
<rect x="1654.4" y="1760.66" width="46.0" height="17.87" fill="#a2962f"/>
<rect x="1563.2" y="1778.13" width="46.0" height="17.87" fill="#d2c131"/>
<rect x="1608.8" y="1778.13" width="46.0" height="17.87" fill="#968b2e"/>
<rect x="1654.4" y="1778.13" width="46.0" height="17.87" fill="#726a29"/>
<rect x="1563.2" y="1795.61" width="46.0" height="17.87" fill="#d2c131"/>
<rect x="1608.8" y="1795.61" width="46.0" height="17.87" fill="#7e752b"/>
<rect x="1654.4" y="1795.61" width="46.0" height="17.87" fill="#8a802d"/>
<rect x="1563.2" y="1813.08" width="46.0" height="17.87" fill="#c6b631"/>
<rect x="1608.8" y="1813.08" width="46.0" height="17.87" fill="#665f26"/>
<rect x="1654.4" y="1813.08" width="46.0" height="17.87" fill="#aea130"/>
<rect x="1563.2" y="1830.56" width="46.0" height="17.87" fill="#ead72f"/>
<rect x="1608.8" y="1830.56" width="46.0" height="17.87" fill="#7e752b"/>
<rect x="1654.4" y="1830.56" width="46.0" height="17.87" fill="#7e752b"/>
<rect x="1563.2" y="1848.03" width="46.0" height="17.87" fill="#123637"/>
<rect x="1608.8" y="1848.03" width="46.0" height="17.87" fill="#1d6f6e"/>
<rect x="1654.4" y="1848.03" width="46.0" height="17.87" fill="#2a2915"/>
<rect x="1563.2" y="1865.50" width="46.0" height="17.87" fill="#154445"/>
<rect x="1608.8" y="1865.50" width="46.0" height="17.87" fill="#133d3e"/>
<rect x="1654.4" y="1865.50" width="46.0" height="17.87" fill="#123637"/>
<rect x="1563.2" y="1882.98" width="46.0" height="17.87" fill="#0c1f21"/>
<rect x="1608.8" y="1882.98" width="46.0" height="17.87" fill="#0c1f21"/>
<rect x="1654.4" y="1882.98" width="46.0" height="17.87" fill="#1e1e10"/>
<rect x="1563.2" y="1900.45" width="46.0" height="17.87" fill="#0c1f21"/>
<rect x="1608.8" y="1900.45" width="46.0" height="17.87" fill="#071112"/>
<rect x="1654.4" y="1900.45" width="46.0" height="17.87" fill="#1e1e10"/>
<rect x="1563.2" y="1917.93" width="46.0" height="17.87" fill="#4e4920"/>
<rect x="1608.8" y="1917.93" width="46.0" height="17.87" fill="#423e1d"/>
<rect x="1654.4" y="1917.93" width="46.0" height="17.87" fill="#060806"/>
<rect x="1120.2" y="1943.90" width="46.0" height="17.87" fill="#baac31"/>
<rect x="1165.8" y="1943.90" width="46.0" height="17.87" fill="#665f26"/>
<rect x="1211.4" y="1943.90" width="46.0" height="17.87" fill="#7e752b"/>
<rect x="1120.2" y="1961.38" width="46.0" height="17.87" fill="#a2962f"/>
<rect x="1165.8" y="1961.38" width="46.0" height="17.87" fill="#4e4920"/>
<rect x="1211.4" y="1961.38" width="46.0" height="17.87" fill="#1e1e10"/>
<rect x="1120.2" y="1978.85" width="46.0" height="17.87" fill="#1e1e10"/>
<rect x="1165.8" y="1978.85" width="46.0" height="17.87" fill="#d2c131"/>
<rect x="1211.4" y="1978.85" width="46.0" height="17.87" fill="#5a5423"/>
<rect x="1120.2" y="1996.33" width="46.0" height="17.87" fill="#2a2915"/>
<rect x="1165.8" y="1996.33" width="46.0" height="17.87" fill="#5a5423"/>
<rect x="1211.4" y="1996.33" width="46.0" height="17.87" fill="#4e4920"/>
<rect x="1120.2" y="2013.80" width="46.0" height="17.87" fill="#665f26"/>
<rect x="1165.8" y="2013.80" width="46.0" height="17.87" fill="#4e4920"/>
<rect x="1211.4" y="2013.80" width="46.0" height="17.87" fill="#363419"/>
<rect x="1120.2" y="2031.28" width="46.0" height="17.87" fill="#0c1f21"/>
<rect x="1165.8" y="2031.28" width="46.0" height="17.87" fill="#0a1819"/>
<rect x="1211.4" y="2031.28" width="46.0" height="17.87" fill="#154445"/>
<rect x="1120.2" y="2048.75" width="46.0" height="17.87" fill="#0a1819"/>
<rect x="1165.8" y="2048.75" width="46.0" height="17.87" fill="#174b4c"/>
<rect x="1211.4" y="2048.75" width="46.0" height="17.87" fill="#1e1e10"/>
<rect x="1120.2" y="2066.22" width="46.0" height="17.87" fill="#12130b"/>
<rect x="1165.8" y="2066.22" width="46.0" height="17.87" fill="#071112"/>
<rect x="1211.4" y="2066.22" width="46.0" height="17.87" fill="#071112"/>
<rect x="1120.2" y="2083.70" width="46.0" height="17.87" fill="#060806"/>
<rect x="1165.8" y="2083.70" width="46.0" height="17.87" fill="#071112"/>
<rect x="1211.4" y="2083.70" width="46.0" height="17.87" fill="#060806"/>
<rect x="1120.2" y="2101.18" width="46.0" height="17.87" fill="#174b4c"/>
<rect x="1165.8" y="2101.18" width="46.0" height="17.87" fill="#123637"/>
<rect x="1211.4" y="2101.18" width="46.0" height="17.87" fill="#0a1819"/>
<rect x="1120.2" y="2118.65" width="46.0" height="17.87" fill="#102e30"/>
<rect x="1165.8" y="2118.65" width="46.0" height="17.87" fill="#174b4c"/>
<rect x="1211.4" y="2118.65" width="46.0" height="17.87" fill="#133d3e"/>
<rect x="1120.2" y="2136.12" width="46.0" height="17.87" fill="#154445"/>
<rect x="1165.8" y="2136.12" width="46.0" height="17.87" fill="#123637"/>
<rect x="1211.4" y="2136.12" width="46.0" height="17.87" fill="#0c1f21"/>
<rect x="1120.2" y="2153.60" width="46.0" height="17.87" fill="#133d3e"/>
<rect x="1165.8" y="2153.60" width="46.0" height="17.87" fill="#154445"/>
<rect x="1211.4" y="2153.60" width="46.0" height="17.87" fill="#102e30"/>
<rect x="1120.2" y="2171.07" width="46.0" height="17.87" fill="#0c1f21"/>
<rect x="1165.8" y="2171.07" width="46.0" height="17.87" fill="#174b4c"/>
<rect x="1211.4" y="2171.07" width="46.0" height="17.87" fill="#0a1819"/>
<rect x="1120.2" y="2188.55" width="46.0" height="17.87" fill="#0c1f21"/>
<rect x="1165.8" y="2188.55" width="46.0" height="17.87" fill="#0c1f21"/>
<rect x="1211.4" y="2188.55" width="46.0" height="17.87" fill="#174b4c"/>
<rect x="1120.2" y="2206.03" width="46.0" height="17.87" fill="#123637"/>
<rect x="1165.8" y="2206.03" width="46.0" height="17.87" fill="#0a1819"/>
<rect x="1211.4" y="2206.03" width="46.0" height="17.87" fill="#174b4c"/>
<rect x="1267.2" y="1943.90" width="46.3" height="17.87" fill="#0a1819"/>
<rect x="1313.1" y="1943.90" width="46.3" height="17.87" fill="#2a2915"/>
<rect x="1358.9" y="1943.90" width="46.3" height="17.87" fill="#4e4920"/>
<rect x="1267.2" y="1961.38" width="46.3" height="17.87" fill="#a2962f"/>
<rect x="1313.1" y="1961.38" width="46.3" height="17.87" fill="#060806"/>
<rect x="1358.9" y="1961.38" width="46.3" height="17.87" fill="#5a5423"/>
<rect x="1267.2" y="1978.85" width="46.3" height="17.87" fill="#4e4920"/>
<rect x="1313.1" y="1978.85" width="46.3" height="17.87" fill="#665f26"/>
<rect x="1358.9" y="1978.85" width="46.3" height="17.87" fill="#1e1e10"/>
<rect x="1267.2" y="1996.33" width="46.3" height="17.87" fill="#4e4920"/>
<rect x="1313.1" y="1996.33" width="46.3" height="17.87" fill="#7e752b"/>
<rect x="1358.9" y="1996.33" width="46.3" height="17.87" fill="#726a29"/>
<rect x="1267.2" y="2013.80" width="46.3" height="17.87" fill="#363419"/>
<rect x="1313.1" y="2013.80" width="46.3" height="17.87" fill="#665f26"/>
<rect x="1358.9" y="2013.80" width="46.3" height="17.87" fill="#baac31"/>
<rect x="1267.2" y="2031.28" width="46.3" height="17.87" fill="#185253"/>
<rect x="1313.1" y="2031.28" width="46.3" height="17.87" fill="#102e30"/>
<rect x="1358.9" y="2031.28" width="46.3" height="17.87" fill="#1d6f6e"/>
<rect x="1267.2" y="2048.75" width="46.3" height="17.87" fill="#0a1819"/>
<rect x="1313.1" y="2048.75" width="46.3" height="17.87" fill="#123637"/>
<rect x="1358.9" y="2048.75" width="46.3" height="17.87" fill="#133d3e"/>
<rect x="1267.2" y="2066.22" width="46.3" height="17.87" fill="#0a1819"/>
<rect x="1313.1" y="2066.22" width="46.3" height="17.87" fill="#12130b"/>
<rect x="1358.9" y="2066.22" width="46.3" height="17.87" fill="#133d3e"/>
<rect x="1267.2" y="2083.70" width="46.3" height="17.87" fill="#12130b"/>
<rect x="1313.1" y="2083.70" width="46.3" height="17.87" fill="#102e30"/>
<rect x="1358.9" y="2083.70" width="46.3" height="17.87" fill="#102e30"/>
<rect x="1267.2" y="2101.18" width="46.3" height="17.87" fill="#4e4920"/>
<rect x="1313.1" y="2101.18" width="46.3" height="17.87" fill="#0a1819"/>
<rect x="1358.9" y="2101.18" width="46.3" height="17.87" fill="#0a1819"/>
<rect x="1267.2" y="2118.65" width="46.3" height="17.87" fill="#060806"/>
<rect x="1313.1" y="2118.65" width="46.3" height="17.87" fill="#0e2728"/>
<rect x="1358.9" y="2118.65" width="46.3" height="17.87" fill="#0a1819"/>
<rect x="1267.2" y="2136.12" width="46.3" height="17.87" fill="#1e1e10"/>
<rect x="1313.1" y="2136.12" width="46.3" height="17.87" fill="#0a1819"/>
<rect x="1358.9" y="2136.12" width="46.3" height="17.87" fill="#102e30"/>
<rect x="1267.2" y="2153.60" width="46.3" height="17.87" fill="#1e1e10"/>
<rect x="1313.1" y="2153.60" width="46.3" height="17.87" fill="#071112"/>
<rect x="1358.9" y="2153.60" width="46.3" height="17.87" fill="#0a1819"/>
<rect x="1267.2" y="2171.07" width="46.3" height="17.87" fill="#2a2915"/>
<rect x="1313.1" y="2171.07" width="46.3" height="17.87" fill="#423e1d"/>
<rect x="1358.9" y="2171.07" width="46.3" height="17.87" fill="#0e2728"/>
<rect x="1267.2" y="2188.55" width="46.3" height="17.87" fill="#0c1f21"/>
<rect x="1313.1" y="2188.55" width="46.3" height="17.87" fill="#1e1e10"/>
<rect x="1358.9" y="2188.55" width="46.3" height="17.87" fill="#123637"/>
<rect x="1267.2" y="2206.03" width="46.3" height="17.87" fill="#0a1819"/>
<rect x="1313.1" y="2206.03" width="46.3" height="17.87" fill="#5a5423"/>
<rect x="1358.9" y="2206.03" width="46.3" height="17.87" fill="#0c1f21"/>
<rect x="1415.2" y="1943.90" width="46.0" height="17.87" fill="#060806"/>
<rect x="1460.8" y="1943.90" width="46.0" height="17.87" fill="#363419"/>
<rect x="1506.4" y="1943.90" width="46.0" height="17.87" fill="#0e2728"/>
<rect x="1415.2" y="1961.38" width="46.0" height="17.87" fill="#060806"/>
<rect x="1460.8" y="1961.38" width="46.0" height="17.87" fill="#2a2915"/>
<rect x="1506.4" y="1961.38" width="46.0" height="17.87" fill="#0e2728"/>
<rect x="1415.2" y="1978.85" width="46.0" height="17.87" fill="#4e4920"/>
<rect x="1460.8" y="1978.85" width="46.0" height="17.87" fill="#0c1f21"/>
<rect x="1506.4" y="1978.85" width="46.0" height="17.87" fill="#154445"/>
<rect x="1415.2" y="1996.33" width="46.0" height="17.87" fill="#133d3e"/>
<rect x="1460.8" y="1996.33" width="46.0" height="17.87" fill="#12130b"/>
<rect x="1506.4" y="1996.33" width="46.0" height="17.87" fill="#133d3e"/>
<rect x="1415.2" y="2013.80" width="46.0" height="17.87" fill="#0e2728"/>
<rect x="1460.8" y="2013.80" width="46.0" height="17.87" fill="#060806"/>
<rect x="1506.4" y="2013.80" width="46.0" height="17.87" fill="#174b4c"/>
<rect x="1415.2" y="2031.28" width="46.0" height="17.87" fill="#726a29"/>
<rect x="1460.8" y="2031.28" width="46.0" height="17.87" fill="#a2962f"/>
<rect x="1506.4" y="2031.28" width="46.0" height="17.87" fill="#2a2915"/>
<rect x="1415.2" y="2048.75" width="46.0" height="17.87" fill="#174b4c"/>
<rect x="1460.8" y="2048.75" width="46.0" height="17.87" fill="#1e1e10"/>
<rect x="1506.4" y="2048.75" width="46.0" height="17.87" fill="#0a1819"/>
<rect x="1415.2" y="2066.22" width="46.0" height="17.87" fill="#123637"/>
<rect x="1460.8" y="2066.22" width="46.0" height="17.87" fill="#123637"/>
<rect x="1506.4" y="2066.22" width="46.0" height="17.87" fill="#1c6867"/>
<rect x="1415.2" y="2083.70" width="46.0" height="17.87" fill="#154445"/>
<rect x="1460.8" y="2083.70" width="46.0" height="17.87" fill="#154445"/>
<rect x="1506.4" y="2083.70" width="46.0" height="17.87" fill="#174b4c"/>
<rect x="1415.2" y="2101.18" width="46.0" height="17.87" fill="#123637"/>
<rect x="1460.8" y="2101.18" width="46.0" height="17.87" fill="#102e30"/>
<rect x="1506.4" y="2101.18" width="46.0" height="17.87" fill="#174b4c"/>
<rect x="1415.2" y="2118.65" width="46.0" height="17.87" fill="#102e30"/>
<rect x="1460.8" y="2118.65" width="46.0" height="17.87" fill="#060806"/>
<rect x="1506.4" y="2118.65" width="46.0" height="17.87" fill="#0e2728"/>
<rect x="1415.2" y="2136.12" width="46.0" height="17.87" fill="#0c1f21"/>
<rect x="1460.8" y="2136.12" width="46.0" height="17.87" fill="#0e2728"/>
<rect x="1506.4" y="2136.12" width="46.0" height="17.87" fill="#123637"/>
<rect x="1415.2" y="2153.60" width="46.0" height="17.87" fill="#123637"/>
<rect x="1460.8" y="2153.60" width="46.0" height="17.87" fill="#0e2728"/>
<rect x="1506.4" y="2153.60" width="46.0" height="17.87" fill="#0e2728"/>
<rect x="1415.2" y="2171.07" width="46.0" height="17.87" fill="#185253"/>
<rect x="1460.8" y="2171.07" width="46.0" height="17.87" fill="#133d3e"/>
<rect x="1506.4" y="2171.07" width="46.0" height="17.87" fill="#123637"/>
<rect x="1415.2" y="2188.55" width="46.0" height="17.87" fill="#174b4c"/>
<rect x="1460.8" y="2188.55" width="46.0" height="17.87" fill="#0e2728"/>
<rect x="1506.4" y="2188.55" width="46.0" height="17.87" fill="#0a1819"/>
<rect x="1415.2" y="2206.03" width="46.0" height="17.87" fill="#123637"/>
<rect x="1460.8" y="2206.03" width="46.0" height="17.87" fill="#133d3e"/>
<rect x="1506.4" y="2206.03" width="46.0" height="17.87" fill="#102e30"/>
<rect x="1563.2" y="1943.90" width="46.0" height="17.87" fill="#1e7d7b"/>
<rect x="1608.8" y="1943.90" width="46.0" height="17.87" fill="#195a5a"/>
<rect x="1654.4" y="1943.90" width="46.0" height="17.87" fill="#133d3e"/>
<rect x="1563.2" y="1961.38" width="46.0" height="17.87" fill="#195a5a"/>
<rect x="1608.8" y="1961.38" width="46.0" height="17.87" fill="#1a6161"/>
<rect x="1654.4" y="1961.38" width="46.0" height="17.87" fill="#1a6161"/>
<rect x="1563.2" y="1978.85" width="46.0" height="17.87" fill="#1e7d7b"/>
<rect x="1608.8" y="1978.85" width="46.0" height="17.87" fill="#123637"/>
<rect x="1654.4" y="1978.85" width="46.0" height="17.87" fill="#174b4c"/>
<rect x="1563.2" y="1996.33" width="46.0" height="17.87" fill="#20918e"/>
<rect x="1608.8" y="1996.33" width="46.0" height="17.87" fill="#133d3e"/>
<rect x="1654.4" y="1996.33" width="46.0" height="17.87" fill="#12130b"/>
<rect x="1563.2" y="2013.80" width="46.0" height="17.87" fill="#1d7674"/>
<rect x="1608.8" y="2013.80" width="46.0" height="17.87" fill="#1a6161"/>
<rect x="1654.4" y="2013.80" width="46.0" height="17.87" fill="#0a1819"/>
<rect x="1563.2" y="2031.28" width="46.0" height="17.87" fill="#968b2e"/>
<rect x="1608.8" y="2031.28" width="46.0" height="17.87" fill="#7e752b"/>
<rect x="1654.4" y="2031.28" width="46.0" height="17.87" fill="#2a2915"/>
<rect x="1563.2" y="2048.75" width="46.0" height="17.87" fill="#f6e22e"/>
<rect x="1608.8" y="2048.75" width="46.0" height="17.87" fill="#665f26"/>
<rect x="1654.4" y="2048.75" width="46.0" height="17.87" fill="#726a29"/>
<rect x="1563.2" y="2066.22" width="46.0" height="17.87" fill="#f6e22e"/>
<rect x="1608.8" y="2066.22" width="46.0" height="17.87" fill="#665f26"/>
<rect x="1654.4" y="2066.22" width="46.0" height="17.87" fill="#8a802d"/>
<rect x="1563.2" y="2083.70" width="46.0" height="17.87" fill="#f6e22e"/>
<rect x="1608.8" y="2083.70" width="46.0" height="17.87" fill="#a2962f"/>
<rect x="1654.4" y="2083.70" width="46.0" height="17.87" fill="#5a5423"/>
<rect x="1563.2" y="2101.18" width="46.0" height="17.87" fill="#ead72f"/>
<rect x="1608.8" y="2101.18" width="46.0" height="17.87" fill="#665f26"/>
<rect x="1654.4" y="2101.18" width="46.0" height="17.87" fill="#aea130"/>
<rect x="1563.2" y="2118.65" width="46.0" height="17.87" fill="#f6e22e"/>
<rect x="1608.8" y="2118.65" width="46.0" height="17.87" fill="#423e1d"/>
<rect x="1654.4" y="2118.65" width="46.0" height="17.87" fill="#ead72f"/>
<rect x="1563.2" y="2136.12" width="46.0" height="17.87" fill="#f6e22e"/>
<rect x="1608.8" y="2136.12" width="46.0" height="17.87" fill="#423e1d"/>
<rect x="1654.4" y="2136.12" width="46.0" height="17.87" fill="#decc30"/>
<rect x="1563.2" y="2153.60" width="46.0" height="17.87" fill="#f6e22e"/>
<rect x="1608.8" y="2153.60" width="46.0" height="17.87" fill="#363419"/>
<rect x="1654.4" y="2153.60" width="46.0" height="17.87" fill="#a2962f"/>
<rect x="1563.2" y="2171.07" width="46.0" height="17.87" fill="#aea130"/>
<rect x="1608.8" y="2171.07" width="46.0" height="17.87" fill="#aea130"/>
<rect x="1654.4" y="2171.07" width="46.0" height="17.87" fill="#a2962f"/>
<rect x="1563.2" y="2188.55" width="46.0" height="17.87" fill="#f6e22e"/>
<rect x="1608.8" y="2188.55" width="46.0" height="17.87" fill="#a2962f"/>
<rect x="1654.4" y="2188.55" width="46.0" height="17.87" fill="#a2962f"/>
<rect x="1563.2" y="2206.03" width="46.0" height="17.87" fill="#decc30"/>
<rect x="1608.8" y="2206.03" width="46.0" height="17.87" fill="#baac31"/>
<rect x="1654.4" y="2206.03" width="46.0" height="17.87" fill="#726a29"/>
<rect x="1257.00" y="1120.00" width="10.20" height="1106.00" fill="#fff"/>
<rect x="1404.80" y="1120.00" width="10.40" height="1106.00" fill="#fff"/>
<rect x="1552.00" y="1120.00" width="11.20" height="1106.00" fill="#fff"/>
<rect x="1118.00" y="1454.80" width="584.00" height="8.80" fill="#fff"/>
<rect x="1118.00" y="1118.00" width="584.00" height="4.00" fill="#fff"/>
<rect x="1118.00" y="1935.40" width="584.00" height="8.50" fill="#fff"/>
<rect x="1118.00" y="2223.50" width="584.00" height="3.00" fill="#fff"/>
</g>
<text x="1068.5" y="1286.0" font-size="35.8" text-anchor="middle" transform="rotate(-90 1068.5 1286.0)">Downregulated in</text>
<text x="1108.3" y="1287.0" font-size="35" text-anchor="middle" transform="rotate(-90 1108.3 1287.0)">maturation</text>
<text x="1068.5" y="1686.0" font-size="35.8" text-anchor="middle" transform="rotate(-90 1068.5 1686.0)">Upregulated in</text>
<text x="1108.3" y="1688.0" font-size="35" text-anchor="middle" transform="rotate(-90 1108.3 1688.0)">maturation</text>
<text x="1068.5" y="2081.0" font-size="35.8" text-anchor="middle" transform="rotate(-90 1068.5 2081.0)">Unchanged in</text>
<text x="1108.3" y="2081.0" font-size="35" text-anchor="middle" transform="rotate(-90 1108.3 2081.0)">maturation</text>
<defs><linearGradient id="zs" x1="0" x2="1" y1="0" y2="0"><stop offset="0" stop-color="#4c9c9a"/><stop offset="0.08" stop-color="#3a8684"/><stop offset="0.27" stop-color="#184240"/><stop offset="0.42" stop-color="#051514"/><stop offset="0.5" stop-color="#000"/><stop offset="0.58" stop-color="#15130a"/><stop offset="0.73" stop-color="#645c22"/><stop offset="0.92" stop-color="#c8b83c"/><stop offset="1" stop-color="#f2e350"/></linearGradient></defs>
<rect x="1344.00" y="2315.10" width="155.70" height="32.90" fill="url(#zs)"/>
<line x1="1349.6" y1="2315.1" x2="1349.6" y2="2324.0" stroke="#fff" stroke-width="1.5" opacity="0.75"/>
<line x1="1349.6" y1="2339.0" x2="1349.6" y2="2348.0" stroke="#fff" stroke-width="1.5" opacity="0.75"/>
<line x1="1385.1" y1="2315.1" x2="1385.1" y2="2324.0" stroke="#fff" stroke-width="1.5" opacity="0.75"/>
<line x1="1385.1" y1="2339.0" x2="1385.1" y2="2348.0" stroke="#fff" stroke-width="1.5" opacity="0.75"/>
<line x1="1421.8" y1="2315.1" x2="1421.8" y2="2324.0" stroke="#fff" stroke-width="1.5" opacity="0.75"/>
<line x1="1421.8" y1="2339.0" x2="1421.8" y2="2348.0" stroke="#fff" stroke-width="1.5" opacity="0.75"/>
<line x1="1458.6" y1="2315.1" x2="1458.6" y2="2324.0" stroke="#fff" stroke-width="1.5" opacity="0.75"/>
<line x1="1458.6" y1="2339.0" x2="1458.6" y2="2348.0" stroke="#fff" stroke-width="1.5" opacity="0.75"/>
<line x1="1494.5" y1="2315.1" x2="1494.5" y2="2324.0" stroke="#fff" stroke-width="1.5" opacity="0.75"/>
<line x1="1494.5" y1="2339.0" x2="1494.5" y2="2348.0" stroke="#fff" stroke-width="1.5" opacity="0.75"/>
<text x="1419.7" y="2303.8" font-size="35" text-anchor="middle">Z-score</text>
<text x="1416.0" y="2390.4" font-size="35" text-anchor="middle">-2 -1 0 1 2</text>
</g>
<g id="panel_g">
<text x="-1.0" y="1731.5" font-size="55.5">g</text>
<rect x="220.60" y="1985.30" width="612.40" height="103.40" fill="#d2d2d2"/>
<rect x="220.60" y="1985.30" width="9.60" height="103.40" fill="#a9d8e6"/>
<rect x="803.10" y="1985.30" width="30.10" height="103.40" fill="#f6bccb"/>
<g stroke="#df2a2a" stroke-width="4.9" stroke-linecap="round"><path d="M254.8,1933.6V2036.8"/><path d="M284.8,1933.6V2036.8"/><path d="M403.3,1933.6V2036.8"/><path d="M472.1,1933.6V2036.8"/><path d="M482.1,1933.6V2036.8"/><path d="M492.0,1933.6V2036.8"/><path d="M511.9,1933.6V2036.8"/><path d="M531.5,1933.6V2036.8"/><path d="M541.5,1933.6V2036.8"/><path d="M551.4,1933.6V2036.8"/><path d="M561.4,1933.6V2036.8"/><path d="M571.1,1933.6V2036.8"/><path d="M591.0,1933.6V2036.8"/><path d="M610.6,1933.6V2036.8"/><path d="M660.0,1933.6V2036.8"/><path d="M670.0,1933.6V2036.8"/><path d="M699.6,1933.6V2036.8"/><path d="M709.5,1933.6V2036.8"/><path d="M719.5,1933.6V2036.8"/><path d="M729.4,1933.6V2036.8"/><path d="M739.4,1933.6V2036.8"/><path d="M749.0,1933.6V2036.8"/><path d="M759.0,1933.6V2036.8"/><path d="M768.9,1933.6V2036.8"/><path d="M778.9,1933.6V2036.8"/><path d="M788.8,1933.6V2036.8"/><path d="M798.5,1933.6V2036.8"/></g>
<g stroke="#3f55a5" stroke-width="4.9" stroke-linecap="round"><path d="M225.2,2037.8V2139.6"/><path d="M235.1,2037.8V2139.6"/><path d="M245.1,2037.8V2139.6"/><path d="M264.7,2037.8V2139.6"/><path d="M314.4,2037.8V2139.6"/><path d="M324.1,2037.8V2139.6"/><path d="M334.1,2037.8V2139.6"/><path d="M343.7,2037.8V2139.6"/><path d="M353.7,2037.8V2139.6"/><path d="M363.6,2037.8V2139.6"/><path d="M383.3,2037.8V2139.6"/><path d="M393.2,2037.8V2139.6"/><path d="M413.1,2037.8V2139.6"/><path d="M422.8,2037.8V2139.6"/><path d="M432.7,2037.8V2139.6"/><path d="M442.7,2037.8V2139.6"/><path d="M452.6,2037.8V2139.6"/><path d="M679.7,2037.8V2139.6"/><path d="M828.1,2037.8V2139.6"/></g>
<path d="M172.4,1820.1H190.8V1923H172.4" fill="none" stroke="#000" stroke-width="2.3"/>
<path d="M172.4,2150.8H190.8V2253.2H172.4" fill="none" stroke="#000" stroke-width="2.3"/>
<line x1="189.7" y1="1864.2" x2="853.5" y2="1864.2" stroke="#000" stroke-width="2.8" stroke-dasharray="9.9 9.4"/>
<line x1="189.7" y1="2193.9" x2="853.5" y2="2193.9" stroke="#000" stroke-width="2.8" stroke-dasharray="9.9 9.4"/>
<path d="M224.7,1895.3C227.2,1895.8 233.8,1897.1 239.6,1898.1C245.4,1899.1 252.7,1900.4 259.3,1901.3C265.9,1902.2 272.5,1902.7 279.1,1903.2C285.7,1903.7 292.3,1903.9 298.9,1904.2C305.5,1904.5 312.1,1904.4 318.7,1904.8C325.3,1905.2 332.5,1905.8 338.4,1906.4C344.3,1907.0 349.7,1907.8 354.3,1908.2C358.9,1908.6 362.2,1908.9 366.1,1908.8C370.1,1908.7 374.0,1908.5 378.0,1907.8C382.0,1907.1 385.3,1906.3 389.9,1904.8C394.5,1903.3 400.4,1901.2 405.7,1898.9C411.0,1896.6 416.2,1893.7 421.5,1891.0C426.8,1888.3 432.0,1885.5 437.3,1882.5C442.6,1879.5 447.9,1876.4 453.2,1873.2C458.5,1870.0 463.7,1866.4 469.0,1863.3C474.3,1860.2 480.0,1857.2 484.8,1854.4C489.6,1851.6 493.4,1848.8 498.0,1846.6C502.6,1844.4 507.9,1842.7 512.5,1841.4C517.0,1840.2 520.8,1839.7 525.3,1839.1C529.8,1838.6 534.8,1838.2 539.5,1838.3C544.2,1838.4 549.0,1838.9 553.7,1839.7C558.5,1840.5 563.2,1841.9 567.9,1843.1C572.7,1844.3 577.4,1845.9 582.2,1847.1C586.9,1848.3 591.6,1849.4 596.4,1850.2C601.1,1851.1 605.8,1851.8 610.6,1852.2C615.3,1852.6 620.1,1852.8 624.8,1852.8C629.5,1852.8 634.3,1852.7 639.0,1852.2C643.7,1851.7 648.5,1850.9 653.2,1849.7C658.0,1848.4 662.7,1846.7 667.4,1844.8C672.2,1842.9 676.9,1840.5 681.7,1838.3C686.4,1836.1 691.1,1833.8 695.9,1831.7C700.6,1829.7 705.3,1827.7 710.1,1826.1C714.8,1824.4 719.6,1823.1 724.3,1822.1C729.0,1821.0 733.8,1820.3 738.5,1819.8C743.3,1819.3 748.0,1819.2 752.7,1819.2C757.5,1819.3 762.2,1819.7 766.9,1820.1C771.7,1820.5 776.4,1821.0 781.2,1821.8C785.9,1822.6 790.6,1823.5 795.4,1824.6C800.1,1825.8 805.3,1827.4 809.6,1828.9C813.9,1830.4 817.8,1832.1 821.0,1833.4C824.1,1834.8 827.4,1836.3 828.6,1836.9" fill="none" stroke="#df2a2a" stroke-width="4.7" stroke-linecap="round"/>
<path d="M224.3,2229.6C226.3,2229.5 231.4,2228.5 236.3,2229.0C241.1,2229.5 247.6,2231.2 253.3,2232.4C259.0,2233.6 264.7,2235.1 270.4,2236.1C276.1,2237.1 281.8,2237.9 287.4,2238.4C293.1,2238.9 298.8,2238.7 304.5,2239.0C310.2,2239.2 315.9,2239.1 321.6,2239.8C327.2,2240.5 332.9,2241.8 338.6,2243.2C344.3,2244.6 350.5,2246.8 355.7,2248.3C360.9,2249.9 365.6,2251.5 369.9,2252.3C374.2,2253.2 377.7,2253.4 381.3,2253.5C384.8,2253.5 387.6,2253.3 391.2,2252.6C394.8,2251.9 399.5,2250.8 403.0,2249.3C406.5,2247.8 409.3,2245.9 412.5,2243.8C415.7,2241.7 418.2,2239.8 422.3,2236.8C426.4,2233.8 431.6,2230.0 437.1,2225.7C442.7,2221.4 449.4,2215.5 455.6,2210.9C461.8,2206.3 468.0,2202.2 474.2,2197.9C480.4,2193.6 486.5,2189.2 492.7,2184.9C498.9,2180.6 505.1,2175.9 511.3,2171.9C517.5,2167.9 524.9,2163.4 529.8,2160.8C534.7,2158.2 537.2,2157.6 540.9,2156.2C544.6,2154.8 548.3,2153.2 552.0,2152.4C555.7,2151.6 559.5,2151.4 563.2,2151.2C566.9,2151.0 570.6,2151.0 574.3,2151.2C578.0,2151.4 580.4,2151.7 585.4,2152.4C590.4,2153.1 597.8,2154.3 604.0,2155.2C610.2,2156.0 616.3,2156.9 622.5,2157.5C628.7,2158.1 634.8,2158.6 641.0,2158.9C647.2,2159.2 653.4,2159.4 659.6,2159.5C665.8,2159.6 671.4,2159.6 678.1,2159.7C684.8,2159.8 692.5,2159.8 700.0,2159.8C707.5,2159.9 714.8,2159.9 723.1,2160.0C731.4,2160.1 740.7,2160.3 750.0,2160.6C759.3,2160.9 770.2,2161.3 778.7,2161.7C787.2,2162.1 794.5,2162.2 801.0,2162.8C807.5,2163.4 813.1,2164.3 817.7,2165.0C822.3,2165.7 826.9,2166.8 828.8,2167.2" fill="none" stroke="#3f55a5" stroke-width="4.8" stroke-linecap="round"/>
<line x1="224.1" y1="2271.4" x2="829.3" y2="2271.4" stroke="#000" stroke-width="2.2"/>
<line x1="225.2" y1="2270.6" x2="225.2" y2="2288.5" stroke="#000" stroke-width="2.2"/>
<text x="236.0" y="2294.8" font-size="34.8" text-anchor="end" transform="rotate(-90 236.0 2294.8)">−2.1</text>
<line x1="285.5" y1="2270.6" x2="285.5" y2="2288.5" stroke="#000" stroke-width="2.2"/>
<text x="296.3" y="2294.8" font-size="34.8" text-anchor="end" transform="rotate(-90 296.3 2294.8)">−0.6</text>
<line x1="345.8" y1="2270.6" x2="345.8" y2="2288.5" stroke="#000" stroke-width="2.2"/>
<text x="356.6" y="2294.8" font-size="34.8" text-anchor="end" transform="rotate(-90 356.6 2294.8)">−0.5</text>
<line x1="406.1" y1="2270.6" x2="406.1" y2="2288.5" stroke="#000" stroke-width="2.2"/>
<text x="416.9" y="2294.8" font-size="34.8" text-anchor="end" transform="rotate(-90 416.9 2294.8)">−0.4</text>
<line x1="466.4" y1="2270.6" x2="466.4" y2="2288.5" stroke="#000" stroke-width="2.2"/>
<text x="477.2" y="2294.8" font-size="34.8" text-anchor="end" transform="rotate(-90 477.2 2294.8)">−0.3</text>
<line x1="526.7" y1="2270.6" x2="526.7" y2="2288.5" stroke="#000" stroke-width="2.2"/>
<text x="537.5" y="2294.8" font-size="34.8" text-anchor="end" transform="rotate(-90 537.5 2294.8)">0.4</text>
<line x1="587.0" y1="2270.6" x2="587.0" y2="2288.5" stroke="#000" stroke-width="2.2"/>
<text x="597.8" y="2294.8" font-size="34.8" text-anchor="end" transform="rotate(-90 597.8 2294.8)">0.5</text>
<line x1="647.3" y1="2270.6" x2="647.3" y2="2288.5" stroke="#000" stroke-width="2.2"/>
<text x="658.1" y="2294.8" font-size="34.8" text-anchor="end" transform="rotate(-90 658.1 2294.8)">0.6</text>
<line x1="707.6" y1="2270.6" x2="707.6" y2="2288.5" stroke="#000" stroke-width="2.2"/>
<text x="718.4" y="2294.8" font-size="34.8" text-anchor="end" transform="rotate(-90 718.4 2294.8)">0.7</text>
<line x1="767.9" y1="2270.6" x2="767.9" y2="2288.5" stroke="#000" stroke-width="2.2"/>
<text x="778.7" y="2294.8" font-size="34.8" text-anchor="end" transform="rotate(-90 778.7 2294.8)">0.8</text>
<line x1="828.2" y1="2270.6" x2="828.2" y2="2288.5" stroke="#000" stroke-width="2.2"/>
<text x="839.0" y="2294.8" font-size="34.8" text-anchor="end" transform="rotate(-90 839.0 2294.8)">2.4</text>
<text x="551.5" y="2404.8" font-size="35.4" text-anchor="middle">log<tspan font-size="27" dy="8">2</tspan><tspan dy="-8">​</tspan> fold-change</text>
<text x="120.4" y="1864.0" font-size="32" text-anchor="middle" transform="rotate(-90 120.4 1864.0)">Enrichment</text>
<text x="120.4" y="2212.7" font-size="32" text-anchor="middle" transform="rotate(-90 120.4 2212.7)">Enrichment</text>
<text x="166.3" y="1820.1" font-size="34.3" text-anchor="middle" transform="rotate(-90 166.3 1820.1)">1.7</text>
<text x="166.3" y="1923.0" font-size="34.3" text-anchor="middle" transform="rotate(-90 166.3 1923.0)">0</text>
<text x="166.3" y="2150.8" font-size="34.3" text-anchor="middle" transform="rotate(-90 166.3 2150.8)">0</text>
<text x="166.3" y="2253.2" font-size="34.3" text-anchor="middle" transform="rotate(-90 166.3 2253.2)">2.4</text>
<text x="206.7" y="2038.0" font-size="32" text-anchor="middle" transform="rotate(-90 206.7 2038.0)">Down Dox D7</text>
<text x="867.9" y="2038.0" font-size="32" text-anchor="middle" transform="rotate(-90 867.9 2038.0)">Up Dox D7</text>
</g>
</svg>
</body></html>
